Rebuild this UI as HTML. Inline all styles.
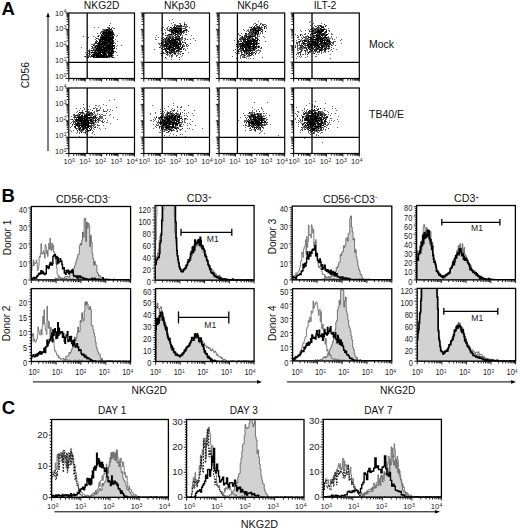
<!DOCTYPE html>
<html><head><meta charset="utf-8"><style>
html,body{margin:0;padding:0;background:#fff;}
svg{display:block;font-family:"Liberation Sans", sans-serif;}
</style></head><body>
<svg width="520" height="530" viewBox="0 0 520 530">
<rect width="520" height="530" fill="#fff"/>
<path d="M109 28h1v1h-1zM106 29h2v1h-2zM110 29h1v1h-1zM106 30h4v1h-4zM102 31h1v1h-1zM106 31h1v1h-1zM108 31h3v1h-3zM112 31h1v1h-1zM103 32h10v1h-10zM102 33h3v1h-3zM106 33h6v1h-6zM103 34h1v1h-1zM105 34h6v1h-6zM112 34h2v1h-2zM101 35h2v1h-2zM104 35h9v1h-9zM98 36h1v1h-1zM102 36h7v1h-7zM110 36h1v1h-1zM113 36h1v1h-1zM100 37h13v1h-13zM101 38h6v1h-6zM108 38h5v1h-5zM100 39h13v1h-13zM99 40h2v1h-2zM102 40h1v1h-1zM104 40h7v1h-7zM112 40h1v1h-1zM99 41h6v1h-6zM107 41h4v1h-4zM112 41h1v1h-1zM96 42h1v1h-1zM99 42h1v1h-1zM102 42h5v1h-5zM108 42h5v1h-5zM98 43h10v1h-10zM110 43h4v1h-4zM98 44h5v1h-5zM104 44h1v1h-1zM106 44h1v1h-1zM108 44h3v1h-3zM112 44h1v1h-1zM96 45h4v1h-4zM101 45h1v1h-1zM103 45h3v1h-3zM107 45h4v1h-4zM112 45h3v1h-3zM95 46h1v1h-1zM97 46h3v1h-3zM101 46h3v1h-3zM106 46h7v1h-7zM95 47h1v1h-1zM97 47h5v1h-5zM103 47h7v1h-7zM111 47h2v1h-2zM114 47h1v1h-1zM96 48h6v1h-6zM103 48h11v1h-11zM96 49h15v1h-15zM112 49h1v1h-1zM91 50h1v1h-1zM95 50h7v1h-7zM103 50h5v1h-5zM109 50h4v1h-4zM89 51h1v1h-1zM95 51h1v1h-1zM98 51h3v1h-3zM102 51h1v1h-1zM104 51h3v1h-3zM108 51h2v1h-2zM111 51h3v1h-3zM91 52h4v1h-4zM96 52h1v1h-1zM98 52h8v1h-8zM108 52h4v1h-4zM113 52h1v1h-1zM95 53h6v1h-6zM103 53h3v1h-3zM108 53h5v1h-5zM86 54h1v1h-1zM89 54h1v1h-1zM93 54h6v1h-6zM100 54h2v1h-2zM103 54h4v1h-4zM109 54h3v1h-3zM91 55h1v1h-1zM93 55h2v1h-2zM96 55h9v1h-9zM106 55h1v1h-1zM108 55h4v1h-4zM85 56h1v1h-1zM91 56h3v1h-3zM96 56h16v1h-16zM88 57h1v1h-1zM93 57h2v1h-2zM96 57h4v1h-4zM102 57h3v1h-3zM106 57h2v1h-2zM112 57h1v1h-1z" fill="#000"/>
<path d="M108 28h1v1h-1zM111 28h1v1h-1zM109 29h1v1h-1zM111 29h1v1h-1zM104 30h2v1h-2zM112 30h1v1h-1zM103 31h3v1h-3zM111 31h1v1h-1zM100 33h1v1h-1zM105 33h1v1h-1zM112 33h2v1h-2zM101 34h1v1h-1zM104 34h1v1h-1zM111 34h1v1h-1zM109 36h1v1h-1zM112 36h1v1h-1zM88 37h1v1h-1zM113 37h1v1h-1zM96 38h1v1h-1zM100 38h1v1h-1zM107 38h1v1h-1zM113 38h1v1h-1zM99 39h1v1h-1zM96 40h1v1h-1zM111 40h1v1h-1zM113 40h1v1h-1zM97 41h1v1h-1zM105 41h2v1h-2zM111 41h1v1h-1zM113 41h1v1h-1zM95 42h1v1h-1zM98 42h1v1h-1zM100 42h1v1h-1zM107 42h1v1h-1zM95 43h1v1h-1zM97 43h1v1h-1zM109 43h1v1h-1zM115 43h1v1h-1zM94 44h1v1h-1zM103 44h1v1h-1zM105 44h1v1h-1zM107 44h1v1h-1zM111 44h1v1h-1zM93 45h1v1h-1zM100 45h1v1h-1zM102 45h1v1h-1zM106 45h1v1h-1zM111 45h1v1h-1zM96 46h1v1h-1zM100 46h1v1h-1zM105 46h1v1h-1zM113 46h1v1h-1zM92 47h1v1h-1zM102 47h1v1h-1zM110 47h1v1h-1zM114 48h1v1h-1zM93 49h1v1h-1zM111 49h1v1h-1zM92 50h3v1h-3zM102 50h1v1h-1zM108 50h1v1h-1zM97 51h1v1h-1zM101 51h1v1h-1zM103 51h1v1h-1zM107 51h1v1h-1zM89 52h1v1h-1zM95 52h1v1h-1zM107 52h1v1h-1zM112 52h1v1h-1zM89 53h1v1h-1zM94 53h1v1h-1zM102 53h1v1h-1zM107 53h1v1h-1zM92 54h1v1h-1zM99 54h1v1h-1zM108 54h1v1h-1zM95 55h1v1h-1zM105 55h1v1h-1zM112 55h1v1h-1zM94 56h1v1h-1zM95 57h1v1h-1zM100 57h2v1h-2zM105 57h1v1h-1zM109 57h1v1h-1z" fill="#2a2a2a"/>
<path d="M110 23h1v1h-1zM109 25h1v1h-1zM94 27h1v1h-1zM98 27h1v1h-1zM107 27h3v1h-3zM112 27h1v1h-1zM113 28h2v1h-2zM102 29h4v1h-4zM108 29h1v1h-1zM103 30h1v1h-1zM110 30h2v1h-2zM101 31h1v1h-1zM107 31h1v1h-1zM100 32h3v1h-3zM113 32h1v1h-1zM97 33h1v1h-1zM102 34h1v1h-1zM114 34h1v1h-1zM98 35h2v1h-2zM103 35h1v1h-1zM114 35h1v1h-1zM117 35h1v1h-1zM83 36h1v1h-1zM93 36h1v1h-1zM97 36h1v1h-1zM100 36h2v1h-2zM111 36h1v1h-1zM116 36h1v1h-1zM95 37h1v1h-1zM97 38h2v1h-2zM95 39h1v1h-1zM98 39h1v1h-1zM115 39h1v1h-1zM101 40h1v1h-1zM103 40h1v1h-1zM95 41h2v1h-2zM117 41h1v1h-1zM101 42h1v1h-1zM113 42h2v1h-2zM94 43h1v1h-1zM96 43h1v1h-1zM108 43h1v1h-1zM91 44h3v1h-3zM97 44h1v1h-1zM94 45h2v1h-2zM117 45h1v1h-1zM121 45h1v1h-1zM91 46h2v1h-2zM94 46h1v1h-1zM104 46h1v1h-1zM114 46h1v1h-1zM116 46h1v1h-1zM81 47h1v1h-1zM93 47h2v1h-2zM96 47h1v1h-1zM91 48h5v1h-5zM102 48h1v1h-1zM116 48h1v1h-1zM89 49h1v1h-1zM94 49h2v1h-2zM113 49h1v1h-1zM88 50h3v1h-3zM113 50h1v1h-1zM88 51h1v1h-1zM92 51h1v1h-1zM94 51h1v1h-1zM96 51h1v1h-1zM110 51h1v1h-1zM114 51h2v1h-2zM85 52h1v1h-1zM90 52h1v1h-1zM97 52h1v1h-1zM106 52h1v1h-1zM116 52h1v1h-1zM88 53h1v1h-1zM91 53h1v1h-1zM93 53h1v1h-1zM106 53h1v1h-1zM113 53h1v1h-1zM90 54h1v1h-1zM102 54h1v1h-1zM112 54h1v1h-1zM87 55h3v1h-3zM92 55h1v1h-1zM107 55h1v1h-1zM113 55h1v1h-1zM117 55h1v1h-1zM84 56h1v1h-1zM87 56h4v1h-4zM95 56h1v1h-1zM112 56h1v1h-1zM86 57h2v1h-2zM90 57h1v1h-1zM108 57h1v1h-1zM111 57h1v1h-1zM113 57h2v1h-2z" fill="#666"/>
<path d="M68.40 78.50h-2.8M68.40 73.57h-1.8M68.40 70.69h-1.8M68.40 68.64h-1.8M68.40 67.05h-1.8M68.40 65.76h-1.8M68.40 64.66h-1.8M68.40 63.71h-1.8M68.40 62.87h-1.8M68.40 62.12h-2.8M68.40 57.20h-1.8M68.40 54.31h-1.8M68.40 52.27h-1.8M68.40 50.68h-1.8M68.40 49.38h-1.8M68.40 48.29h-1.8M68.40 47.34h-1.8M68.40 46.50h-1.8M68.40 45.75h-2.8M68.40 40.82h-1.8M68.40 37.94h-1.8M68.40 35.89h-1.8M68.40 34.30h-1.8M68.40 33.01h-1.8M68.40 31.91h-1.8M68.40 30.96h-1.8M68.40 30.12h-1.8M68.40 29.38h-2.8M68.40 24.45h-1.8M68.40 21.56h-1.8M68.40 19.52h-1.8M68.40 17.93h-1.8M68.40 16.63h-1.8M68.40 15.54h-1.8M68.40 14.59h-1.8M68.40 13.75h-1.8M68.40 13.00h-2.8" stroke="#000" stroke-width="0.9" fill="none"/>
<path d="M68.80 78.90v2.8M73.74 78.90v1.8M76.64 78.90v1.8M78.69 78.90v1.8M80.28 78.90v1.8M81.58 78.90v1.8M82.68 78.90v1.8M83.63 78.90v1.8M84.47 78.90v1.8M85.22 78.90v2.8M90.17 78.90v1.8M93.06 78.90v1.8M95.11 78.90v1.8M96.71 78.90v1.8M98.01 78.90v1.8M99.11 78.90v1.8M100.06 78.90v1.8M100.90 78.90v1.8M101.65 78.90v2.8M106.59 78.90v1.8M109.49 78.90v1.8M111.54 78.90v1.8M113.13 78.90v1.8M114.43 78.90v1.8M115.53 78.90v1.8M116.48 78.90v1.8M117.32 78.90v1.8M118.08 78.90v2.8M123.02 78.90v1.8M125.91 78.90v1.8M127.96 78.90v1.8M129.56 78.90v1.8M130.86 78.90v1.8M131.96 78.90v1.8M132.91 78.90v1.8M133.75 78.90v1.8M134.50 78.90v2.8" stroke="#000" stroke-width="0.9" fill="none"/>
<line x1="87.20" y1="13.00" x2="87.20" y2="78.50" stroke="#000" stroke-width="1.3"/>
<line x1="68.80" y1="62.40" x2="134.50" y2="62.40" stroke="#000" stroke-width="1.3"/>
<rect x="68.80" y="13.00" width="65.70" height="65.50" fill="none" stroke="#000" stroke-width="1.2"/>
<path d="M184 24h1v1h-1zM180 25h1v1h-1zM174 26h1v1h-1zM176 26h1v1h-1zM178 26h2v1h-2zM173 27h1v1h-1zM175 27h1v1h-1zM174 28h7v1h-7zM170 29h1v1h-1zM173 29h1v1h-1zM175 29h1v1h-1zM178 29h1v1h-1zM180 29h2v1h-2zM186 29h1v1h-1zM171 30h7v1h-7zM179 30h3v1h-3zM184 30h1v1h-1zM171 31h2v1h-2zM174 31h7v1h-7zM183 31h1v1h-1zM171 32h3v1h-3zM175 32h4v1h-4zM180 32h1v1h-1zM173 33h2v1h-2zM169 34h3v1h-3zM175 34h2v1h-2zM180 34h1v1h-1zM178 36h2v1h-2zM166 37h1v1h-1zM175 37h1v1h-1zM166 38h1v1h-1zM168 38h1v1h-1zM170 38h1v1h-1zM173 38h1v1h-1zM177 38h2v1h-2zM165 39h1v1h-1zM168 39h2v1h-2zM171 39h8v1h-8zM167 40h1v1h-1zM169 40h7v1h-7zM179 40h1v1h-1zM162 41h1v1h-1zM165 41h1v1h-1zM168 41h3v1h-3zM172 41h4v1h-4zM177 41h1v1h-1zM179 41h1v1h-1zM161 42h1v1h-1zM166 42h1v1h-1zM169 42h9v1h-9zM180 42h1v1h-1zM165 43h1v1h-1zM167 43h1v1h-1zM170 43h7v1h-7zM178 43h1v1h-1zM180 43h1v1h-1zM185 43h1v1h-1zM162 44h1v1h-1zM164 44h5v1h-5zM170 44h2v1h-2zM173 44h8v1h-8zM163 45h2v1h-2zM166 45h1v1h-1zM169 45h2v1h-2zM172 45h3v1h-3zM176 45h3v1h-3zM180 45h1v1h-1zM165 46h2v1h-2zM169 46h3v1h-3zM173 46h6v1h-6zM180 46h1v1h-1zM182 46h1v1h-1zM166 47h1v1h-1zM168 47h6v1h-6zM175 47h1v1h-1zM177 47h3v1h-3zM181 47h2v1h-2zM161 48h1v1h-1zM166 48h4v1h-4zM173 48h2v1h-2zM176 48h3v1h-3zM180 48h1v1h-1zM163 49h1v1h-1zM168 49h2v1h-2zM171 49h4v1h-4zM179 49h1v1h-1zM166 50h1v1h-1zM169 50h1v1h-1zM171 50h3v1h-3zM176 50h3v1h-3zM167 51h1v1h-1zM171 51h1v1h-1zM174 51h1v1h-1zM166 52h2v1h-2zM170 52h1v1h-1zM172 52h1v1h-1zM174 52h1v1h-1zM170 53h1v1h-1zM174 53h2v1h-2z" fill="#000"/>
<path d="M177 25h1v1h-1zM181 25h1v1h-1zM180 26h2v1h-2zM183 26h1v1h-1zM170 27h2v1h-2zM174 27h1v1h-1zM177 27h1v1h-1zM172 28h1v1h-1zM181 28h1v1h-1zM184 28h1v1h-1zM171 29h1v1h-1zM174 29h1v1h-1zM176 29h1v1h-1zM179 29h1v1h-1zM185 29h1v1h-1zM168 30h2v1h-2zM178 30h1v1h-1zM183 30h1v1h-1zM185 30h2v1h-2zM181 31h2v1h-2zM181 32h2v1h-2zM175 33h1v1h-1zM177 33h3v1h-3zM181 33h1v1h-1zM168 34h1v1h-1zM173 34h1v1h-1zM177 34h1v1h-1zM165 35h1v1h-1zM167 35h1v1h-1zM174 35h2v1h-2zM177 35h1v1h-1zM180 35h1v1h-1zM169 36h1v1h-1zM173 36h1v1h-1zM176 36h1v1h-1zM169 37h2v1h-2zM172 37h1v1h-1zM176 37h1v1h-1zM179 37h1v1h-1zM181 37h1v1h-1zM164 38h1v1h-1zM169 38h1v1h-1zM172 38h1v1h-1zM175 38h2v1h-2zM179 38h2v1h-2zM163 39h1v1h-1zM167 39h1v1h-1zM179 39h1v1h-1zM185 39h1v1h-1zM187 39h1v1h-1zM161 40h1v1h-1zM165 40h1v1h-1zM168 40h1v1h-1zM178 40h1v1h-1zM166 41h2v1h-2zM171 41h1v1h-1zM176 41h1v1h-1zM180 41h1v1h-1zM163 42h1v1h-1zM165 42h1v1h-1zM167 42h2v1h-2zM179 42h1v1h-1zM182 42h1v1h-1zM161 43h1v1h-1zM166 43h1v1h-1zM168 43h2v1h-2zM179 43h1v1h-1zM161 44h1v1h-1zM172 44h1v1h-1zM181 44h1v1h-1zM183 44h1v1h-1zM165 45h1v1h-1zM167 45h1v1h-1zM171 45h1v1h-1zM175 45h1v1h-1zM182 45h1v1h-1zM164 46h1v1h-1zM167 46h2v1h-2zM159 47h1v1h-1zM176 47h1v1h-1zM164 48h2v1h-2zM170 48h1v1h-1zM172 48h1v1h-1zM175 48h1v1h-1zM179 48h1v1h-1zM181 48h1v1h-1zM164 49h2v1h-2zM167 49h1v1h-1zM175 49h1v1h-1zM178 49h1v1h-1zM180 49h2v1h-2zM183 49h1v1h-1zM165 50h1v1h-1zM170 50h1v1h-1zM174 50h1v1h-1zM162 51h1v1h-1zM165 51h1v1h-1zM173 51h1v1h-1zM176 51h1v1h-1zM178 51h1v1h-1zM181 51h1v1h-1zM163 52h1v1h-1zM169 52h1v1h-1zM171 52h1v1h-1zM161 53h2v1h-2zM167 53h1v1h-1zM169 53h1v1h-1zM182 53h2v1h-2zM166 54h1v1h-1zM172 54h1v1h-1zM180 54h1v1h-1zM171 55h1v1h-1zM176 55h1v1h-1zM165 57h1v1h-1zM179 57h1v1h-1z" fill="#2a2a2a"/>
<path d="M172 19h1v1h-1zM169 20h1v1h-1zM173 22h1v1h-1zM184 22h1v1h-1zM171 23h1v1h-1zM179 23h2v1h-2zM184 23h1v1h-1zM174 24h2v1h-2zM180 24h1v1h-1zM185 24h2v1h-2zM172 25h1v1h-1zM174 25h3v1h-3zM178 25h2v1h-2zM184 25h1v1h-1zM186 25h1v1h-1zM168 26h1v1h-1zM177 26h1v1h-1zM182 26h1v1h-1zM184 26h4v1h-4zM163 27h1v1h-1zM167 27h1v1h-1zM176 27h1v1h-1zM178 27h4v1h-4zM185 27h2v1h-2zM189 27h1v1h-1zM161 28h1v1h-1zM166 28h2v1h-2zM169 28h1v1h-1zM171 28h1v1h-1zM173 28h1v1h-1zM182 28h2v1h-2zM185 28h1v1h-1zM164 29h1v1h-1zM167 29h1v1h-1zM169 29h1v1h-1zM172 29h1v1h-1zM177 29h1v1h-1zM161 30h1v1h-1zM165 30h1v1h-1zM167 30h1v1h-1zM170 30h1v1h-1zM187 30h1v1h-1zM169 31h2v1h-2zM173 31h1v1h-1zM184 31h1v1h-1zM186 31h1v1h-1zM188 31h1v1h-1zM165 32h1v1h-1zM174 32h1v1h-1zM179 32h1v1h-1zM183 32h2v1h-2zM186 32h1v1h-1zM162 33h2v1h-2zM165 33h1v1h-1zM171 33h2v1h-2zM180 33h1v1h-1zM183 33h1v1h-1zM163 34h1v1h-1zM172 34h1v1h-1zM178 34h2v1h-2zM181 34h1v1h-1zM185 34h2v1h-2zM156 35h1v1h-1zM166 35h1v1h-1zM168 35h5v1h-5zM178 35h1v1h-1zM182 35h1v1h-1zM191 35h1v1h-1zM167 36h2v1h-2zM170 36h3v1h-3zM175 36h1v1h-1zM177 36h1v1h-1zM182 36h1v1h-1zM155 37h1v1h-1zM158 37h1v1h-1zM163 37h1v1h-1zM167 37h2v1h-2zM171 37h1v1h-1zM173 37h2v1h-2zM177 37h2v1h-2zM182 37h1v1h-1zM161 38h2v1h-2zM165 38h1v1h-1zM167 38h1v1h-1zM171 38h1v1h-1zM181 38h2v1h-2zM184 38h2v1h-2zM193 38h1v1h-1zM155 39h2v1h-2zM164 39h1v1h-1zM166 39h1v1h-1zM180 39h3v1h-3zM190 39h1v1h-1zM163 40h2v1h-2zM166 40h1v1h-1zM176 40h2v1h-2zM180 40h2v1h-2zM184 40h1v1h-1zM195 40h1v1h-1zM163 41h2v1h-2zM182 41h1v1h-1zM162 42h1v1h-1zM164 42h1v1h-1zM178 42h1v1h-1zM183 42h3v1h-3zM158 43h3v1h-3zM162 43h2v1h-2zM177 43h1v1h-1zM181 43h1v1h-1zM190 43h1v1h-1zM159 44h1v1h-1zM163 44h1v1h-1zM169 44h1v1h-1zM186 44h2v1h-2zM160 45h2v1h-2zM168 45h1v1h-1zM183 45h2v1h-2zM186 45h1v1h-1zM188 45h1v1h-1zM160 46h1v1h-1zM162 46h2v1h-2zM172 46h1v1h-1zM179 46h1v1h-1zM183 46h2v1h-2zM186 46h2v1h-2zM160 47h1v1h-1zM163 47h2v1h-2zM167 47h1v1h-1zM171 48h1v1h-1zM183 48h2v1h-2zM187 48h1v1h-1zM154 49h1v1h-1zM166 49h1v1h-1zM170 49h1v1h-1zM177 49h1v1h-1zM185 49h1v1h-1zM179 50h1v1h-1zM185 50h1v1h-1zM161 51h1v1h-1zM166 51h1v1h-1zM168 51h3v1h-3zM172 51h1v1h-1zM175 51h1v1h-1zM177 51h1v1h-1zM179 51h2v1h-2zM162 52h1v1h-1zM168 52h1v1h-1zM173 52h1v1h-1zM175 52h2v1h-2zM178 52h1v1h-1zM180 52h1v1h-1zM188 52h1v1h-1zM160 53h1v1h-1zM163 53h3v1h-3zM171 53h1v1h-1zM173 53h1v1h-1zM177 53h3v1h-3zM167 54h2v1h-2zM170 54h1v1h-1zM174 54h2v1h-2zM178 54h1v1h-1zM161 55h2v1h-2zM167 55h1v1h-1zM169 55h1v1h-1zM172 55h1v1h-1zM177 55h1v1h-1zM182 55h1v1h-1zM162 56h1v1h-1zM169 56h1v1h-1zM171 56h2v1h-2zM176 56h1v1h-1zM181 56h1v1h-1zM171 57h1v1h-1zM166 58h1v1h-1zM171 59h1v1h-1zM179 59h1v1h-1z" fill="#666"/>
<path d="M143.40 78.50h-2.8M143.40 73.57h-1.8M143.40 70.69h-1.8M143.40 68.64h-1.8M143.40 67.05h-1.8M143.40 65.76h-1.8M143.40 64.66h-1.8M143.40 63.71h-1.8M143.40 62.87h-1.8M143.40 62.12h-2.8M143.40 57.20h-1.8M143.40 54.31h-1.8M143.40 52.27h-1.8M143.40 50.68h-1.8M143.40 49.38h-1.8M143.40 48.29h-1.8M143.40 47.34h-1.8M143.40 46.50h-1.8M143.40 45.75h-2.8M143.40 40.82h-1.8M143.40 37.94h-1.8M143.40 35.89h-1.8M143.40 34.30h-1.8M143.40 33.01h-1.8M143.40 31.91h-1.8M143.40 30.96h-1.8M143.40 30.12h-1.8M143.40 29.38h-2.8M143.40 24.45h-1.8M143.40 21.56h-1.8M143.40 19.52h-1.8M143.40 17.93h-1.8M143.40 16.63h-1.8M143.40 15.54h-1.8M143.40 14.59h-1.8M143.40 13.75h-1.8M143.40 13.00h-2.8" stroke="#000" stroke-width="0.9" fill="none"/>
<path d="M143.80 78.90v2.8M148.74 78.90v1.8M151.64 78.90v1.8M153.69 78.90v1.8M155.28 78.90v1.8M156.58 78.90v1.8M157.68 78.90v1.8M158.63 78.90v1.8M159.47 78.90v1.8M160.23 78.90v2.8M165.17 78.90v1.8M168.06 78.90v1.8M170.11 78.90v1.8M171.71 78.90v1.8M173.01 78.90v1.8M174.11 78.90v1.8M175.06 78.90v1.8M175.90 78.90v1.8M176.65 78.90v2.8M181.59 78.90v1.8M184.49 78.90v1.8M186.54 78.90v1.8M188.13 78.90v1.8M189.43 78.90v1.8M190.53 78.90v1.8M191.48 78.90v1.8M192.32 78.90v1.8M193.07 78.90v2.8M198.02 78.90v1.8M200.91 78.90v1.8M202.96 78.90v1.8M204.56 78.90v1.8M205.86 78.90v1.8M206.96 78.90v1.8M207.91 78.90v1.8M208.75 78.90v1.8M209.50 78.90v2.8" stroke="#000" stroke-width="0.9" fill="none"/>
<line x1="162.20" y1="13.00" x2="162.20" y2="78.50" stroke="#000" stroke-width="1.3"/>
<line x1="143.80" y1="62.40" x2="209.50" y2="62.40" stroke="#000" stroke-width="1.3"/>
<rect x="143.80" y="13.00" width="65.70" height="65.50" fill="none" stroke="#000" stroke-width="1.2"/>
<path d="M257 26h1v1h-1zM265 26h1v1h-1zM251 27h1v1h-1zM254 27h1v1h-1zM258 27h2v1h-2zM255 28h2v1h-2zM259 28h1v1h-1zM264 28h1v1h-1zM250 29h1v1h-1zM253 29h3v1h-3zM258 29h1v1h-1zM261 29h1v1h-1zM250 30h1v1h-1zM253 30h1v1h-1zM255 30h6v1h-6zM253 31h1v1h-1zM256 31h3v1h-3zM261 31h1v1h-1zM249 32h1v1h-1zM251 32h1v1h-1zM253 32h1v1h-1zM255 32h2v1h-2zM258 32h1v1h-1zM245 33h1v1h-1zM252 33h1v1h-1zM255 33h1v1h-1zM255 34h1v1h-1zM257 34h1v1h-1zM246 35h1v1h-1zM246 36h1v1h-1zM248 36h3v1h-3zM252 36h3v1h-3zM242 37h1v1h-1zM246 37h1v1h-1zM249 37h2v1h-2zM255 37h1v1h-1zM245 38h1v1h-1zM247 38h1v1h-1zM249 38h1v1h-1zM252 38h1v1h-1zM255 38h1v1h-1zM257 38h1v1h-1zM244 39h2v1h-2zM247 39h1v1h-1zM252 39h3v1h-3zM243 40h1v1h-1zM247 40h4v1h-4zM253 40h5v1h-5zM238 41h1v1h-1zM241 41h1v1h-1zM244 41h10v1h-10zM255 41h1v1h-1zM245 42h1v1h-1zM247 42h3v1h-3zM251 42h1v1h-1zM253 42h2v1h-2zM256 42h1v1h-1zM240 43h4v1h-4zM245 43h9v1h-9zM256 43h1v1h-1zM236 44h1v1h-1zM239 44h2v1h-2zM242 44h2v1h-2zM245 44h4v1h-4zM250 44h2v1h-2zM253 44h2v1h-2zM256 44h1v1h-1zM241 45h8v1h-8zM250 45h1v1h-1zM253 45h2v1h-2zM240 46h1v1h-1zM242 46h4v1h-4zM247 46h7v1h-7zM255 46h1v1h-1zM240 47h1v1h-1zM242 47h1v1h-1zM244 47h3v1h-3zM248 47h3v1h-3zM253 47h3v1h-3zM258 47h1v1h-1zM241 48h3v1h-3zM245 48h2v1h-2zM248 48h3v1h-3zM252 48h2v1h-2zM256 48h1v1h-1zM243 49h1v1h-1zM247 49h1v1h-1zM249 49h1v1h-1zM253 49h2v1h-2zM241 50h1v1h-1zM243 50h1v1h-1zM245 50h5v1h-5zM251 50h2v1h-2zM244 51h1v1h-1zM246 51h1v1h-1zM250 51h1v1h-1zM241 52h1v1h-1zM244 52h1v1h-1zM249 52h1v1h-1zM251 52h1v1h-1zM246 53h2v1h-2zM249 53h2v1h-2zM255 53h1v1h-1zM242 54h1v1h-1zM246 54h1v1h-1zM244 57h1v1h-1z" fill="#000"/>
<path d="M256 24h1v1h-1zM260 24h1v1h-1zM262 24h1v1h-1zM255 25h1v1h-1zM263 25h1v1h-1zM254 26h1v1h-1zM264 26h1v1h-1zM253 27h1v1h-1zM257 27h1v1h-1zM261 27h1v1h-1zM264 27h1v1h-1zM252 28h3v1h-3zM258 28h1v1h-1zM260 28h1v1h-1zM251 29h2v1h-2zM262 29h1v1h-1zM247 30h1v1h-1zM251 30h1v1h-1zM254 30h1v1h-1zM252 31h1v1h-1zM255 31h1v1h-1zM265 31h1v1h-1zM254 32h1v1h-1zM246 33h1v1h-1zM248 33h1v1h-1zM254 33h1v1h-1zM256 33h3v1h-3zM245 34h1v1h-1zM249 34h1v1h-1zM251 34h3v1h-3zM245 35h1v1h-1zM250 35h2v1h-2zM254 35h2v1h-2zM257 35h1v1h-1zM242 36h1v1h-1zM244 36h1v1h-1zM247 36h1v1h-1zM251 36h1v1h-1zM244 37h1v1h-1zM248 37h1v1h-1zM241 38h4v1h-4zM248 38h1v1h-1zM256 38h1v1h-1zM239 39h2v1h-2zM242 39h2v1h-2zM246 39h1v1h-1zM248 39h1v1h-1zM250 39h1v1h-1zM257 39h2v1h-2zM244 40h2v1h-2zM251 40h2v1h-2zM259 40h1v1h-1zM243 41h1v1h-1zM254 41h1v1h-1zM256 41h1v1h-1zM237 42h1v1h-1zM242 42h1v1h-1zM244 42h1v1h-1zM246 42h1v1h-1zM250 42h1v1h-1zM239 43h1v1h-1zM254 43h2v1h-2zM257 43h2v1h-2zM237 44h1v1h-1zM244 44h1v1h-1zM249 44h1v1h-1zM252 44h1v1h-1zM255 44h1v1h-1zM240 45h1v1h-1zM249 45h1v1h-1zM256 45h1v1h-1zM241 46h1v1h-1zM246 46h1v1h-1zM254 46h1v1h-1zM256 46h1v1h-1zM258 46h2v1h-2zM238 47h1v1h-1zM247 47h1v1h-1zM261 47h1v1h-1zM240 48h1v1h-1zM251 48h1v1h-1zM254 48h1v1h-1zM239 49h1v1h-1zM242 49h1v1h-1zM245 49h2v1h-2zM250 49h1v1h-1zM238 50h1v1h-1zM244 50h1v1h-1zM250 50h1v1h-1zM254 50h1v1h-1zM238 51h1v1h-1zM243 51h1v1h-1zM245 51h1v1h-1zM248 51h1v1h-1zM246 52h1v1h-1zM252 52h1v1h-1zM254 52h1v1h-1zM251 53h1v1h-1zM241 54h1v1h-1zM243 54h1v1h-1zM248 54h2v1h-2zM251 54h2v1h-2zM244 55h1v1h-1zM249 55h2v1h-2z" fill="#2a2a2a"/>
<path d="M258 21h1v1h-1zM254 23h2v1h-2zM260 23h2v1h-2zM253 24h1v1h-1zM257 24h1v1h-1zM263 24h3v1h-3zM256 25h1v1h-1zM259 25h1v1h-1zM262 25h1v1h-1zM266 25h1v1h-1zM252 26h1v1h-1zM256 26h1v1h-1zM258 26h2v1h-2zM261 26h1v1h-1zM249 27h2v1h-2zM255 27h2v1h-2zM260 27h1v1h-1zM262 27h1v1h-1zM266 27h1v1h-1zM251 28h1v1h-1zM257 28h1v1h-1zM261 28h1v1h-1zM266 28h1v1h-1zM243 29h1v1h-1zM248 29h1v1h-1zM256 29h2v1h-2zM259 29h2v1h-2zM244 30h1v1h-1zM248 30h1v1h-1zM252 30h1v1h-1zM262 30h1v1h-1zM246 31h1v1h-1zM248 31h4v1h-4zM254 31h1v1h-1zM262 31h1v1h-1zM250 32h1v1h-1zM252 32h1v1h-1zM257 32h1v1h-1zM260 32h1v1h-1zM262 32h1v1h-1zM238 33h1v1h-1zM241 33h1v1h-1zM249 33h3v1h-3zM253 33h1v1h-1zM260 33h1v1h-1zM262 33h1v1h-1zM238 34h1v1h-1zM246 34h3v1h-3zM250 34h1v1h-1zM254 34h1v1h-1zM256 34h1v1h-1zM258 34h2v1h-2zM237 35h1v1h-1zM239 35h2v1h-2zM244 35h1v1h-1zM248 35h2v1h-2zM252 35h2v1h-2zM241 36h1v1h-1zM245 36h1v1h-1zM255 36h1v1h-1zM257 36h3v1h-3zM263 36h1v1h-1zM240 37h2v1h-2zM243 37h1v1h-1zM245 37h1v1h-1zM247 37h1v1h-1zM251 37h2v1h-2zM256 37h2v1h-2zM264 37h1v1h-1zM239 38h2v1h-2zM250 38h2v1h-2zM253 38h1v1h-1zM241 39h1v1h-1zM249 39h1v1h-1zM251 39h1v1h-1zM255 39h1v1h-1zM234 40h1v1h-1zM237 40h2v1h-2zM240 40h2v1h-2zM239 41h2v1h-2zM257 41h1v1h-1zM265 41h1v1h-1zM238 42h1v1h-1zM243 42h1v1h-1zM255 42h1v1h-1zM257 42h1v1h-1zM237 43h2v1h-2zM244 43h1v1h-1zM259 43h1v1h-1zM238 44h1v1h-1zM241 44h1v1h-1zM257 44h1v1h-1zM238 45h2v1h-2zM252 45h1v1h-1zM258 45h1v1h-1zM236 46h4v1h-4zM257 46h1v1h-1zM241 47h1v1h-1zM243 47h1v1h-1zM251 47h2v1h-2zM256 47h2v1h-2zM259 47h1v1h-1zM239 48h1v1h-1zM247 48h1v1h-1zM255 48h1v1h-1zM260 48h2v1h-2zM235 49h1v1h-1zM238 49h1v1h-1zM240 49h2v1h-2zM248 49h1v1h-1zM251 49h2v1h-2zM255 49h1v1h-1zM258 49h1v1h-1zM233 50h1v1h-1zM240 50h1v1h-1zM242 50h1v1h-1zM253 50h1v1h-1zM256 50h5v1h-5zM239 51h3v1h-3zM247 51h1v1h-1zM249 51h1v1h-1zM252 51h1v1h-1zM255 51h2v1h-2zM260 51h1v1h-1zM235 52h1v1h-1zM238 52h1v1h-1zM242 52h1v1h-1zM245 52h1v1h-1zM247 52h2v1h-2zM253 52h1v1h-1zM256 52h1v1h-1zM259 52h1v1h-1zM236 53h1v1h-1zM238 53h2v1h-2zM241 53h1v1h-1zM244 53h2v1h-2zM248 53h1v1h-1zM252 53h2v1h-2zM258 53h1v1h-1zM237 54h1v1h-1zM244 54h1v1h-1zM255 54h1v1h-1zM240 55h2v1h-2zM243 55h1v1h-1zM245 55h1v1h-1zM247 55h2v1h-2zM251 55h1v1h-1zM253 55h1v1h-1zM232 56h1v1h-1zM240 56h1v1h-1zM242 56h3v1h-3zM246 56h4v1h-4zM240 57h1v1h-1zM242 57h2v1h-2zM245 57h1v1h-1zM262 57h1v1h-1zM236 58h1v1h-1zM240 58h1v1h-1zM246 58h1v1h-1zM248 58h1v1h-1zM250 58h1v1h-1zM253 58h1v1h-1zM241 61h1v1h-1zM244 61h1v1h-1z" fill="#666"/>
<path d="M218.60 78.50h-2.8M218.60 73.57h-1.8M218.60 70.69h-1.8M218.60 68.64h-1.8M218.60 67.05h-1.8M218.60 65.76h-1.8M218.60 64.66h-1.8M218.60 63.71h-1.8M218.60 62.87h-1.8M218.60 62.12h-2.8M218.60 57.20h-1.8M218.60 54.31h-1.8M218.60 52.27h-1.8M218.60 50.68h-1.8M218.60 49.38h-1.8M218.60 48.29h-1.8M218.60 47.34h-1.8M218.60 46.50h-1.8M218.60 45.75h-2.8M218.60 40.82h-1.8M218.60 37.94h-1.8M218.60 35.89h-1.8M218.60 34.30h-1.8M218.60 33.01h-1.8M218.60 31.91h-1.8M218.60 30.96h-1.8M218.60 30.12h-1.8M218.60 29.38h-2.8M218.60 24.45h-1.8M218.60 21.56h-1.8M218.60 19.52h-1.8M218.60 17.93h-1.8M218.60 16.63h-1.8M218.60 15.54h-1.8M218.60 14.59h-1.8M218.60 13.75h-1.8M218.60 13.00h-2.8" stroke="#000" stroke-width="0.9" fill="none"/>
<path d="M219.00 78.90v2.8M223.94 78.90v1.8M226.84 78.90v1.8M228.89 78.90v1.8M230.48 78.90v1.8M231.78 78.90v1.8M232.88 78.90v1.8M233.83 78.90v1.8M234.67 78.90v1.8M235.43 78.90v2.8M240.37 78.90v1.8M243.26 78.90v1.8M245.31 78.90v1.8M246.91 78.90v1.8M248.21 78.90v1.8M249.31 78.90v1.8M250.26 78.90v1.8M251.10 78.90v1.8M251.85 78.90v2.8M256.79 78.90v1.8M259.69 78.90v1.8M261.74 78.90v1.8M263.33 78.90v1.8M264.63 78.90v1.8M265.73 78.90v1.8M266.68 78.90v1.8M267.52 78.90v1.8M268.27 78.90v2.8M273.22 78.90v1.8M276.11 78.90v1.8M278.16 78.90v1.8M279.76 78.90v1.8M281.06 78.90v1.8M282.16 78.90v1.8M283.11 78.90v1.8M283.95 78.90v1.8M284.70 78.90v2.8" stroke="#000" stroke-width="0.9" fill="none"/>
<line x1="237.40" y1="13.00" x2="237.40" y2="78.50" stroke="#000" stroke-width="1.3"/>
<line x1="219.00" y1="62.40" x2="284.70" y2="62.40" stroke="#000" stroke-width="1.3"/>
<rect x="219.00" y="13.00" width="65.70" height="65.50" fill="none" stroke="#000" stroke-width="1.2"/>
<path d="M321 26h1v1h-1zM317 27h1v1h-1zM321 27h3v1h-3zM316 28h1v1h-1zM320 28h1v1h-1zM315 29h1v1h-1zM317 29h1v1h-1zM320 29h5v1h-5zM313 30h1v1h-1zM318 30h2v1h-2zM321 30h3v1h-3zM317 31h6v1h-6zM325 31h1v1h-1zM315 32h7v1h-7zM312 33h1v1h-1zM314 33h2v1h-2zM317 33h1v1h-1zM319 33h2v1h-2zM322 33h2v1h-2zM310 34h1v1h-1zM316 34h1v1h-1zM322 34h2v1h-2zM326 34h2v1h-2zM300 35h1v1h-1zM313 35h1v1h-1zM315 35h5v1h-5zM321 35h2v1h-2zM325 35h2v1h-2zM308 36h1v1h-1zM316 36h2v1h-2zM319 36h1v1h-1zM308 37h1v1h-1zM310 37h1v1h-1zM313 37h1v1h-1zM317 37h5v1h-5zM324 37h2v1h-2zM310 38h2v1h-2zM316 38h3v1h-3zM320 38h2v1h-2zM323 38h1v1h-1zM326 38h1v1h-1zM313 39h5v1h-5zM319 39h4v1h-4zM327 39h1v1h-1zM304 40h2v1h-2zM308 40h1v1h-1zM312 40h1v1h-1zM317 40h2v1h-2zM320 40h1v1h-1zM322 40h3v1h-3zM327 40h1v1h-1zM329 40h1v1h-1zM299 41h1v1h-1zM302 41h1v1h-1zM304 41h1v1h-1zM308 41h8v1h-8zM317 41h1v1h-1zM319 41h4v1h-4zM324 41h1v1h-1zM326 41h4v1h-4zM303 42h1v1h-1zM307 42h1v1h-1zM312 42h7v1h-7zM321 42h2v1h-2zM324 42h2v1h-2zM329 42h1v1h-1zM303 43h3v1h-3zM309 43h1v1h-1zM311 43h3v1h-3zM315 43h3v1h-3zM320 43h1v1h-1zM322 43h1v1h-1zM324 43h2v1h-2zM327 43h1v1h-1zM330 43h1v1h-1zM307 44h5v1h-5zM314 44h4v1h-4zM324 44h4v1h-4zM329 44h1v1h-1zM302 45h1v1h-1zM307 45h2v1h-2zM310 45h3v1h-3zM314 45h5v1h-5zM321 45h3v1h-3zM328 45h1v1h-1zM309 46h2v1h-2zM312 46h1v1h-1zM314 46h2v1h-2zM317 46h3v1h-3zM321 46h2v1h-2zM324 46h1v1h-1zM328 46h1v1h-1zM304 47h1v1h-1zM309 47h1v1h-1zM311 47h1v1h-1zM316 47h1v1h-1zM318 47h3v1h-3zM322 47h1v1h-1zM326 47h1v1h-1zM306 48h1v1h-1zM308 48h1v1h-1zM311 48h1v1h-1zM313 48h1v1h-1zM316 48h2v1h-2zM321 48h1v1h-1zM324 48h2v1h-2zM309 49h2v1h-2zM317 49h1v1h-1zM319 49h2v1h-2zM325 49h1v1h-1zM314 50h1v1h-1zM316 50h1v1h-1zM319 50h3v1h-3zM309 51h1v1h-1zM300 52h1v1h-1zM307 54h1v1h-1z" fill="#000"/>
<path d="M324 24h1v1h-1zM319 25h2v1h-2zM315 26h1v1h-1zM318 26h1v1h-1zM320 26h1v1h-1zM323 26h1v1h-1zM325 26h1v1h-1zM318 27h1v1h-1zM311 28h1v1h-1zM314 29h1v1h-1zM318 29h1v1h-1zM312 30h1v1h-1zM315 30h1v1h-1zM317 30h1v1h-1zM326 30h1v1h-1zM309 31h1v1h-1zM311 31h3v1h-3zM315 31h2v1h-2zM326 31h1v1h-1zM314 32h1v1h-1zM324 32h3v1h-3zM311 33h1v1h-1zM313 33h1v1h-1zM318 33h1v1h-1zM324 33h1v1h-1zM300 34h1v1h-1zM312 34h1v1h-1zM317 34h5v1h-5zM324 34h1v1h-1zM297 35h1v1h-1zM323 35h1v1h-1zM312 36h3v1h-3zM318 36h1v1h-1zM320 36h1v1h-1zM322 36h1v1h-1zM324 36h2v1h-2zM297 37h1v1h-1zM304 37h1v1h-1zM309 37h1v1h-1zM311 37h1v1h-1zM314 37h2v1h-2zM323 37h1v1h-1zM326 37h3v1h-3zM302 38h1v1h-1zM307 38h1v1h-1zM312 38h1v1h-1zM319 38h1v1h-1zM322 38h1v1h-1zM324 38h1v1h-1zM309 39h4v1h-4zM318 39h1v1h-1zM324 39h2v1h-2zM328 39h1v1h-1zM303 40h1v1h-1zM306 40h1v1h-1zM310 40h1v1h-1zM315 40h2v1h-2zM321 40h1v1h-1zM325 40h2v1h-2zM328 40h1v1h-1zM300 41h1v1h-1zM305 41h2v1h-2zM318 41h1v1h-1zM330 41h1v1h-1zM296 42h1v1h-1zM308 42h2v1h-2zM320 42h1v1h-1zM323 42h1v1h-1zM326 42h1v1h-1zM328 42h1v1h-1zM333 42h1v1h-1zM297 43h1v1h-1zM308 43h1v1h-1zM310 43h1v1h-1zM314 43h1v1h-1zM319 43h1v1h-1zM321 43h1v1h-1zM323 43h1v1h-1zM326 43h1v1h-1zM328 43h2v1h-2zM303 44h1v1h-1zM313 44h1v1h-1zM318 44h4v1h-4zM323 44h1v1h-1zM300 45h2v1h-2zM305 45h2v1h-2zM313 45h1v1h-1zM325 45h2v1h-2zM297 46h1v1h-1zM301 46h1v1h-1zM303 46h1v1h-1zM308 46h1v1h-1zM323 46h1v1h-1zM326 46h2v1h-2zM329 46h1v1h-1zM295 47h1v1h-1zM300 47h2v1h-2zM305 47h1v1h-1zM308 47h1v1h-1zM310 47h1v1h-1zM312 47h1v1h-1zM314 47h1v1h-1zM321 47h1v1h-1zM318 48h1v1h-1zM322 48h1v1h-1zM327 48h3v1h-3zM300 49h1v1h-1zM307 49h1v1h-1zM314 49h3v1h-3zM321 49h1v1h-1zM323 49h2v1h-2zM301 50h1v1h-1zM304 50h2v1h-2zM310 50h3v1h-3zM315 50h1v1h-1zM322 50h1v1h-1zM324 50h2v1h-2zM301 51h1v1h-1zM305 51h1v1h-1zM319 51h1v1h-1zM324 51h1v1h-1zM328 51h1v1h-1zM299 52h1v1h-1zM308 52h1v1h-1zM317 52h1v1h-1zM308 53h1v1h-1zM314 53h1v1h-1zM296 54h1v1h-1zM300 54h1v1h-1z" fill="#2a2a2a"/>
<path d="M310 21h1v1h-1zM309 22h1v1h-1zM313 23h1v1h-1zM321 23h1v1h-1zM312 24h1v1h-1zM310 25h1v1h-1zM314 25h1v1h-1zM317 25h2v1h-2zM321 25h1v1h-1zM325 25h2v1h-2zM311 26h1v1h-1zM316 26h1v1h-1zM322 26h1v1h-1zM312 27h2v1h-2zM319 27h1v1h-1zM312 28h4v1h-4zM317 28h3v1h-3zM321 28h1v1h-1zM323 28h2v1h-2zM328 28h1v1h-1zM308 29h1v1h-1zM310 29h4v1h-4zM316 29h1v1h-1zM319 29h1v1h-1zM325 29h2v1h-2zM300 30h1v1h-1zM305 30h1v1h-1zM309 30h1v1h-1zM314 30h1v1h-1zM316 30h1v1h-1zM320 30h1v1h-1zM328 30h2v1h-2zM301 31h1v1h-1zM310 31h1v1h-1zM314 31h1v1h-1zM323 31h1v1h-1zM329 31h1v1h-1zM312 32h2v1h-2zM305 33h1v1h-1zM308 33h1v1h-1zM321 33h1v1h-1zM325 33h1v1h-1zM328 33h1v1h-1zM331 33h1v1h-1zM295 34h1v1h-1zM301 34h1v1h-1zM304 34h2v1h-2zM313 34h1v1h-1zM325 34h1v1h-1zM331 34h2v1h-2zM302 35h1v1h-1zM307 35h1v1h-1zM310 35h1v1h-1zM314 35h1v1h-1zM320 35h1v1h-1zM324 35h1v1h-1zM298 36h1v1h-1zM303 36h1v1h-1zM305 36h3v1h-3zM310 36h1v1h-1zM328 36h1v1h-1zM331 36h1v1h-1zM298 37h1v1h-1zM301 37h1v1h-1zM303 37h1v1h-1zM305 37h2v1h-2zM316 37h1v1h-1zM322 37h1v1h-1zM331 37h1v1h-1zM336 37h1v1h-1zM305 38h2v1h-2zM308 38h1v1h-1zM313 38h1v1h-1zM315 38h1v1h-1zM325 38h1v1h-1zM327 38h4v1h-4zM332 38h1v1h-1zM298 39h2v1h-2zM301 39h1v1h-1zM304 39h5v1h-5zM323 39h1v1h-1zM326 39h1v1h-1zM329 39h1v1h-1zM332 39h1v1h-1zM334 39h1v1h-1zM341 39h1v1h-1zM296 40h1v1h-1zM300 40h3v1h-3zM307 40h1v1h-1zM311 40h1v1h-1zM313 40h2v1h-2zM319 40h1v1h-1zM340 40h1v1h-1zM298 41h1v1h-1zM307 41h1v1h-1zM316 41h1v1h-1zM333 41h3v1h-3zM297 42h3v1h-3zM302 42h1v1h-1zM304 42h1v1h-1zM310 42h2v1h-2zM327 42h1v1h-1zM330 42h3v1h-3zM296 43h1v1h-1zM299 43h1v1h-1zM301 43h2v1h-2zM306 43h2v1h-2zM318 43h1v1h-1zM332 43h2v1h-2zM341 43h1v1h-1zM297 44h1v1h-1zM299 44h1v1h-1zM301 44h1v1h-1zM304 44h2v1h-2zM312 44h1v1h-1zM322 44h1v1h-1zM328 44h1v1h-1zM330 44h2v1h-2zM333 44h1v1h-1zM295 45h1v1h-1zM297 45h3v1h-3zM304 45h1v1h-1zM309 45h1v1h-1zM319 45h2v1h-2zM324 45h1v1h-1zM327 45h1v1h-1zM329 45h1v1h-1zM331 45h2v1h-2zM335 45h1v1h-1zM295 46h1v1h-1zM300 46h1v1h-1zM302 46h1v1h-1zM305 46h1v1h-1zM307 46h1v1h-1zM311 46h1v1h-1zM316 46h1v1h-1zM325 46h1v1h-1zM297 47h1v1h-1zM299 47h1v1h-1zM302 47h2v1h-2zM306 47h2v1h-2zM313 47h1v1h-1zM315 47h1v1h-1zM317 47h1v1h-1zM323 47h3v1h-3zM328 47h2v1h-2zM331 47h1v1h-1zM297 48h9v1h-9zM309 48h2v1h-2zM312 48h1v1h-1zM315 48h1v1h-1zM319 48h2v1h-2zM326 48h1v1h-1zM333 48h1v1h-1zM297 49h1v1h-1zM299 49h1v1h-1zM301 49h2v1h-2zM306 49h1v1h-1zM312 49h2v1h-2zM318 49h1v1h-1zM322 49h1v1h-1zM326 49h1v1h-1zM328 49h1v1h-1zM331 49h1v1h-1zM336 49h1v1h-1zM297 50h2v1h-2zM302 50h1v1h-1zM306 50h2v1h-2zM330 50h1v1h-1zM300 51h1v1h-1zM307 51h1v1h-1zM310 51h2v1h-2zM313 51h6v1h-6zM321 51h1v1h-1zM325 51h1v1h-1zM332 51h1v1h-1zM297 52h2v1h-2zM305 52h1v1h-1zM307 52h1v1h-1zM309 52h2v1h-2zM313 52h1v1h-1zM315 52h1v1h-1zM318 52h2v1h-2zM321 52h1v1h-1zM323 52h1v1h-1zM325 52h1v1h-1zM297 53h2v1h-2zM300 53h1v1h-1zM305 53h1v1h-1zM313 53h1v1h-1zM321 53h1v1h-1zM298 54h1v1h-1zM302 54h2v1h-2zM305 54h1v1h-1zM316 54h1v1h-1zM318 54h1v1h-1zM330 54h1v1h-1zM300 55h1v1h-1zM297 56h1v1h-1zM299 56h1v1h-1zM301 56h1v1h-1zM307 56h1v1h-1zM315 56h2v1h-2zM300 57h1v1h-1zM305 57h1v1h-1zM296 58h1v1h-1zM330 58h1v1h-1z" fill="#666"/>
<path d="M293.20 78.50h-2.8M293.20 73.57h-1.8M293.20 70.69h-1.8M293.20 68.64h-1.8M293.20 67.05h-1.8M293.20 65.76h-1.8M293.20 64.66h-1.8M293.20 63.71h-1.8M293.20 62.87h-1.8M293.20 62.12h-2.8M293.20 57.20h-1.8M293.20 54.31h-1.8M293.20 52.27h-1.8M293.20 50.68h-1.8M293.20 49.38h-1.8M293.20 48.29h-1.8M293.20 47.34h-1.8M293.20 46.50h-1.8M293.20 45.75h-2.8M293.20 40.82h-1.8M293.20 37.94h-1.8M293.20 35.89h-1.8M293.20 34.30h-1.8M293.20 33.01h-1.8M293.20 31.91h-1.8M293.20 30.96h-1.8M293.20 30.12h-1.8M293.20 29.38h-2.8M293.20 24.45h-1.8M293.20 21.56h-1.8M293.20 19.52h-1.8M293.20 17.93h-1.8M293.20 16.63h-1.8M293.20 15.54h-1.8M293.20 14.59h-1.8M293.20 13.75h-1.8M293.20 13.00h-2.8" stroke="#000" stroke-width="0.9" fill="none"/>
<path d="M293.60 78.90v2.8M298.54 78.90v1.8M301.44 78.90v1.8M303.49 78.90v1.8M305.08 78.90v1.8M306.38 78.90v1.8M307.48 78.90v1.8M308.43 78.90v1.8M309.27 78.90v1.8M310.03 78.90v2.8M314.97 78.90v1.8M317.86 78.90v1.8M319.91 78.90v1.8M321.51 78.90v1.8M322.81 78.90v1.8M323.91 78.90v1.8M324.86 78.90v1.8M325.70 78.90v1.8M326.45 78.90v2.8M331.39 78.90v1.8M334.29 78.90v1.8M336.34 78.90v1.8M337.93 78.90v1.8M339.23 78.90v1.8M340.33 78.90v1.8M341.28 78.90v1.8M342.12 78.90v1.8M342.88 78.90v2.8M347.82 78.90v1.8M350.71 78.90v1.8M352.76 78.90v1.8M354.36 78.90v1.8M355.66 78.90v1.8M356.76 78.90v1.8M357.71 78.90v1.8M358.55 78.90v1.8M359.30 78.90v2.8" stroke="#000" stroke-width="0.9" fill="none"/>
<line x1="312.00" y1="13.00" x2="312.00" y2="78.50" stroke="#000" stroke-width="1.3"/>
<line x1="293.60" y1="62.40" x2="359.30" y2="62.40" stroke="#000" stroke-width="1.3"/>
<rect x="293.60" y="13.00" width="65.70" height="65.50" fill="none" stroke="#000" stroke-width="1.2"/>
<path d="M79 112h1v1h-1zM82 112h1v1h-1zM90 113h1v1h-1zM92 113h1v1h-1zM79 114h1v1h-1zM86 114h4v1h-4zM81 115h2v1h-2zM84 115h3v1h-3zM88 115h2v1h-2zM78 116h1v1h-1zM80 116h2v1h-2zM84 116h4v1h-4zM93 116h1v1h-1zM95 116h1v1h-1zM78 117h3v1h-3zM82 117h1v1h-1zM85 117h8v1h-8zM95 117h1v1h-1zM78 118h7v1h-7zM86 118h2v1h-2zM89 118h1v1h-1zM93 118h1v1h-1zM72 119h1v1h-1zM76 119h3v1h-3zM80 119h1v1h-1zM82 119h1v1h-1zM84 119h4v1h-4zM90 119h2v1h-2zM97 119h1v1h-1zM76 120h1v1h-1zM78 120h11v1h-11zM90 120h2v1h-2zM95 120h1v1h-1zM76 121h1v1h-1zM80 121h2v1h-2zM83 121h3v1h-3zM88 121h1v1h-1zM90 121h3v1h-3zM95 121h1v1h-1zM77 122h2v1h-2zM81 122h1v1h-1zM83 122h7v1h-7zM78 123h2v1h-2zM81 123h8v1h-8zM91 123h1v1h-1zM93 123h1v1h-1zM72 124h1v1h-1zM76 124h2v1h-2zM81 124h1v1h-1zM83 124h6v1h-6zM76 125h13v1h-13zM75 126h1v1h-1zM79 126h1v1h-1zM81 126h2v1h-2zM84 126h2v1h-2zM87 126h4v1h-4zM75 127h1v1h-1zM80 127h1v1h-1zM83 127h1v1h-1zM85 127h4v1h-4zM79 128h2v1h-2zM83 128h1v1h-1zM85 128h1v1h-1zM89 128h1v1h-1zM91 128h1v1h-1zM79 129h1v1h-1zM82 129h2v1h-2zM86 129h2v1h-2zM79 130h1v1h-1zM88 130h1v1h-1zM90 130h1v1h-1zM81 132h1v1h-1z" fill="#000"/>
<path d="M93 108h1v1h-1zM82 110h1v1h-1zM92 110h1v1h-1zM97 110h2v1h-2zM85 111h1v1h-1zM104 111h1v1h-1zM80 112h2v1h-2zM88 112h1v1h-1zM91 112h1v1h-1zM83 113h1v1h-1zM89 113h1v1h-1zM91 113h1v1h-1zM74 114h1v1h-1zM80 114h1v1h-1zM92 114h1v1h-1zM99 114h1v1h-1zM75 115h3v1h-3zM79 115h1v1h-1zM91 115h1v1h-1zM74 116h1v1h-1zM79 116h1v1h-1zM82 116h2v1h-2zM94 116h1v1h-1zM99 116h1v1h-1zM74 117h4v1h-4zM81 117h1v1h-1zM84 117h1v1h-1zM93 117h2v1h-2zM76 118h1v1h-1zM85 118h1v1h-1zM88 118h1v1h-1zM92 118h1v1h-1zM96 118h1v1h-1zM98 118h1v1h-1zM75 119h1v1h-1zM79 119h1v1h-1zM81 119h1v1h-1zM95 119h1v1h-1zM73 120h1v1h-1zM75 120h1v1h-1zM77 120h1v1h-1zM89 120h1v1h-1zM93 120h1v1h-1zM96 120h1v1h-1zM98 120h1v1h-1zM74 121h1v1h-1zM77 121h1v1h-1zM79 121h1v1h-1zM82 121h1v1h-1zM86 121h1v1h-1zM102 121h1v1h-1zM75 122h1v1h-1zM82 122h1v1h-1zM92 122h2v1h-2zM73 123h1v1h-1zM75 123h3v1h-3zM80 123h1v1h-1zM89 123h2v1h-2zM92 123h1v1h-1zM74 124h2v1h-2zM78 124h2v1h-2zM82 124h1v1h-1zM91 124h1v1h-1zM89 125h1v1h-1zM92 125h1v1h-1zM74 126h1v1h-1zM78 126h1v1h-1zM83 126h1v1h-1zM91 126h1v1h-1zM78 127h1v1h-1zM82 127h1v1h-1zM84 127h1v1h-1zM94 127h2v1h-2zM76 128h1v1h-1zM82 128h1v1h-1zM84 128h1v1h-1zM81 129h1v1h-1zM90 129h1v1h-1zM77 130h1v1h-1zM81 130h1v1h-1zM85 130h1v1h-1zM87 130h1v1h-1zM89 130h1v1h-1zM85 132h1v1h-1z" fill="#2a2a2a"/>
<path d="M114 99h1v1h-1zM109 100h1v1h-1zM83 104h1v1h-1zM103 104h1v1h-1zM87 105h1v1h-1zM95 105h2v1h-2zM99 105h1v1h-1zM106 105h1v1h-1zM89 106h1v1h-1zM98 106h1v1h-1zM83 107h1v1h-1zM95 107h1v1h-1zM100 107h1v1h-1zM116 107h1v1h-1zM76 108h1v1h-1zM80 108h1v1h-1zM84 108h1v1h-1zM94 108h1v1h-1zM96 108h2v1h-2zM100 108h1v1h-1zM84 109h1v1h-1zM88 109h1v1h-1zM90 109h1v1h-1zM96 109h1v1h-1zM99 109h1v1h-1zM103 109h1v1h-1zM107 109h1v1h-1zM110 109h1v1h-1zM79 110h1v1h-1zM87 110h1v1h-1zM96 110h1v1h-1zM99 110h1v1h-1zM103 110h1v1h-1zM107 110h1v1h-1zM112 110h1v1h-1zM77 111h1v1h-1zM82 111h1v1h-1zM86 111h1v1h-1zM88 111h2v1h-2zM94 111h1v1h-1zM96 111h2v1h-2zM103 111h1v1h-1zM105 111h2v1h-2zM109 111h1v1h-1zM76 112h1v1h-1zM83 112h1v1h-1zM89 112h2v1h-2zM93 112h2v1h-2zM78 113h1v1h-1zM80 113h3v1h-3zM84 113h1v1h-1zM86 113h1v1h-1zM88 113h1v1h-1zM94 113h1v1h-1zM97 113h1v1h-1zM106 113h1v1h-1zM73 114h1v1h-1zM77 114h2v1h-2zM82 114h1v1h-1zM84 114h2v1h-2zM90 114h2v1h-2zM93 114h1v1h-1zM95 114h1v1h-1zM97 114h1v1h-1zM101 114h2v1h-2zM110 114h1v1h-1zM73 115h2v1h-2zM78 115h1v1h-1zM87 115h1v1h-1zM90 115h1v1h-1zM92 115h1v1h-1zM94 115h3v1h-3zM100 115h1v1h-1zM103 115h3v1h-3zM109 115h1v1h-1zM71 116h1v1h-1zM75 116h1v1h-1zM77 116h1v1h-1zM90 116h2v1h-2zM100 116h3v1h-3zM73 117h1v1h-1zM83 117h1v1h-1zM96 117h2v1h-2zM99 117h4v1h-4zM113 117h1v1h-1zM74 118h1v1h-1zM90 118h2v1h-2zM94 118h2v1h-2zM99 118h4v1h-4zM105 118h1v1h-1zM70 119h2v1h-2zM74 119h1v1h-1zM83 119h1v1h-1zM88 119h2v1h-2zM92 119h2v1h-2zM98 119h2v1h-2zM103 119h1v1h-1zM117 119h1v1h-1zM92 120h1v1h-1zM94 120h1v1h-1zM99 120h2v1h-2zM102 120h1v1h-1zM107 120h1v1h-1zM72 121h2v1h-2zM75 121h1v1h-1zM78 121h1v1h-1zM87 121h1v1h-1zM93 121h1v1h-1zM97 121h2v1h-2zM101 121h1v1h-1zM104 121h1v1h-1zM71 122h1v1h-1zM73 122h2v1h-2zM79 122h2v1h-2zM90 122h2v1h-2zM94 122h3v1h-3zM98 122h1v1h-1zM102 122h2v1h-2zM106 122h2v1h-2zM70 123h1v1h-1zM94 123h1v1h-1zM110 123h1v1h-1zM80 124h1v1h-1zM93 124h3v1h-3zM97 124h1v1h-1zM72 125h1v1h-1zM75 125h1v1h-1zM90 125h2v1h-2zM93 125h2v1h-2zM97 125h3v1h-3zM103 125h1v1h-1zM71 126h1v1h-1zM77 126h1v1h-1zM93 126h1v1h-1zM95 126h1v1h-1zM70 127h1v1h-1zM74 127h1v1h-1zM79 127h1v1h-1zM81 127h1v1h-1zM90 127h3v1h-3zM97 127h1v1h-1zM75 128h1v1h-1zM77 128h2v1h-2zM86 128h1v1h-1zM93 128h1v1h-1zM99 128h1v1h-1zM105 128h1v1h-1zM76 129h1v1h-1zM78 129h1v1h-1zM80 129h1v1h-1zM84 129h1v1h-1zM91 129h1v1h-1zM94 129h1v1h-1zM100 129h1v1h-1zM70 130h1v1h-1zM73 130h1v1h-1zM80 130h1v1h-1zM82 130h2v1h-2zM92 130h1v1h-1zM71 131h1v1h-1zM77 131h1v1h-1zM80 131h3v1h-3zM85 131h4v1h-4zM93 131h1v1h-1zM77 132h1v1h-1zM79 132h1v1h-1zM83 132h2v1h-2zM92 132h1v1h-1zM76 133h1v1h-1zM79 133h1v1h-1zM85 133h1v1h-1zM92 133h1v1h-1zM86 134h1v1h-1zM94 134h1v1h-1zM79 136h1v1h-1zM91 136h1v1h-1z" fill="#666"/>
<path d="M68.40 153.50h-2.8M68.40 148.57h-1.8M68.40 145.69h-1.8M68.40 143.64h-1.8M68.40 142.05h-1.8M68.40 140.76h-1.8M68.40 139.66h-1.8M68.40 138.71h-1.8M68.40 137.87h-1.8M68.40 137.12h-2.8M68.40 132.20h-1.8M68.40 129.31h-1.8M68.40 127.27h-1.8M68.40 125.68h-1.8M68.40 124.38h-1.8M68.40 123.29h-1.8M68.40 122.34h-1.8M68.40 121.50h-1.8M68.40 120.75h-2.8M68.40 115.82h-1.8M68.40 112.94h-1.8M68.40 110.89h-1.8M68.40 109.30h-1.8M68.40 108.01h-1.8M68.40 106.91h-1.8M68.40 105.96h-1.8M68.40 105.12h-1.8M68.40 104.38h-2.8M68.40 99.45h-1.8M68.40 96.56h-1.8M68.40 94.52h-1.8M68.40 92.93h-1.8M68.40 91.63h-1.8M68.40 90.54h-1.8M68.40 89.59h-1.8M68.40 88.75h-1.8M68.40 88.00h-2.8" stroke="#000" stroke-width="0.9" fill="none"/>
<path d="M68.80 153.90v2.8M73.74 153.90v1.8M76.64 153.90v1.8M78.69 153.90v1.8M80.28 153.90v1.8M81.58 153.90v1.8M82.68 153.90v1.8M83.63 153.90v1.8M84.47 153.90v1.8M85.22 153.90v2.8M90.17 153.90v1.8M93.06 153.90v1.8M95.11 153.90v1.8M96.71 153.90v1.8M98.01 153.90v1.8M99.11 153.90v1.8M100.06 153.90v1.8M100.90 153.90v1.8M101.65 153.90v2.8M106.59 153.90v1.8M109.49 153.90v1.8M111.54 153.90v1.8M113.13 153.90v1.8M114.43 153.90v1.8M115.53 153.90v1.8M116.48 153.90v1.8M117.32 153.90v1.8M118.08 153.90v2.8M123.02 153.90v1.8M125.91 153.90v1.8M127.96 153.90v1.8M129.56 153.90v1.8M130.86 153.90v1.8M131.96 153.90v1.8M132.91 153.90v1.8M133.75 153.90v1.8M134.50 153.90v2.8" stroke="#000" stroke-width="0.9" fill="none"/>
<line x1="87.20" y1="88.00" x2="87.20" y2="153.50" stroke="#000" stroke-width="1.3"/>
<line x1="68.80" y1="137.40" x2="134.50" y2="137.40" stroke="#000" stroke-width="1.3"/>
<rect x="68.80" y="88.00" width="65.70" height="65.50" fill="none" stroke="#000" stroke-width="1.2"/>
<path d="M168 113h1v1h-1zM170 113h2v1h-2zM167 114h1v1h-1zM172 115h2v1h-2zM175 115h2v1h-2zM179 115h1v1h-1zM168 116h2v1h-2zM171 116h2v1h-2zM174 116h2v1h-2zM177 116h3v1h-3zM160 117h2v1h-2zM164 117h4v1h-4zM169 117h4v1h-4zM174 117h2v1h-2zM178 117h2v1h-2zM159 118h1v1h-1zM166 118h4v1h-4zM171 118h1v1h-1zM173 118h3v1h-3zM177 118h1v1h-1zM180 118h2v1h-2zM162 119h1v1h-1zM166 119h4v1h-4zM172 119h4v1h-4zM177 119h1v1h-1zM179 119h1v1h-1zM163 120h3v1h-3zM167 120h3v1h-3zM172 120h1v1h-1zM175 120h2v1h-2zM178 120h1v1h-1zM163 121h2v1h-2zM166 121h6v1h-6zM174 121h1v1h-1zM176 121h2v1h-2zM182 121h1v1h-1zM160 122h2v1h-2zM163 122h5v1h-5zM169 122h6v1h-6zM176 122h1v1h-1zM178 122h2v1h-2zM160 123h2v1h-2zM163 123h8v1h-8zM172 123h7v1h-7zM160 124h1v1h-1zM163 124h4v1h-4zM169 124h2v1h-2zM172 124h2v1h-2zM175 124h3v1h-3zM163 125h1v1h-1zM165 125h3v1h-3zM172 125h2v1h-2zM177 125h1v1h-1zM166 126h5v1h-5zM172 126h2v1h-2zM161 127h1v1h-1zM165 127h5v1h-5zM171 127h4v1h-4zM166 128h1v1h-1zM175 128h1v1h-1zM168 129h1v1h-1zM170 129h1v1h-1zM171 130h1v1h-1zM168 131h1v1h-1z" fill="#000"/>
<path d="M173 110h2v1h-2zM184 110h1v1h-1zM170 111h1v1h-1zM167 112h2v1h-2zM167 113h1v1h-1zM175 113h2v1h-2zM180 113h1v1h-1zM171 114h2v1h-2zM174 114h1v1h-1zM177 114h1v1h-1zM180 114h1v1h-1zM161 115h1v1h-1zM167 115h3v1h-3zM171 115h1v1h-1zM161 116h1v1h-1zM166 116h2v1h-2zM170 116h1v1h-1zM156 117h1v1h-1zM162 117h1v1h-1zM173 117h1v1h-1zM177 117h1v1h-1zM161 118h1v1h-1zM164 118h2v1h-2zM170 118h1v1h-1zM172 118h1v1h-1zM185 118h1v1h-1zM163 119h1v1h-1zM165 119h1v1h-1zM171 119h1v1h-1zM178 119h1v1h-1zM182 119h1v1h-1zM160 120h1v1h-1zM162 120h1v1h-1zM170 120h1v1h-1zM173 120h2v1h-2zM179 120h1v1h-1zM160 121h3v1h-3zM165 121h1v1h-1zM172 121h1v1h-1zM178 121h1v1h-1zM158 122h2v1h-2zM168 122h1v1h-1zM175 122h1v1h-1zM180 122h1v1h-1zM168 124h1v1h-1zM171 124h1v1h-1zM180 124h1v1h-1zM164 125h1v1h-1zM168 125h2v1h-2zM175 125h1v1h-1zM179 125h2v1h-2zM159 126h2v1h-2zM165 126h1v1h-1zM171 126h1v1h-1zM175 126h1v1h-1zM180 126h1v1h-1zM159 127h1v1h-1zM163 127h1v1h-1zM170 127h1v1h-1zM175 127h1v1h-1zM177 127h1v1h-1zM161 128h1v1h-1zM163 128h1v1h-1zM167 128h3v1h-3zM172 128h1v1h-1zM176 128h1v1h-1zM178 128h1v1h-1zM182 128h1v1h-1zM164 129h2v1h-2zM169 129h1v1h-1zM171 129h1v1h-1zM173 129h1v1h-1zM176 129h1v1h-1zM172 130h1v1h-1zM177 131h1v1h-1z" fill="#2a2a2a"/>
<path d="M173 103h1v1h-1zM152 105h1v1h-1zM173 105h1v1h-1zM188 105h1v1h-1zM168 106h1v1h-1zM177 106h1v1h-1zM181 106h1v1h-1zM177 107h1v1h-1zM180 107h2v1h-2zM164 108h1v1h-1zM172 108h1v1h-1zM160 109h1v1h-1zM171 109h1v1h-1zM174 109h1v1h-1zM180 109h1v1h-1zM165 110h1v1h-1zM172 110h1v1h-1zM177 110h1v1h-1zM194 110h1v1h-1zM160 111h1v1h-1zM163 111h1v1h-1zM167 111h1v1h-1zM171 111h1v1h-1zM173 111h1v1h-1zM177 111h1v1h-1zM155 112h1v1h-1zM164 112h1v1h-1zM169 112h2v1h-2zM172 112h1v1h-1zM176 112h1v1h-1zM180 112h1v1h-1zM182 112h1v1h-1zM188 112h1v1h-1zM150 113h1v1h-1zM155 113h1v1h-1zM160 113h2v1h-2zM163 113h1v1h-1zM166 113h1v1h-1zM169 113h1v1h-1zM172 113h2v1h-2zM177 113h2v1h-2zM184 113h1v1h-1zM186 113h1v1h-1zM192 113h1v1h-1zM150 114h1v1h-1zM162 114h2v1h-2zM165 114h2v1h-2zM169 114h2v1h-2zM173 114h1v1h-1zM176 114h1v1h-1zM178 114h2v1h-2zM163 115h1v1h-1zM165 115h2v1h-2zM170 115h1v1h-1zM174 115h1v1h-1zM177 115h2v1h-2zM184 115h1v1h-1zM186 115h1v1h-1zM193 115h1v1h-1zM156 116h1v1h-1zM160 116h1v1h-1zM162 116h4v1h-4zM173 116h1v1h-1zM176 116h1v1h-1zM180 116h2v1h-2zM187 116h1v1h-1zM154 117h1v1h-1zM158 117h2v1h-2zM163 117h1v1h-1zM168 117h1v1h-1zM176 117h1v1h-1zM181 117h1v1h-1zM155 118h1v1h-1zM158 118h1v1h-1zM160 118h1v1h-1zM176 118h1v1h-1zM179 118h1v1h-1zM184 118h1v1h-1zM186 118h1v1h-1zM153 119h1v1h-1zM155 119h1v1h-1zM159 119h3v1h-3zM164 119h1v1h-1zM170 119h1v1h-1zM176 119h1v1h-1zM184 119h2v1h-2zM187 119h1v1h-1zM190 119h1v1h-1zM150 120h2v1h-2zM154 120h1v1h-1zM158 120h1v1h-1zM166 120h1v1h-1zM171 120h1v1h-1zM177 120h1v1h-1zM181 120h1v1h-1zM184 120h1v1h-1zM153 121h1v1h-1zM156 121h1v1h-1zM158 121h1v1h-1zM173 121h1v1h-1zM179 121h1v1h-1zM184 121h1v1h-1zM192 121h1v1h-1zM157 122h1v1h-1zM181 122h2v1h-2zM184 122h2v1h-2zM157 123h1v1h-1zM159 123h1v1h-1zM162 123h1v1h-1zM171 123h1v1h-1zM179 123h1v1h-1zM181 123h1v1h-1zM187 123h1v1h-1zM189 123h1v1h-1zM153 124h1v1h-1zM156 124h1v1h-1zM158 124h1v1h-1zM167 124h1v1h-1zM174 124h1v1h-1zM179 124h1v1h-1zM181 124h1v1h-1zM183 124h1v1h-1zM190 124h1v1h-1zM156 125h3v1h-3zM161 125h2v1h-2zM176 125h1v1h-1zM187 125h1v1h-1zM195 125h1v1h-1zM155 126h1v1h-1zM161 126h4v1h-4zM174 126h1v1h-1zM176 126h1v1h-1zM179 126h1v1h-1zM181 126h2v1h-2zM156 127h1v1h-1zM162 127h1v1h-1zM164 127h1v1h-1zM176 127h1v1h-1zM178 127h1v1h-1zM153 128h1v1h-1zM159 128h1v1h-1zM162 128h1v1h-1zM165 128h1v1h-1zM170 128h2v1h-2zM174 128h1v1h-1zM177 128h1v1h-1zM187 128h1v1h-1zM189 128h1v1h-1zM202 128h1v1h-1zM161 129h3v1h-3zM166 129h2v1h-2zM179 129h3v1h-3zM192 129h1v1h-1zM160 130h1v1h-1zM162 130h1v1h-1zM164 130h4v1h-4zM169 130h2v1h-2zM173 130h2v1h-2zM177 130h1v1h-1zM180 130h1v1h-1zM163 131h2v1h-2zM169 131h1v1h-1zM171 131h1v1h-1zM176 131h1v1h-1zM185 131h1v1h-1zM159 132h2v1h-2zM166 132h3v1h-3zM170 133h1v1h-1zM173 134h1v1h-1zM180 134h1v1h-1zM182 134h1v1h-1zM164 135h1v1h-1zM169 135h1v1h-1zM176 135h1v1h-1zM185 136h1v1h-1zM170 137h1v1h-1zM174 137h1v1h-1zM187 137h1v1h-1z" fill="#666"/>
<path d="M143.40 153.50h-2.8M143.40 148.57h-1.8M143.40 145.69h-1.8M143.40 143.64h-1.8M143.40 142.05h-1.8M143.40 140.76h-1.8M143.40 139.66h-1.8M143.40 138.71h-1.8M143.40 137.87h-1.8M143.40 137.12h-2.8M143.40 132.20h-1.8M143.40 129.31h-1.8M143.40 127.27h-1.8M143.40 125.68h-1.8M143.40 124.38h-1.8M143.40 123.29h-1.8M143.40 122.34h-1.8M143.40 121.50h-1.8M143.40 120.75h-2.8M143.40 115.82h-1.8M143.40 112.94h-1.8M143.40 110.89h-1.8M143.40 109.30h-1.8M143.40 108.01h-1.8M143.40 106.91h-1.8M143.40 105.96h-1.8M143.40 105.12h-1.8M143.40 104.38h-2.8M143.40 99.45h-1.8M143.40 96.56h-1.8M143.40 94.52h-1.8M143.40 92.93h-1.8M143.40 91.63h-1.8M143.40 90.54h-1.8M143.40 89.59h-1.8M143.40 88.75h-1.8M143.40 88.00h-2.8" stroke="#000" stroke-width="0.9" fill="none"/>
<path d="M143.80 153.90v2.8M148.74 153.90v1.8M151.64 153.90v1.8M153.69 153.90v1.8M155.28 153.90v1.8M156.58 153.90v1.8M157.68 153.90v1.8M158.63 153.90v1.8M159.47 153.90v1.8M160.23 153.90v2.8M165.17 153.90v1.8M168.06 153.90v1.8M170.11 153.90v1.8M171.71 153.90v1.8M173.01 153.90v1.8M174.11 153.90v1.8M175.06 153.90v1.8M175.90 153.90v1.8M176.65 153.90v2.8M181.59 153.90v1.8M184.49 153.90v1.8M186.54 153.90v1.8M188.13 153.90v1.8M189.43 153.90v1.8M190.53 153.90v1.8M191.48 153.90v1.8M192.32 153.90v1.8M193.07 153.90v2.8M198.02 153.90v1.8M200.91 153.90v1.8M202.96 153.90v1.8M204.56 153.90v1.8M205.86 153.90v1.8M206.96 153.90v1.8M207.91 153.90v1.8M208.75 153.90v1.8M209.50 153.90v2.8" stroke="#000" stroke-width="0.9" fill="none"/>
<line x1="162.20" y1="88.00" x2="162.20" y2="153.50" stroke="#000" stroke-width="1.3"/>
<line x1="143.80" y1="137.40" x2="209.50" y2="137.40" stroke="#000" stroke-width="1.3"/>
<rect x="143.80" y="88.00" width="65.70" height="65.50" fill="none" stroke="#000" stroke-width="1.2"/>
<path d="M249 112h1v1h-1zM252 114h1v1h-1zM254 114h2v1h-2zM257 114h1v1h-1zM260 114h1v1h-1zM251 115h1v1h-1zM253 115h2v1h-2zM258 115h1v1h-1zM249 116h1v1h-1zM251 116h3v1h-3zM255 116h1v1h-1zM257 116h2v1h-2zM260 116h1v1h-1zM249 117h2v1h-2zM253 117h5v1h-5zM261 117h1v1h-1zM253 118h3v1h-3zM257 118h5v1h-5zM263 118h2v1h-2zM248 119h1v1h-1zM250 119h1v1h-1zM252 119h5v1h-5zM258 119h2v1h-2zM261 119h1v1h-1zM251 120h1v1h-1zM254 120h4v1h-4zM260 120h2v1h-2zM247 121h3v1h-3zM251 121h9v1h-9zM261 121h1v1h-1zM264 121h2v1h-2zM248 122h6v1h-6zM255 122h4v1h-4zM260 122h4v1h-4zM249 123h1v1h-1zM251 123h11v1h-11zM249 124h1v1h-1zM253 124h2v1h-2zM256 124h4v1h-4zM249 125h2v1h-2zM253 125h1v1h-1zM255 125h1v1h-1zM257 125h2v1h-2zM260 125h1v1h-1zM261 126h1v1h-1zM252 127h1v1h-1zM254 127h2v1h-2zM257 127h1v1h-1zM259 127h1v1h-1zM262 127h1v1h-1zM256 128h1v1h-1z" fill="#000"/>
<path d="M259 111h1v1h-1zM254 113h1v1h-1zM257 113h1v1h-1zM251 114h1v1h-1zM258 114h1v1h-1zM252 115h1v1h-1zM259 115h1v1h-1zM261 115h1v1h-1zM250 116h1v1h-1zM254 116h1v1h-1zM259 116h1v1h-1zM261 116h1v1h-1zM258 117h1v1h-1zM260 117h1v1h-1zM262 117h1v1h-1zM250 118h1v1h-1zM262 118h1v1h-1zM265 118h1v1h-1zM251 119h1v1h-1zM260 119h1v1h-1zM262 119h2v1h-2zM249 120h1v1h-1zM258 120h2v1h-2zM262 120h2v1h-2zM262 121h1v1h-1zM246 122h1v1h-1zM259 122h1v1h-1zM264 122h2v1h-2zM267 122h1v1h-1zM248 123h1v1h-1zM266 123h1v1h-1zM251 124h2v1h-2zM261 124h2v1h-2zM264 124h1v1h-1zM245 125h1v1h-1zM259 125h1v1h-1zM261 125h1v1h-1zM248 126h1v1h-1zM251 126h3v1h-3zM256 126h1v1h-1zM258 126h1v1h-1zM256 127h1v1h-1zM260 127h1v1h-1zM250 128h1v1h-1zM254 128h1v1h-1zM258 128h1v1h-1zM260 128h1v1h-1zM255 129h1v1h-1zM260 129h1v1h-1zM255 130h1v1h-1z" fill="#2a2a2a"/>
<path d="M254 102h1v1h-1zM267 102h1v1h-1zM252 107h1v1h-1zM261 107h1v1h-1zM261 108h1v1h-1zM254 109h1v1h-1zM258 109h1v1h-1zM262 109h1v1h-1zM252 110h1v1h-1zM256 110h1v1h-1zM252 111h1v1h-1zM256 111h1v1h-1zM263 111h1v1h-1zM250 112h5v1h-5zM243 113h1v1h-1zM248 113h5v1h-5zM256 113h1v1h-1zM258 113h4v1h-4zM263 113h2v1h-2zM266 113h1v1h-1zM250 114h1v1h-1zM253 114h1v1h-1zM256 114h1v1h-1zM259 114h1v1h-1zM261 114h1v1h-1zM244 115h2v1h-2zM247 115h4v1h-4zM255 115h1v1h-1zM257 115h1v1h-1zM260 115h1v1h-1zM263 115h1v1h-1zM265 115h1v1h-1zM269 115h1v1h-1zM248 116h1v1h-1zM256 116h1v1h-1zM262 116h3v1h-3zM240 117h1v1h-1zM245 117h1v1h-1zM247 117h1v1h-1zM251 117h2v1h-2zM259 117h1v1h-1zM266 117h1v1h-1zM246 118h1v1h-1zM249 118h1v1h-1zM251 118h1v1h-1zM256 118h1v1h-1zM246 119h1v1h-1zM257 119h1v1h-1zM264 119h1v1h-1zM266 119h2v1h-2zM238 120h1v1h-1zM244 120h5v1h-5zM250 120h1v1h-1zM252 120h2v1h-2zM264 120h1v1h-1zM266 120h1v1h-1zM244 121h3v1h-3zM250 121h1v1h-1zM244 122h1v1h-1zM254 122h1v1h-1zM266 122h1v1h-1zM246 123h1v1h-1zM250 123h1v1h-1zM264 123h1v1h-1zM245 124h1v1h-1zM248 124h1v1h-1zM255 124h1v1h-1zM260 124h1v1h-1zM263 124h1v1h-1zM265 124h3v1h-3zM270 124h1v1h-1zM243 125h1v1h-1zM246 125h1v1h-1zM248 125h1v1h-1zM251 125h2v1h-2zM254 125h1v1h-1zM256 125h1v1h-1zM262 125h4v1h-4zM247 126h1v1h-1zM249 126h1v1h-1zM254 126h1v1h-1zM257 126h1v1h-1zM259 126h1v1h-1zM262 126h1v1h-1zM245 127h1v1h-1zM250 127h1v1h-1zM253 127h1v1h-1zM258 127h1v1h-1zM263 127h1v1h-1zM249 128h1v1h-1zM259 128h1v1h-1zM263 128h1v1h-1zM251 129h1v1h-1zM253 129h2v1h-2zM257 129h3v1h-3zM245 130h1v1h-1zM249 130h3v1h-3zM254 130h1v1h-1zM260 130h1v1h-1zM262 130h1v1h-1zM255 131h1v1h-1zM261 131h1v1h-1zM260 132h1v1h-1zM259 133h1v1h-1zM264 133h1v1h-1zM278 135h1v1h-1z" fill="#666"/>
<path d="M218.60 153.50h-2.8M218.60 148.57h-1.8M218.60 145.69h-1.8M218.60 143.64h-1.8M218.60 142.05h-1.8M218.60 140.76h-1.8M218.60 139.66h-1.8M218.60 138.71h-1.8M218.60 137.87h-1.8M218.60 137.12h-2.8M218.60 132.20h-1.8M218.60 129.31h-1.8M218.60 127.27h-1.8M218.60 125.68h-1.8M218.60 124.38h-1.8M218.60 123.29h-1.8M218.60 122.34h-1.8M218.60 121.50h-1.8M218.60 120.75h-2.8M218.60 115.82h-1.8M218.60 112.94h-1.8M218.60 110.89h-1.8M218.60 109.30h-1.8M218.60 108.01h-1.8M218.60 106.91h-1.8M218.60 105.96h-1.8M218.60 105.12h-1.8M218.60 104.38h-2.8M218.60 99.45h-1.8M218.60 96.56h-1.8M218.60 94.52h-1.8M218.60 92.93h-1.8M218.60 91.63h-1.8M218.60 90.54h-1.8M218.60 89.59h-1.8M218.60 88.75h-1.8M218.60 88.00h-2.8" stroke="#000" stroke-width="0.9" fill="none"/>
<path d="M219.00 153.90v2.8M223.94 153.90v1.8M226.84 153.90v1.8M228.89 153.90v1.8M230.48 153.90v1.8M231.78 153.90v1.8M232.88 153.90v1.8M233.83 153.90v1.8M234.67 153.90v1.8M235.43 153.90v2.8M240.37 153.90v1.8M243.26 153.90v1.8M245.31 153.90v1.8M246.91 153.90v1.8M248.21 153.90v1.8M249.31 153.90v1.8M250.26 153.90v1.8M251.10 153.90v1.8M251.85 153.90v2.8M256.79 153.90v1.8M259.69 153.90v1.8M261.74 153.90v1.8M263.33 153.90v1.8M264.63 153.90v1.8M265.73 153.90v1.8M266.68 153.90v1.8M267.52 153.90v1.8M268.27 153.90v2.8M273.22 153.90v1.8M276.11 153.90v1.8M278.16 153.90v1.8M279.76 153.90v1.8M281.06 153.90v1.8M282.16 153.90v1.8M283.11 153.90v1.8M283.95 153.90v1.8M284.70 153.90v2.8" stroke="#000" stroke-width="0.9" fill="none"/>
<line x1="237.40" y1="88.00" x2="237.40" y2="153.50" stroke="#000" stroke-width="1.3"/>
<line x1="219.00" y1="137.40" x2="284.70" y2="137.40" stroke="#000" stroke-width="1.3"/>
<rect x="219.00" y="88.00" width="65.70" height="65.50" fill="none" stroke="#000" stroke-width="1.2"/>
<path d="M320 108h1v1h-1zM314 109h1v1h-1zM309 110h1v1h-1zM313 110h1v1h-1zM311 111h1v1h-1zM318 111h1v1h-1zM314 112h2v1h-2zM318 112h1v1h-1zM304 113h1v1h-1zM309 113h1v1h-1zM312 113h5v1h-5zM318 113h1v1h-1zM307 114h1v1h-1zM312 114h1v1h-1zM315 114h1v1h-1zM317 114h2v1h-2zM320 114h2v1h-2zM308 115h4v1h-4zM313 115h3v1h-3zM317 115h1v1h-1zM320 115h1v1h-1zM302 116h1v1h-1zM308 116h1v1h-1zM311 116h7v1h-7zM322 116h1v1h-1zM306 117h1v1h-1zM308 117h1v1h-1zM310 117h1v1h-1zM312 117h1v1h-1zM314 117h4v1h-4zM319 117h1v1h-1zM326 117h2v1h-2zM305 118h4v1h-4zM310 118h1v1h-1zM312 118h9v1h-9zM323 118h2v1h-2zM305 119h4v1h-4zM310 119h7v1h-7zM320 119h2v1h-2zM325 119h1v1h-1zM306 120h4v1h-4zM312 120h2v1h-2zM315 120h5v1h-5zM321 120h1v1h-1zM324 120h1v1h-1zM308 121h1v1h-1zM310 121h2v1h-2zM314 121h4v1h-4zM321 121h1v1h-1zM324 121h2v1h-2zM305 122h1v1h-1zM307 122h8v1h-8zM317 122h1v1h-1zM321 122h2v1h-2zM324 122h1v1h-1zM306 123h2v1h-2zM309 123h3v1h-3zM313 123h3v1h-3zM318 123h5v1h-5zM302 124h1v1h-1zM305 124h1v1h-1zM307 124h2v1h-2zM310 124h6v1h-6zM318 124h3v1h-3zM305 125h1v1h-1zM307 125h2v1h-2zM310 125h4v1h-4zM315 125h1v1h-1zM318 125h1v1h-1zM320 125h1v1h-1zM322 125h2v1h-2zM308 126h1v1h-1zM310 126h1v1h-1zM312 126h1v1h-1zM314 126h7v1h-7zM324 126h1v1h-1zM307 127h2v1h-2zM310 127h1v1h-1zM316 127h2v1h-2zM320 127h1v1h-1zM309 128h1v1h-1zM311 128h5v1h-5zM318 128h1v1h-1zM308 129h1v1h-1zM313 129h2v1h-2zM313 130h1v1h-1zM316 130h1v1h-1zM318 130h1v1h-1z" fill="#000"/>
<path d="M314 106h1v1h-1zM317 109h2v1h-2zM314 110h2v1h-2zM308 111h3v1h-3zM319 111h1v1h-1zM305 112h1v1h-1zM308 112h2v1h-2zM311 112h2v1h-2zM320 112h1v1h-1zM305 113h2v1h-2zM308 113h1v1h-1zM310 113h2v1h-2zM319 113h3v1h-3zM324 113h1v1h-1zM303 114h2v1h-2zM313 114h1v1h-1zM322 114h1v1h-1zM325 114h1v1h-1zM306 115h2v1h-2zM312 115h1v1h-1zM318 115h1v1h-1zM321 115h1v1h-1zM324 115h1v1h-1zM297 116h1v1h-1zM303 116h1v1h-1zM306 116h2v1h-2zM309 116h2v1h-2zM318 116h1v1h-1zM321 116h1v1h-1zM324 116h1v1h-1zM327 116h1v1h-1zM302 117h2v1h-2zM307 117h1v1h-1zM311 117h1v1h-1zM320 117h2v1h-2zM325 117h1v1h-1zM304 118h1v1h-1zM311 118h1v1h-1zM321 118h1v1h-1zM304 119h1v1h-1zM309 119h1v1h-1zM318 119h1v1h-1zM322 119h2v1h-2zM300 120h1v1h-1zM302 120h1v1h-1zM304 120h2v1h-2zM310 120h2v1h-2zM314 120h1v1h-1zM320 120h1v1h-1zM325 120h1v1h-1zM309 121h1v1h-1zM312 121h2v1h-2zM319 121h1v1h-1zM322 121h1v1h-1zM304 122h1v1h-1zM318 122h1v1h-1zM329 122h1v1h-1zM303 123h2v1h-2zM312 123h1v1h-1zM316 123h2v1h-2zM325 123h1v1h-1zM303 124h1v1h-1zM309 124h1v1h-1zM317 124h1v1h-1zM321 124h1v1h-1zM323 124h1v1h-1zM325 124h1v1h-1zM302 125h1v1h-1zM306 125h1v1h-1zM321 125h1v1h-1zM304 126h1v1h-1zM306 126h1v1h-1zM309 126h1v1h-1zM313 126h1v1h-1zM301 127h1v1h-1zM305 127h1v1h-1zM311 127h1v1h-1zM315 127h1v1h-1zM318 127h1v1h-1zM321 127h2v1h-2zM307 128h1v1h-1zM316 128h1v1h-1zM321 128h1v1h-1zM328 128h1v1h-1zM305 129h1v1h-1zM310 129h1v1h-1zM312 129h1v1h-1zM316 129h1v1h-1zM320 129h2v1h-2zM302 130h1v1h-1zM309 130h2v1h-2zM312 130h1v1h-1zM314 130h1v1h-1zM320 130h1v1h-1zM311 131h1v1h-1zM313 133h1v1h-1z" fill="#2a2a2a"/>
<path d="M315 101h1v1h-1zM309 103h1v1h-1zM325 103h1v1h-1zM312 104h1v1h-1zM306 105h1v1h-1zM312 105h1v1h-1zM314 105h1v1h-1zM312 106h1v1h-1zM315 106h1v1h-1zM317 106h1v1h-1zM332 106h1v1h-1zM296 107h1v1h-1zM314 107h1v1h-1zM304 108h1v1h-1zM316 108h1v1h-1zM318 108h1v1h-1zM324 108h1v1h-1zM332 108h1v1h-1zM335 108h1v1h-1zM304 109h1v1h-1zM307 109h1v1h-1zM311 109h2v1h-2zM302 110h1v1h-1zM306 110h1v1h-1zM310 110h3v1h-3zM316 110h2v1h-2zM324 110h2v1h-2zM336 110h1v1h-1zM297 111h2v1h-2zM304 111h1v1h-1zM306 111h1v1h-1zM312 111h4v1h-4zM320 111h3v1h-3zM327 111h1v1h-1zM298 112h1v1h-1zM303 112h1v1h-1zM306 112h2v1h-2zM310 112h1v1h-1zM316 112h2v1h-2zM319 112h1v1h-1zM321 112h3v1h-3zM328 112h1v1h-1zM295 113h1v1h-1zM303 113h1v1h-1zM307 113h1v1h-1zM317 113h1v1h-1zM322 113h2v1h-2zM331 113h1v1h-1zM335 113h1v1h-1zM296 114h1v1h-1zM306 114h1v1h-1zM308 114h1v1h-1zM311 114h1v1h-1zM314 114h1v1h-1zM316 114h1v1h-1zM319 114h1v1h-1zM323 114h2v1h-2zM326 114h1v1h-1zM328 114h1v1h-1zM297 115h1v1h-1zM301 115h1v1h-1zM305 115h1v1h-1zM316 115h1v1h-1zM319 115h1v1h-1zM322 115h2v1h-2zM325 115h1v1h-1zM330 115h1v1h-1zM304 116h2v1h-2zM319 116h1v1h-1zM326 116h1v1h-1zM338 116h1v1h-1zM305 117h1v1h-1zM309 117h1v1h-1zM313 117h1v1h-1zM318 117h1v1h-1zM322 117h3v1h-3zM295 118h1v1h-1zM299 118h1v1h-1zM302 118h1v1h-1zM309 118h1v1h-1zM325 118h2v1h-2zM330 118h2v1h-2zM295 119h1v1h-1zM300 119h1v1h-1zM302 119h1v1h-1zM317 119h1v1h-1zM319 119h1v1h-1zM326 119h1v1h-1zM337 119h1v1h-1zM298 120h1v1h-1zM322 120h1v1h-1zM329 120h1v1h-1zM331 120h1v1h-1zM334 120h1v1h-1zM299 121h1v1h-1zM301 121h2v1h-2zM307 121h1v1h-1zM318 121h1v1h-1zM320 121h1v1h-1zM326 121h1v1h-1zM333 121h1v1h-1zM338 121h1v1h-1zM296 122h1v1h-1zM298 122h1v1h-1zM300 122h1v1h-1zM306 122h1v1h-1zM315 122h2v1h-2zM320 122h1v1h-1zM323 122h1v1h-1zM325 122h1v1h-1zM327 122h1v1h-1zM301 123h2v1h-2zM308 123h1v1h-1zM323 123h2v1h-2zM328 123h1v1h-1zM298 124h1v1h-1zM324 124h1v1h-1zM327 124h2v1h-2zM330 124h1v1h-1zM304 125h1v1h-1zM309 125h1v1h-1zM314 125h1v1h-1zM316 125h2v1h-2zM319 125h1v1h-1zM326 125h2v1h-2zM298 126h1v1h-1zM303 126h1v1h-1zM305 126h1v1h-1zM311 126h1v1h-1zM321 126h1v1h-1zM325 126h1v1h-1zM302 127h3v1h-3zM306 127h1v1h-1zM309 127h1v1h-1zM312 127h3v1h-3zM319 127h1v1h-1zM323 127h1v1h-1zM326 127h1v1h-1zM337 127h1v1h-1zM302 128h1v1h-1zM304 128h1v1h-1zM306 128h1v1h-1zM308 128h1v1h-1zM310 128h1v1h-1zM317 128h1v1h-1zM319 128h2v1h-2zM323 128h1v1h-1zM301 129h2v1h-2zM304 129h1v1h-1zM307 129h1v1h-1zM311 129h1v1h-1zM315 129h1v1h-1zM317 129h2v1h-2zM323 129h1v1h-1zM325 129h1v1h-1zM300 130h1v1h-1zM308 130h1v1h-1zM311 130h1v1h-1zM315 130h1v1h-1zM317 130h1v1h-1zM319 130h1v1h-1zM321 130h2v1h-2zM325 130h1v1h-1zM308 131h1v1h-1zM310 131h1v1h-1zM312 131h1v1h-1zM314 131h4v1h-4zM319 131h1v1h-1zM300 132h1v1h-1zM308 132h1v1h-1zM310 132h1v1h-1zM313 132h2v1h-2zM317 132h2v1h-2zM321 132h2v1h-2zM309 133h1v1h-1zM311 133h1v1h-1zM314 133h1v1h-1zM320 133h1v1h-1zM310 134h1v1h-1zM316 134h1v1h-1zM316 135h1v1h-1zM318 135h1v1h-1zM304 138h1v1h-1zM322 142h1v1h-1z" fill="#666"/>
<path d="M293.20 153.50h-2.8M293.20 148.57h-1.8M293.20 145.69h-1.8M293.20 143.64h-1.8M293.20 142.05h-1.8M293.20 140.76h-1.8M293.20 139.66h-1.8M293.20 138.71h-1.8M293.20 137.87h-1.8M293.20 137.12h-2.8M293.20 132.20h-1.8M293.20 129.31h-1.8M293.20 127.27h-1.8M293.20 125.68h-1.8M293.20 124.38h-1.8M293.20 123.29h-1.8M293.20 122.34h-1.8M293.20 121.50h-1.8M293.20 120.75h-2.8M293.20 115.82h-1.8M293.20 112.94h-1.8M293.20 110.89h-1.8M293.20 109.30h-1.8M293.20 108.01h-1.8M293.20 106.91h-1.8M293.20 105.96h-1.8M293.20 105.12h-1.8M293.20 104.38h-2.8M293.20 99.45h-1.8M293.20 96.56h-1.8M293.20 94.52h-1.8M293.20 92.93h-1.8M293.20 91.63h-1.8M293.20 90.54h-1.8M293.20 89.59h-1.8M293.20 88.75h-1.8M293.20 88.00h-2.8" stroke="#000" stroke-width="0.9" fill="none"/>
<path d="M293.60 153.90v2.8M298.54 153.90v1.8M301.44 153.90v1.8M303.49 153.90v1.8M305.08 153.90v1.8M306.38 153.90v1.8M307.48 153.90v1.8M308.43 153.90v1.8M309.27 153.90v1.8M310.03 153.90v2.8M314.97 153.90v1.8M317.86 153.90v1.8M319.91 153.90v1.8M321.51 153.90v1.8M322.81 153.90v1.8M323.91 153.90v1.8M324.86 153.90v1.8M325.70 153.90v1.8M326.45 153.90v2.8M331.39 153.90v1.8M334.29 153.90v1.8M336.34 153.90v1.8M337.93 153.90v1.8M339.23 153.90v1.8M340.33 153.90v1.8M341.28 153.90v1.8M342.12 153.90v1.8M342.88 153.90v2.8M347.82 153.90v1.8M350.71 153.90v1.8M352.76 153.90v1.8M354.36 153.90v1.8M355.66 153.90v1.8M356.76 153.90v1.8M357.71 153.90v1.8M358.55 153.90v1.8M359.30 153.90v2.8" stroke="#000" stroke-width="0.9" fill="none"/>
<line x1="312.00" y1="88.00" x2="312.00" y2="153.50" stroke="#000" stroke-width="1.3"/>
<line x1="293.60" y1="137.40" x2="359.30" y2="137.40" stroke="#000" stroke-width="1.3"/>
<rect x="293.60" y="88.00" width="65.70" height="65.50" fill="none" stroke="#000" stroke-width="1.2"/>
<text x="101.6" y="9.3" font-size="10.3" text-anchor="middle" font-weight="normal" fill="#111">NKG2D</text>
<text x="179.8" y="9.3" font-size="10.3" text-anchor="middle" font-weight="normal" fill="#111">NKp30</text>
<text x="252.9" y="9.3" font-size="10.3" text-anchor="middle" font-weight="normal" fill="#111">NKp46</text>
<text x="325.0" y="9.3" font-size="10.3" text-anchor="middle" font-weight="normal" fill="#111">ILT-2</text>
<text x="66.4" y="79.1" font-size="7.6" text-anchor="end" font-weight="normal" fill="#222">10<tspan font-size="4.90" dx="0.3" dy="-2.03">0</tspan></text>
<text x="66.4" y="63.2" font-size="7.6" text-anchor="end" font-weight="normal" fill="#222">10<tspan font-size="4.90" dx="0.3" dy="-2.03">1</tspan></text>
<text x="66.4" y="47.3" font-size="7.6" text-anchor="end" font-weight="normal" fill="#222">10<tspan font-size="4.90" dx="0.3" dy="-2.03">2</tspan></text>
<text x="66.4" y="31.4" font-size="7.6" text-anchor="end" font-weight="normal" fill="#222">10<tspan font-size="4.90" dx="0.3" dy="-2.03">3</tspan></text>
<text x="66.4" y="15.5" font-size="7.6" text-anchor="end" font-weight="normal" fill="#222">10<tspan font-size="4.90" dx="0.3" dy="-2.03">4</tspan></text>
<text x="66.4" y="154.1" font-size="7.6" text-anchor="end" font-weight="normal" fill="#222">10<tspan font-size="4.90" dx="0.3" dy="-2.03">0</tspan></text>
<text x="66.4" y="138.2" font-size="7.6" text-anchor="end" font-weight="normal" fill="#222">10<tspan font-size="4.90" dx="0.3" dy="-2.03">1</tspan></text>
<text x="66.4" y="122.3" font-size="7.6" text-anchor="end" font-weight="normal" fill="#222">10<tspan font-size="4.90" dx="0.3" dy="-2.03">2</tspan></text>
<text x="66.4" y="106.4" font-size="7.6" text-anchor="end" font-weight="normal" fill="#222">10<tspan font-size="4.90" dx="0.3" dy="-2.03">3</tspan></text>
<text x="66.4" y="90.5" font-size="7.6" text-anchor="end" font-weight="normal" fill="#222">10<tspan font-size="4.90" dx="0.3" dy="-2.03">4</tspan></text>
<text x="69.2" y="164.2" font-size="7.6" text-anchor="middle" font-weight="normal" fill="#222">10<tspan font-size="4.90" dx="0.3" dy="-2.03">0</tspan></text>
<text x="84.9" y="164.2" font-size="7.6" text-anchor="middle" font-weight="normal" fill="#222">10<tspan font-size="4.90" dx="0.3" dy="-2.03">1</tspan></text>
<text x="100.6" y="164.2" font-size="7.6" text-anchor="middle" font-weight="normal" fill="#222">10<tspan font-size="4.90" dx="0.3" dy="-2.03">2</tspan></text>
<text x="116.2" y="164.2" font-size="7.6" text-anchor="middle" font-weight="normal" fill="#222">10<tspan font-size="4.90" dx="0.3" dy="-2.03">3</tspan></text>
<text x="131.9" y="164.2" font-size="7.6" text-anchor="middle" font-weight="normal" fill="#222">10<tspan font-size="4.90" dx="0.3" dy="-2.03">4</tspan></text>
<text x="144.2" y="164.2" font-size="7.6" text-anchor="middle" font-weight="normal" fill="#222">10<tspan font-size="4.90" dx="0.3" dy="-2.03">0</tspan></text>
<text x="159.9" y="164.2" font-size="7.6" text-anchor="middle" font-weight="normal" fill="#222">10<tspan font-size="4.90" dx="0.3" dy="-2.03">1</tspan></text>
<text x="175.6" y="164.2" font-size="7.6" text-anchor="middle" font-weight="normal" fill="#222">10<tspan font-size="4.90" dx="0.3" dy="-2.03">2</tspan></text>
<text x="191.2" y="164.2" font-size="7.6" text-anchor="middle" font-weight="normal" fill="#222">10<tspan font-size="4.90" dx="0.3" dy="-2.03">3</tspan></text>
<text x="206.9" y="164.2" font-size="7.6" text-anchor="middle" font-weight="normal" fill="#222">10<tspan font-size="4.90" dx="0.3" dy="-2.03">4</tspan></text>
<text x="219.4" y="164.2" font-size="7.6" text-anchor="middle" font-weight="normal" fill="#222">10<tspan font-size="4.90" dx="0.3" dy="-2.03">0</tspan></text>
<text x="235.1" y="164.2" font-size="7.6" text-anchor="middle" font-weight="normal" fill="#222">10<tspan font-size="4.90" dx="0.3" dy="-2.03">1</tspan></text>
<text x="250.8" y="164.2" font-size="7.6" text-anchor="middle" font-weight="normal" fill="#222">10<tspan font-size="4.90" dx="0.3" dy="-2.03">2</tspan></text>
<text x="266.4" y="164.2" font-size="7.6" text-anchor="middle" font-weight="normal" fill="#222">10<tspan font-size="4.90" dx="0.3" dy="-2.03">3</tspan></text>
<text x="282.1" y="164.2" font-size="7.6" text-anchor="middle" font-weight="normal" fill="#222">10<tspan font-size="4.90" dx="0.3" dy="-2.03">4</tspan></text>
<text x="294.0" y="164.2" font-size="7.6" text-anchor="middle" font-weight="normal" fill="#222">10<tspan font-size="4.90" dx="0.3" dy="-2.03">0</tspan></text>
<text x="309.7" y="164.2" font-size="7.6" text-anchor="middle" font-weight="normal" fill="#222">10<tspan font-size="4.90" dx="0.3" dy="-2.03">1</tspan></text>
<text x="325.4" y="164.2" font-size="7.6" text-anchor="middle" font-weight="normal" fill="#222">10<tspan font-size="4.90" dx="0.3" dy="-2.03">2</tspan></text>
<text x="341.0" y="164.2" font-size="7.6" text-anchor="middle" font-weight="normal" fill="#222">10<tspan font-size="4.90" dx="0.3" dy="-2.03">3</tspan></text>
<text x="356.7" y="164.2" font-size="7.6" text-anchor="middle" font-weight="normal" fill="#222">10<tspan font-size="4.90" dx="0.3" dy="-2.03">4</tspan></text>
<text x="369.0" y="47.8" font-size="10.5" text-anchor="start" font-weight="normal" fill="#111">Mock</text>
<text x="369.0" y="118.2" font-size="10.5" text-anchor="start" font-weight="normal" fill="#111">TB40/E</text>
<text x="28.9" y="75.2" font-size="10.3" text-anchor="middle" font-weight="normal" fill="#111" transform="rotate(-90 28.9 75.2)">CD56</text>
<line x1="48.00" y1="151.00" x2="48.00" y2="16.00" stroke="#000" stroke-width="1"/>
<path d="M48 12.5 L46.2 17 L49.8 17 Z" fill="#000"/>
<text x="1.5" y="14.8" font-size="18.5" text-anchor="start" font-weight="bold" fill="#000">A</text>
<text x="1.5" y="201.5" font-size="18.5" text-anchor="start" font-weight="bold" fill="#000">B</text>
<clipPath id="c31_206"><rect x="31.3" y="206.5" width="99.3" height="73.5"/></clipPath>
<g clip-path="url(#c31_206)">
<path d="M31.30 280.00V279.61H32.10V279.99H32.90V280.00H33.70V280.00H34.50V279.99H35.30V279.98H36.10V280.00H36.90V279.98H37.70V279.78H38.50V279.80H39.30V280.00H40.10V280.00H40.90V279.91H41.70V280.00H42.50V280.00H43.30V280.00H44.10V280.00H44.90V280.00H45.70V280.00H46.50V279.92H47.30V280.00H48.10V279.75H48.90V280.00H49.70V279.87H50.50V279.86H51.30V280.00H52.10V280.00H52.90V279.84H53.70V279.94H54.50V279.83H55.30V277.91H56.10V278.72H56.90V278.25H57.70V278.57H58.50V277.65H59.30V277.77H60.10V277.59H60.90V278.85H61.70V278.48H62.50V278.56H63.30V278.62H64.10V277.05H64.90V276.78H65.70V276.66H66.50V276.69H67.30V276.21H68.10V277.08H68.90V276.97H69.70V271.20H70.50V271.22H71.30V273.21H72.10V270.29H72.90V268.37H73.70V268.06H74.50V265.92H75.30V263.19H76.10V260.25H76.90V257.86H77.70V254.62H78.50V254.36H79.30V245.89H80.10V243.43H80.90V244.94H81.70V240.48H82.50V232.08H83.30V237.11H84.10V218.78H84.90V218.29H85.70V241.52H86.50V221.94H87.30V228.25H88.10V223.35H88.90V225.16H89.70V246.76H90.50V235.30H91.30V242.02H92.10V253.85H92.90V258.57H93.70V265.17H94.50V261.33H95.30V264.61H96.10V265.51H96.90V272.53H97.70V273.49H98.50V276.18H99.30V275.23H100.10V276.30H100.90V277.68H101.70V278.36H102.50V277.34H103.30V278.33H104.10V279.20H104.90V278.98H105.70V279.02H106.50V278.83H107.30V279.73H108.10V279.50H108.90V279.65H109.70V280.00H110.50V279.83H111.30V280.00H112.10V280.00H112.90V279.85H113.70V280.00H114.50V279.90H115.30V280.00H116.10V280.00H116.90V279.58H117.70V280.00H118.50V280.00H119.30V279.85H120.10V280.00H120.90V280.00H121.70V280.00H122.50V279.90H123.30V279.75H124.10V280.00H124.90V279.94H125.70V279.78H126.50V279.77H127.30V279.57H128.10V280.00H128.90V280.00H129.70V280.00H130.50V279.99H131.30V280.00Z" fill="#d2d2d2" stroke="#555" stroke-width="0.8" stroke-linejoin="miter"/>
<path d="M31.30 280.00V270.96H31.90V265.98H32.50V265.60H33.10V259.92H33.70V265.66H34.30V262.50H34.90V263.34H35.50V263.59H36.10V260.06H36.70V262.76H37.30V270.66H37.90V268.74H38.50V266.45H39.10V256.56H39.70V257.45H40.30V253.44H40.90V243.71H41.50V253.92H42.10V252.91H42.70V254.20H43.30V250.60H43.90V252.71H44.50V258.16H45.10V244.66H45.70V246.38H46.30V253.83H46.90V250.66H47.50V256.55H48.10V249.13H48.70V243.19H49.30V249.29H49.90V238.08H50.50V249.03H51.10V251.03H51.70V243.22H52.30V249.28H52.90V244.90H53.50V252.25H54.10V251.81H54.70V253.51H55.30V259.81H55.90V263.74H56.50V267.76H57.10V273.86H57.70V275.57H58.30V276.64H58.90V275.91H59.50V277.15H60.10V277.80H60.70V280.00H61.30V280.00H61.90V277.79H62.50V278.51H63.10V278.66H63.70V278.78H64.30V278.60H64.90V278.66H65.50V278.51H66.10V277.99H66.70V279.06H67.30V279.48H67.90V279.55H68.50V279.48H69.10V278.91H69.70V278.87H70.30V278.59H70.90V280.00H71.50V280.00H72.10V279.39H72.70V278.63H73.30V278.82H73.90V279.95H74.50V279.60H75.10V279.49H75.70V280.00H76.30V278.73H76.90V279.15H77.50V279.01H78.10V279.38H78.70V279.43H79.30V279.88H79.90V279.17H80.50V279.13H81.10V279.13H81.70V280.00H82.30V278.89H82.90V279.49H83.50V279.66H84.10V278.91H84.70V279.58H85.30V279.66H85.90V279.20H86.50V278.99H87.10V279.18H87.70V279.93H88.30V279.13H88.90V279.14H89.50V279.05H90.10V278.80H90.70V279.34H91.30V279.43H91.90V277.77H92.50V279.14H93.10V279.83H93.70V278.69H94.30V279.79H94.90V279.59H95.50V280.00H96.10V279.56H96.70V279.00H97.30V278.34H97.90V279.97H98.50V278.74H99.10V280.00H99.70V279.40H100.30V280.00H100.90V279.39H101.50V279.80H102.10V278.66H102.70V279.74H103.30V277.99H103.90V279.28H104.50V279.59H105.10V279.73H105.70V279.79H106.30V279.41H106.90V279.66H107.50V279.72H108.10V279.89H108.70V280.00H109.30V279.47H109.90V279.65H110.50V279.46H111.10V279.86H111.70V279.64H112.30V279.76H112.90V279.96H113.50V279.93H114.10V279.98H114.70V279.87H115.30V279.71H115.90V280.00H116.50V279.79H117.10V279.91H117.70V279.76H118.30V279.92H118.90V279.93H119.50V279.81H120.10V279.68H120.70V279.91H121.30V279.93H121.90V279.75H122.50V279.89H123.10V279.70H123.70V279.84H124.30V280.00H124.90V279.70H125.50V280.00H126.10V279.62H126.70V280.00H127.30V280.00H127.90V280.00H128.50V280.00H129.10V279.74H129.70V279.84H130.30V279.81H130.90V280.00" fill="none" stroke="#707070" stroke-width="0.9"/>
<path d="M31.30 280.00V278.81H31.90V278.45H32.50V278.09H33.10V278.10H33.70V277.55H34.30V278.19H34.90V277.57H35.50V278.08H36.10V277.98H36.70V276.51H37.30V275.53H37.90V275.65H38.50V273.34H39.10V273.62H39.70V273.97H40.30V272.74H40.90V270.71H41.50V273.47H42.10V271.25H42.70V272.12H43.30V273.20H43.90V273.98H44.50V274.65H45.10V273.14H45.70V273.52H46.30V265.82H46.90V267.24H47.50V266.82H48.10V268.55H48.70V267.61H49.30V264.94H49.90V263.10H50.50V262.44H51.10V265.03H51.70V264.95H52.30V263.71H52.90V256.66H53.50V255.47H54.10V255.19H54.70V254.74H55.30V256.55H55.90V258.55H56.50V256.54H57.10V263.90H57.70V257.76H58.30V262.71H58.90V261.60H59.50V261.62H60.10V258.59H60.70V260.85H61.30V261.57H61.90V264.53H62.50V268.87H63.10V267.68H63.70V267.58H64.30V273.13H64.90V272.61H65.50V274.19H66.10V270.44H66.70V270.86H67.30V271.93H67.90V270.10H68.50V273.84H69.10V273.32H69.70V271.29H70.30V271.72H70.90V271.23H71.50V272.39H72.10V269.73H72.70V270.69H73.30V275.15H73.90V276.29H74.50V276.01H75.10V275.94H75.70V275.98H76.30V277.42H76.90V276.51H77.50V275.96H78.10V278.53H78.70V276.25H79.30V276.24H79.90V276.01H80.50V277.35H81.10V277.89H81.70V277.31H82.30V277.33H82.90V278.01H83.50V278.52H84.10V278.78H84.70V280.00H85.30V278.43H85.90V279.48H86.50V279.42H87.10V278.92H87.70V279.77H88.30V279.49H88.90V279.39H89.50V279.88H90.10V279.18H90.70V279.81H91.30V279.50H91.90V278.34H92.50V279.45H93.10V279.59H93.70V279.70H94.30V278.19H94.90V279.15H95.50V279.13H96.10V279.83H96.70V279.44H97.30V279.97H97.90V279.60H98.50V279.50H99.10V279.73H99.70V279.29H100.30V279.81H100.90V280.00H101.50V280.00H102.10V279.59H102.70V277.99H103.30V280.00H103.90V279.94H104.50V279.87H105.10V279.75H105.70V279.92H106.30V279.78H106.90V279.53H107.50V279.66H108.10V279.72H108.70V279.48H109.30V280.00H109.90V279.91H110.50V279.89H111.10V279.58H111.70V279.75H112.30V280.00H112.90V279.78H113.50V279.50H114.10V279.60H114.70V279.96H115.30V279.86H115.90V279.73H116.50V279.92H117.10V279.79H117.70V279.73H118.30V279.69H118.90V279.62H119.50V279.92H120.10V279.80H120.70V279.85H121.30V280.00H121.90V279.76H122.50V279.79H123.10V280.00H123.70V280.00H124.30V279.76H124.90V280.00H125.50V279.73H126.10V280.00H126.70V280.00H127.30V280.00H127.90V279.95H128.50V279.86H129.10V280.00H129.70V279.89H130.30V280.00H130.90V280.00" fill="none" stroke="#000" stroke-width="1.4"/>
</g>
<path d="M30.90 280.00h-2.4M30.90 278.20h-1.4M30.90 276.40h-1.4M30.90 274.60h-1.4M30.90 272.79h-1.4M30.90 270.99h-1.4M30.90 269.19h-1.4M30.90 267.39h-1.4M30.90 265.59h-1.4M30.90 263.79h-1.4M30.90 261.99h-2.4M30.90 260.18h-1.4M30.90 258.38h-1.4M30.90 256.58h-1.4M30.90 254.78h-1.4M30.90 252.98h-1.4M30.90 251.18h-1.4M30.90 249.38h-1.4M30.90 247.57h-1.4M30.90 245.77h-1.4M30.90 243.97h-2.4M30.90 242.17h-1.4M30.90 240.37h-1.4M30.90 238.57h-1.4M30.90 236.76h-1.4M30.90 234.96h-1.4M30.90 233.16h-1.4M30.90 231.36h-1.4M30.90 229.56h-1.4M30.90 227.76h-1.4M30.90 225.96h-2.4M30.90 224.15h-1.4M30.90 222.35h-1.4M30.90 220.55h-1.4M30.90 218.75h-1.4M30.90 216.95h-1.4M30.90 215.15h-1.4M30.90 213.35h-1.4M30.90 211.54h-1.4M30.90 209.74h-1.4M30.90 207.94h-2.4" stroke="#000" stroke-width="0.9" fill="none"/>
<path d="M31.30 280.40v2.8M38.77 280.40v1.8M43.14 280.40v1.8M46.25 280.40v1.8M48.65 280.40v1.8M50.62 280.40v1.8M52.28 280.40v1.8M53.72 280.40v1.8M54.99 280.40v1.8M56.12 280.40v2.8M63.60 280.40v1.8M67.97 280.40v1.8M71.07 280.40v1.8M73.48 280.40v1.8M75.44 280.40v1.8M77.10 280.40v1.8M78.54 280.40v1.8M79.81 280.40v1.8M80.95 280.40v2.8M88.42 280.40v1.8M92.79 280.40v1.8M95.90 280.40v1.8M98.30 280.40v1.8M100.27 280.40v1.8M101.93 280.40v1.8M103.37 280.40v1.8M104.64 280.40v1.8M105.77 280.40v2.8M113.25 280.40v1.8M117.62 280.40v1.8M120.72 280.40v1.8M123.13 280.40v1.8M125.09 280.40v1.8M126.75 280.40v1.8M128.19 280.40v1.8M129.46 280.40v1.8M130.60 280.40v2.8" stroke="#000" stroke-width="0.9" fill="none"/>
<rect x="31.30" y="206.50" width="99.30" height="73.50" fill="none" stroke="#000" stroke-width="1.3"/>
<text transform="translate(27.10 284.70) scale(0.88 1)" font-size="8.5" text-anchor="end" font-weight="normal" fill="#222">0</text>
<text transform="translate(27.10 266.69) scale(0.88 1)" font-size="8.5" text-anchor="end" font-weight="normal" fill="#222">10</text>
<text transform="translate(27.10 248.67) scale(0.88 1)" font-size="8.5" text-anchor="end" font-weight="normal" fill="#222">20</text>
<text transform="translate(27.10 230.66) scale(0.88 1)" font-size="8.5" text-anchor="end" font-weight="normal" fill="#222">30</text>
<text transform="translate(27.10 212.64) scale(0.88 1)" font-size="8.5" text-anchor="end" font-weight="normal" fill="#222">40</text>
<text x="83.0" y="202.5" font-size="10.6" text-anchor="middle" font-weight="normal" fill="#111">CD56<tspan font-size="6.2" dy="-2.9">+</tspan><tspan dy="2.9">CD3</tspan><tspan font-size="6.5" dy="-3.2">-</tspan></text>
<text x="10.8" y="237.5" font-size="10" text-anchor="middle" font-weight="normal" fill="#111" transform="rotate(-90 10.8 237.5)">Donor 1</text>
<clipPath id="c155_205"><rect x="155.1" y="205.5" width="99.0" height="74.69999999999999"/></clipPath>
<g clip-path="url(#c155_205)">
<path d="M155.10 280.20V260.86H155.90V257.37H156.70V256.40H157.50V253.36H158.30V249.38H159.10V240.50H159.90V235.76H160.70V232.78H161.50V227.05H162.30V222.08H163.10V209.56H163.90V203.50H164.70V203.50H165.50V203.50H166.30V203.50H167.10V203.50H167.90V203.50H168.70V203.50H169.50V203.50H170.30V203.50H171.10V203.50H171.90V203.50H172.70V203.50H173.50V203.50H174.30V216.76H175.10V233.30H175.90V242.32H176.70V254.52H177.50V257.37H178.30V263.04H179.10V267.97H179.90V268.77H180.70V270.59H181.50V270.33H182.30V269.81H183.10V268.77H183.90V268.81H184.70V268.06H185.50V265.14H186.30V266.70H187.10V263.37H187.90V261.32H188.70V261.02H189.50V260.14H190.30V260.17H191.10V253.57H191.90V250.81H192.70V252.07H193.50V250.66H194.30V245.01H195.10V245.99H195.90V243.85H196.70V245.22H197.50V240.45H198.30V242.15H199.10V239.88H199.90V247.25H200.70V244.65H201.50V244.92H202.30V248.63H203.10V252.68H203.90V251.70H204.70V255.96H205.50V256.26H206.30V260.37H207.10V261.54H207.90V265.33H208.70V268.25H209.50V269.95H210.30V270.95H211.10V272.36H211.90V272.68H212.70V273.45H213.50V274.27H214.30V274.36H215.10V275.80H215.90V277.20H216.70V276.90H217.50V277.55H218.30V278.17H219.10V277.17H219.90V278.80H220.70V278.16H221.50V279.05H222.30V279.37H223.10V278.63H223.90V278.85H224.70V280.20H225.50V279.33H226.30V279.97H227.10V279.37H227.90V279.41H228.70V279.57H229.50V280.20H230.30V279.65H231.10V279.84H231.90V280.20H232.70V279.18H233.50V280.20H234.30V280.15H235.10V280.20H235.90V280.02H236.70V280.10H237.50V280.04H238.30V280.20H239.10V280.19H239.90V280.20H240.70V280.20H241.50V280.12H242.30V280.13H243.10V279.88H243.90V280.15H244.70V280.20H245.50V280.20H246.30V279.92H247.10V280.20H247.90V280.11H248.70V280.20H249.50V280.20H250.30V279.80H251.10V280.20H251.90V280.20H252.70V280.03H253.50V280.18H254.30V280.20Z" fill="#d2d2d2" stroke="#555" stroke-width="0.8" stroke-linejoin="miter"/>
<path d="M155.10 280.20V249.54H155.70V239.77H156.30V216.45H156.90V203.50H157.50V203.50H158.10V203.50H158.70V203.50H159.30V203.50H159.90V203.50H160.50V203.50H161.10V203.50H161.70V203.50H162.30V203.50H162.90V203.50H163.50V203.50H164.10V203.50H164.70V203.50H165.30V203.50H165.90V203.50H166.50V203.50H167.10V203.50H167.70V203.50H168.30V203.50H168.90V203.50H169.50V203.50H170.10V203.50H170.70V203.50H171.30V203.50H171.90V203.50H172.50V203.50H173.10V203.50H173.70V203.50H174.30V203.50H174.90V231.95H175.50V238.76H176.10V245.59H176.70V253.98H177.30V255.10H177.90V259.23H178.50V264.12H179.10V267.26H179.70V267.70H180.30V269.11H180.90V271.08H181.50V271.62H182.10V271.02H182.70V271.08H183.30V270.59H183.90V268.27H184.50V269.18H185.10V266.39H185.70V266.06H186.30V266.61H186.90V263.78H187.50V262.16H188.10V261.95H188.70V261.61H189.30V259.62H189.90V259.68H190.50V257.39H191.10V254.52H191.70V255.84H192.30V246.73H192.90V248.18H193.50V249.04H194.10V243.98H194.70V249.21H195.30V243.93H195.90V246.78H196.50V245.41H197.10V241.87H197.70V241.03H198.30V244.99H198.90V244.95H199.50V241.22H200.10V245.99H200.70V243.87H201.30V246.20H201.90V245.41H202.50V248.79H203.10V246.51H203.70V250.64H204.30V249.71H204.90V257.11H205.50V253.33H206.10V256.41H206.70V258.87H207.30V259.71H207.90V262.03H208.50V263.93H209.10V266.90H209.70V266.18H210.30V269.18H210.90V268.64H211.50V269.19H212.10V269.96H212.70V270.57H213.30V270.79H213.90V272.41H214.50V273.91H215.10V272.97H215.70V273.74H216.30V275.63H216.90V275.34H217.50V277.68H218.10V275.90H218.70V276.09H219.30V275.02H219.90V276.77H220.50V277.03H221.10V278.06H221.70V278.20H222.30V278.17H222.90V278.97H223.50V279.13H224.10V278.87H224.70V279.79H225.30V279.71H225.90V279.35H226.50V279.07H227.10V279.78H227.70V279.16H228.30V279.71H228.90V279.54H229.50V279.26H230.10V280.20H230.70V280.20H231.30V279.85H231.90V280.20H232.50V279.67H233.10V280.20H233.70V279.97H234.30V280.20H234.90V279.99H235.50V280.20H236.10V280.20H236.70V280.20H237.30V280.14H237.90V280.10H238.50V280.20H239.10V279.86H239.70V280.20H240.30V280.20H240.90V280.20H241.50V280.05H242.10V280.20H242.70V279.92H243.30V280.20H243.90V280.08H244.50V280.07H245.10V279.78H245.70V279.94H246.30V280.00H246.90V280.20H247.50V280.20H248.10V280.17H248.70V280.13H249.30V280.20H249.90V280.14H250.50V280.16H251.10V280.03H251.70V279.91H252.30V280.20H252.90V280.20H253.50V280.20H254.10V280.20" fill="none" stroke="#666" stroke-width="0.9"/>
<path d="M155.10 280.20V264.40H155.70V264.10H156.30V259.83H156.90V259.86H157.50V257.69H158.10V257.95H158.70V257.12H159.30V253.60H159.90V243.45H160.50V241.23H161.10V234.73H161.70V220.14H162.30V203.50H162.90V203.50H163.50V203.50H164.10V203.50H164.70V203.50H165.30V203.50H165.90V203.50H166.50V203.50H167.10V203.50H167.70V203.50H168.30V203.50H168.90V203.50H169.50V203.50H170.10V203.50H170.70V203.50H171.30V203.50H171.90V203.50H172.50V203.50H173.10V203.50H173.70V203.50H174.30V203.50H174.90V204.08H175.50V221.96H176.10V237.96H176.70V250.53H177.30V256.01H177.90V260.06H178.50V262.65H179.10V266.19H179.70V268.82H180.30V269.13H180.90V271.11H181.50V271.81H182.10V271.22H182.70V271.82H183.30V270.04H183.90V269.54H184.50V269.27H185.10V267.96H185.70V268.12H186.30V265.21H186.90V265.06H187.50V262.44H188.10V259.80H188.70V261.49H189.30V260.42H189.90V257.44H190.50V253.98H191.10V251.51H191.70V251.72H192.30V247.24H192.90V252.82H193.50V246.42H194.10V250.57H194.70V239.90H195.30V244.09H195.90V242.77H196.50V243.07H197.10V241.58H197.70V240.28H198.30V242.90H198.90V239.57H199.50V245.32H200.10V237.29H200.70V240.47H201.30V245.85H201.90V248.46H202.50V245.89H203.10V248.91H203.70V249.33H204.30V250.77H204.90V255.19H205.50V256.29H206.10V257.33H206.70V260.55H207.30V260.73H207.90V264.37H208.50V265.42H209.10V266.04H209.70V269.44H210.30V269.02H210.90V272.10H211.50V273.23H212.10V272.45H212.70V272.92H213.30V274.34H213.90V275.66H214.50V275.55H215.10V276.79H215.70V276.39H216.30V276.78H216.90V277.59H217.50V277.50H218.10V277.25H218.70V278.68H219.30V277.73H219.90V277.46H220.50V279.41H221.10V278.56H221.70V279.28H222.30V279.32H222.90V279.74H223.50V279.13H224.10V279.07H224.70V278.93H225.30V279.89H225.90V279.23H226.50V279.71H227.10V279.47H227.70V280.15H228.30V280.20H228.90V279.91H229.50V279.63H230.10V280.04H230.70V280.20H231.30V279.83H231.90V280.20H232.50V279.10H233.10V280.04H233.70V279.99H234.30V280.18H234.90V280.20H235.50V280.12H236.10V280.20H236.70V280.11H237.30V280.20H237.90V280.20H238.50V279.89H239.10V280.20H239.70V280.19H240.30V280.05H240.90V279.95H241.50V280.00H242.10V280.20H242.70V280.04H243.30V280.20H243.90V280.05H244.50V279.96H245.10V280.12H245.70V280.20H246.30V279.89H246.90V279.80H247.50V279.85H248.10V280.20H248.70V280.12H249.30V279.98H249.90V280.20H250.50V280.11H251.10V280.20H251.70V280.20H252.30V280.20H252.90V280.20H253.50V280.20H254.10V280.20" fill="none" stroke="#000" stroke-width="1.5"/>
</g>
<path d="M154.70 280.20h-2.4M154.70 277.19h-1.4M154.70 274.18h-1.4M154.70 271.16h-1.4M154.70 268.15h-2.4M154.70 265.14h-1.4M154.70 262.13h-1.4M154.70 259.12h-1.4M154.70 256.10h-2.4M154.70 253.09h-1.4M154.70 250.08h-1.4M154.70 247.07h-1.4M154.70 244.05h-2.4M154.70 241.04h-1.4M154.70 238.03h-1.4M154.70 235.02h-1.4M154.70 232.01h-2.4M154.70 228.99h-1.4M154.70 225.98h-1.4M154.70 222.97h-1.4M154.70 219.96h-2.4M154.70 216.95h-1.4M154.70 213.93h-1.4M154.70 210.92h-1.4M154.70 207.91h-2.4" stroke="#000" stroke-width="0.9" fill="none"/>
<path d="M155.10 280.60v2.8M162.55 280.60v1.8M166.91 280.60v1.8M170.00 280.60v1.8M172.40 280.60v1.8M174.36 280.60v1.8M176.02 280.60v1.8M177.45 280.60v1.8M178.72 280.60v1.8M179.85 280.60v2.8M187.30 280.60v1.8M191.66 280.60v1.8M194.75 280.60v1.8M197.15 280.60v1.8M199.11 280.60v1.8M200.77 280.60v1.8M202.20 280.60v1.8M203.47 280.60v1.8M204.60 280.60v2.8M212.05 280.60v1.8M216.41 280.60v1.8M219.50 280.60v1.8M221.90 280.60v1.8M223.86 280.60v1.8M225.52 280.60v1.8M226.95 280.60v1.8M228.22 280.60v1.8M229.35 280.60v2.8M236.80 280.60v1.8M241.16 280.60v1.8M244.25 280.60v1.8M246.65 280.60v1.8M248.61 280.60v1.8M250.27 280.60v1.8M251.70 280.60v1.8M252.97 280.60v1.8M254.10 280.60v2.8" stroke="#000" stroke-width="0.9" fill="none"/>
<rect x="155.10" y="205.50" width="99.00" height="74.70" fill="none" stroke="#000" stroke-width="1.3"/>
<text transform="translate(150.90 284.90) scale(0.88 1)" font-size="8.5" text-anchor="end" font-weight="normal" fill="#222">0</text>
<text transform="translate(150.90 272.85) scale(0.88 1)" font-size="8.5" text-anchor="end" font-weight="normal" fill="#222">20</text>
<text transform="translate(150.90 260.80) scale(0.88 1)" font-size="8.5" text-anchor="end" font-weight="normal" fill="#222">40</text>
<text transform="translate(150.90 248.75) scale(0.88 1)" font-size="8.5" text-anchor="end" font-weight="normal" fill="#222">60</text>
<text transform="translate(150.90 236.71) scale(0.88 1)" font-size="8.5" text-anchor="end" font-weight="normal" fill="#222">80</text>
<text transform="translate(150.90 224.66) scale(0.88 1)" font-size="8.5" text-anchor="end" font-weight="normal" fill="#222">100</text>
<text transform="translate(150.90 212.61) scale(0.88 1)" font-size="8.5" text-anchor="end" font-weight="normal" fill="#222">120</text>
<text x="199.2" y="202.4" font-size="10.6" text-anchor="middle" font-weight="normal" fill="#111">CD3<tspan font-size="6.2" dy="-3.4">+</tspan></text>
<line x1="181.00" y1="232.30" x2="231.80" y2="232.30" stroke="#000" stroke-width="1.3"/>
<line x1="181.00" y1="228.80" x2="181.00" y2="235.80" stroke="#000" stroke-width="1.3"/>
<line x1="231.80" y1="228.80" x2="231.80" y2="235.80" stroke="#000" stroke-width="1.3"/>
<text x="206.8" y="242.2" font-size="8.6" text-anchor="start" font-weight="normal" fill="#222">M1</text>
<clipPath id="c31_288"><rect x="31.3" y="288.6" width="99.3" height="72.89999999999998"/></clipPath>
<g clip-path="url(#c31_288)">
<path d="M31.30 361.50V361.42H32.10V361.47H32.90V361.42H33.70V361.19H34.50V361.33H35.30V361.50H36.10V361.45H36.90V361.20H37.70V361.48H38.50V361.21H39.30V361.27H40.10V361.50H40.90V361.38H41.70V361.20H42.50V361.25H43.30V361.50H44.10V361.12H44.90V361.14H45.70V361.45H46.50V361.37H47.30V361.39H48.10V361.33H48.90V360.92H49.70V360.78H50.50V361.05H51.30V361.24H52.10V361.24H52.90V360.73H53.70V361.27H54.50V361.11H55.30V361.19H56.10V361.20H56.90V361.04H57.70V361.17H58.50V360.90H59.30V361.14H60.10V361.15H60.90V361.32H61.70V360.90H62.50V360.47H63.30V359.94H64.10V360.27H64.90V359.42H65.70V356.70H66.50V356.14H67.30V356.07H68.10V355.71H68.90V352.64H69.70V353.52H70.50V352.06H71.30V349.69H72.10V347.81H72.90V340.57H73.70V343.24H74.50V337.08H75.30V340.97H76.10V337.47H76.90V333.44H77.70V327.17H78.50V331.89H79.30V331.30H80.10V320.61H80.90V322.15H81.70V312.86H82.50V318.45H83.30V320.76H84.10V311.42H84.90V301.82H85.70V305.33H86.50V301.80H87.30V303.86H88.10V308.63H88.90V309.40H89.70V306.36H90.50V309.29H91.30V325.43H92.10V325.45H92.90V329.54H93.70V333.03H94.50V336.64H95.30V342.02H96.10V347.02H96.90V349.43H97.70V351.93H98.50V353.87H99.30V353.94H100.10V357.33H100.90V360.19H101.70V358.61H102.50V361.23H103.30V361.28H104.10V361.46H104.90V361.47H105.70V361.34H106.50V361.50H107.30V361.43H108.10V361.43H108.90V361.43H109.70V361.29H110.50V361.36H111.30V361.13H112.10V361.50H112.90V361.50H113.70V361.50H114.50V361.39H115.30V361.29H116.10V361.35H116.90V361.44H117.70V361.47H118.50V361.50H119.30V361.38H120.10V361.50H120.90V361.50H121.70V361.46H122.50V361.50H123.30V361.47H124.10V361.33H124.90V361.45H125.70V361.48H126.50V361.50H127.30V361.27H128.10V361.50H128.90V361.48H129.70V361.48H130.50V361.16H131.30V361.50Z" fill="#d2d2d2" stroke="#555" stroke-width="0.8" stroke-linejoin="miter"/>
<path d="M31.30 361.50V342.24H31.90V333.65H32.50V336.35H33.10V333.81H33.70V341.10H34.30V339.00H34.90V341.89H35.50V342.29H36.10V340.46H36.70V338.88H37.30V334.60H37.90V326.91H38.50V330.45H39.10V332.72H39.70V334.93H40.30V334.68H40.90V329.62H41.50V334.80H42.10V326.61H42.70V316.24H43.30V324.11H43.90V309.75H44.50V323.81H45.10V328.76H45.70V330.54H46.30V334.41H46.90V306.20H47.50V320.55H48.10V328.18H48.70V321.42H49.30V328.38H49.90V336.90H50.50V327.18H51.10V328.04H51.70V340.27H52.30V338.90H52.90V340.93H53.50V339.51H54.10V347.27H54.70V351.15H55.30V350.66H55.90V352.86H56.50V354.67H57.10V355.89H57.70V355.05H58.30V358.09H58.90V356.74H59.50V357.56H60.10V359.34H60.70V358.80H61.30V358.74H61.90V359.13H62.50V359.14H63.10V358.21H63.70V359.03H64.30V359.77H64.90V359.30H65.50V360.94H66.10V360.48H66.70V359.46H67.30V360.24H67.90V360.49H68.50V360.97H69.10V359.92H69.70V361.50H70.30V360.64H70.90V360.53H71.50V360.78H72.10V361.10H72.70V361.25H73.30V360.76H73.90V360.16H74.50V360.86H75.10V359.88H75.70V361.50H76.30V360.66H76.90V360.44H77.50V360.38H78.10V360.55H78.70V361.01H79.30V359.69H79.90V360.50H80.50V360.58H81.10V360.58H81.70V359.98H82.30V361.21H82.90V360.83H83.50V360.41H84.10V361.49H84.70V361.50H85.30V361.16H85.90V360.43H86.50V359.76H87.10V361.50H87.70V361.29H88.30V360.95H88.90V360.83H89.50V361.29H90.10V360.26H90.70V361.01H91.30V360.96H91.90V361.14H92.50V360.89H93.10V361.21H93.70V360.96H94.30V361.19H94.90V361.13H95.50V361.25H96.10V361.13H96.70V361.17H97.30V361.12H97.90V361.18H98.50V360.73H99.10V361.15H99.70V360.98H100.30V361.06H100.90V361.33H101.50V360.95H102.10V361.47H102.70V361.35H103.30V360.83H103.90V360.79H104.50V361.15H105.10V361.11H105.70V361.14H106.30V360.99H106.90V361.18H107.50V360.87H108.10V360.78H108.70V361.19H109.30V361.07H109.90V361.34H110.50V361.50H111.10V360.93H111.70V361.28H112.30V361.19H112.90V360.85H113.50V361.28H114.10V361.27H114.70V361.43H115.30V361.22H115.90V361.43H116.50V361.35H117.10V361.18H117.70V361.42H118.30V361.29H118.90V361.43H119.50V361.26H120.10V361.40H120.70V361.28H121.30V361.50H121.90V361.50H122.50V361.45H123.10V361.26H123.70V361.50H124.30V361.40H124.90V361.30H125.50V361.39H126.10V361.44H126.70V361.47H127.30V361.50H127.90V361.42H128.50V361.50H129.10V361.50H129.70V361.50H130.30V361.50H130.90V361.50" fill="none" stroke="#707070" stroke-width="0.9"/>
<path d="M31.30 361.50V357.73H31.90V356.34H32.50V356.12H33.10V354.72H33.70V356.29H34.30V356.79H34.90V356.43H35.50V354.48H36.10V355.62H36.70V356.17H37.30V353.64H37.90V355.08H38.50V352.65H39.10V353.92H39.70V351.71H40.30V354.09H40.90V352.03H41.50V354.13H42.10V352.04H42.70V352.40H43.30V351.99H43.90V348.34H44.50V348.05H45.10V352.62H45.70V346.67H46.30V346.83H46.90V340.28H47.50V345.84H48.10V343.22H48.70V342.05H49.30V339.37H49.90V340.54H50.50V337.60H51.10V336.28H51.70V333.44H52.30V341.92H52.90V329.96H53.50V335.31H54.10V330.99H54.70V328.65H55.30V331.69H55.90V338.64H56.50V332.36H57.10V337.86H57.70V322.63H58.30V335.40H58.90V328.30H59.50V332.02H60.10V333.48H60.70V332.33H61.30V331.92H61.90V331.71H62.50V337.26H63.10V333.44H63.70V337.01H64.30V341.39H64.90V343.33H65.50V337.55H66.10V335.10H66.70V334.89H67.30V331.74H67.90V341.45H68.50V339.99H69.10V340.25H69.70V336.58H70.30V341.23H70.90V336.39H71.50V343.51H72.10V340.91H72.70V345.74H73.30V344.61H73.90V339.87H74.50V343.95H75.10V347.08H75.70V345.98H76.30V346.19H76.90V343.59H77.50V347.62H78.10V346.96H78.70V350.43H79.30V349.79H79.90V349.67H80.50V350.19H81.10V353.48H81.70V354.55H82.30V354.98H82.90V355.04H83.50V354.20H84.10V356.47H84.70V357.14H85.30V355.41H85.90V357.62H86.50V357.27H87.10V358.49H87.70V358.09H88.30V358.02H88.90V358.91H89.50V358.88H90.10V360.17H90.70V359.75H91.30V360.32H91.90V361.13H92.50V360.83H93.10V360.93H93.70V361.05H94.30V361.24H94.90V361.02H95.50V361.50H96.10V361.50H96.70V361.47H97.30V361.44H97.90V361.50H98.50V361.33H99.10V361.44H99.70V361.50H100.30V361.36H100.90V361.30H101.50V361.50H102.10V361.50H102.70V361.50H103.30V361.50H103.90V361.43H104.50V361.45H105.10V361.49H105.70V361.41H106.30V361.28H106.90V361.45H107.50V361.50H108.10V361.17H108.70V361.47H109.30V361.28H109.90V361.32H110.50V361.50H111.10V361.50H111.70V361.24H112.30V361.50H112.90V361.41H113.50V361.50H114.10V361.50H114.70V361.50H115.30V361.25H115.90V361.50H116.50V361.50H117.10V361.50H117.70V361.50H118.30V361.50H118.90V361.16H119.50V361.50H120.10V361.32H120.70V361.50H121.30V361.50H121.90V361.50H122.50V361.43H123.10V361.12H123.70V361.39H124.30V361.50H124.90V361.39H125.50V361.20H126.10V361.50H126.70V361.50H127.30V361.50H127.90V361.50H128.50V361.50H129.10V361.32H129.70V361.50H130.30V361.50H130.90V361.50" fill="none" stroke="#000" stroke-width="1.4"/>
</g>
<path d="M30.90 361.50h-2.4M30.90 358.51h-1.4M30.90 355.52h-1.4M30.90 352.54h-1.4M30.90 349.55h-1.4M30.90 346.56h-2.4M30.90 343.57h-1.4M30.90 340.59h-1.4M30.90 337.60h-1.4M30.90 334.61h-1.4M30.90 331.62h-2.4M30.90 328.64h-1.4M30.90 325.65h-1.4M30.90 322.66h-1.4M30.90 319.67h-1.4M30.90 316.68h-2.4M30.90 313.70h-1.4M30.90 310.71h-1.4M30.90 307.72h-1.4M30.90 304.73h-1.4M30.90 301.75h-2.4M30.90 298.76h-1.4M30.90 295.77h-1.4M30.90 292.78h-1.4M30.90 289.80h-1.4" stroke="#000" stroke-width="0.9" fill="none"/>
<path d="M31.30 361.90v2.8M38.77 361.90v1.8M43.14 361.90v1.8M46.25 361.90v1.8M48.65 361.90v1.8M50.62 361.90v1.8M52.28 361.90v1.8M53.72 361.90v1.8M54.99 361.90v1.8M56.12 361.90v2.8M63.60 361.90v1.8M67.97 361.90v1.8M71.07 361.90v1.8M73.48 361.90v1.8M75.44 361.90v1.8M77.10 361.90v1.8M78.54 361.90v1.8M79.81 361.90v1.8M80.95 361.90v2.8M88.42 361.90v1.8M92.79 361.90v1.8M95.90 361.90v1.8M98.30 361.90v1.8M100.27 361.90v1.8M101.93 361.90v1.8M103.37 361.90v1.8M104.64 361.90v1.8M105.77 361.90v2.8M113.25 361.90v1.8M117.62 361.90v1.8M120.72 361.90v1.8M123.13 361.90v1.8M125.09 361.90v1.8M126.75 361.90v1.8M128.19 361.90v1.8M129.46 361.90v1.8M130.60 361.90v2.8" stroke="#000" stroke-width="0.9" fill="none"/>
<rect x="31.30" y="288.60" width="99.30" height="72.90" fill="none" stroke="#000" stroke-width="1.3"/>
<text transform="translate(27.10 366.20) scale(0.88 1)" font-size="8.5" text-anchor="end" font-weight="normal" fill="#222">0</text>
<text transform="translate(27.10 351.26) scale(0.88 1)" font-size="8.5" text-anchor="end" font-weight="normal" fill="#222">5</text>
<text transform="translate(27.10 336.32) scale(0.88 1)" font-size="8.5" text-anchor="end" font-weight="normal" fill="#222">10</text>
<text transform="translate(27.10 321.38) scale(0.88 1)" font-size="8.5" text-anchor="end" font-weight="normal" fill="#222">15</text>
<text transform="translate(27.10 306.45) scale(0.88 1)" font-size="8.5" text-anchor="end" font-weight="normal" fill="#222">20</text>
<text x="10.3" y="323.4" font-size="10" text-anchor="middle" font-weight="normal" fill="#111" transform="rotate(-90 10.3 323.4)">Donor 2</text>
<clipPath id="c155_288"><rect x="155.6" y="288.6" width="98.5" height="72.89999999999998"/></clipPath>
<g clip-path="url(#c155_288)">
<path d="M155.60 361.50V322.20H156.40V322.19H157.20V320.27H158.00V320.21H158.80V323.18H159.60V320.62H160.40V316.39H161.20V314.97H162.00V313.39H162.80V316.67H163.60V321.38H164.40V322.02H165.20V323.48H166.00V328.11H166.80V335.75H167.60V334.70H168.40V337.64H169.20V340.99H170.00V344.12H170.80V345.47H171.60V346.51H172.40V348.96H173.20V349.72H174.00V351.51H174.80V352.48H175.60V354.12H176.40V353.12H177.20V355.12H178.00V355.49H178.80V355.83H179.60V355.91H180.40V355.88H181.20V354.82H182.00V353.39H182.80V353.98H183.60V351.21H184.40V350.21H185.20V350.86H186.00V350.73H186.80V346.91H187.60V346.36H188.40V345.24H189.20V342.97H190.00V341.84H190.80V341.92H191.60V337.57H192.40V338.85H193.20V339.36H194.00V336.47H194.80V337.83H195.60V336.36H196.40V336.10H197.20V335.44H198.00V335.44H198.80V337.34H199.60V343.27H200.40V342.92H201.20V340.20H202.00V344.91H202.80V346.08H203.60V346.65H204.40V350.30H205.20V352.22H206.00V353.35H206.80V354.03H207.60V354.97H208.40V357.14H209.20V356.75H210.00V357.59H210.80V358.42H211.60V359.02H212.40V360.58H213.20V360.60H214.00V359.61H214.80V360.02H215.60V361.50H216.40V360.54H217.20V361.48H218.00V360.89H218.80V361.42H219.60V361.23H220.40V361.12H221.20V361.01H222.00V361.30H222.80V361.24H223.60V361.33H224.40V361.11H225.20V361.50H226.00V361.39H226.80V361.50H227.60V361.44H228.40V361.43H229.20V361.26H230.00V361.46H230.80V361.50H231.60V361.26H232.40V361.50H233.20V361.45H234.00V361.50H234.80V361.21H235.60V361.43H236.40V361.50H237.20V361.32H238.00V361.50H238.80V361.09H239.60V361.49H240.40V361.50H241.20V361.48H242.00V361.22H242.80V361.38H243.60V361.30H244.40V361.43H245.20V361.44H246.00V361.50H246.80V361.50H247.60V361.50H248.40V361.31H249.20V361.35H250.00V361.50H250.80V361.46H251.60V361.46H252.40V361.41H253.20V361.50H254.00V361.44H254.80V361.50Z" fill="#d2d2d2" stroke="#555" stroke-width="0.8" stroke-linejoin="miter"/>
<path d="M155.60 361.50V306.53H156.20V306.10H156.80V308.22H157.40V303.00H158.00V308.22H158.60V308.59H159.20V313.81H159.80V308.16H160.40V306.81H161.00V307.01H161.60V312.78H162.20V311.95H162.80V313.85H163.40V325.24H164.00V318.01H164.60V329.00H165.20V326.72H165.80V326.22H166.40V328.72H167.00V330.24H167.60V338.56H168.20V338.56H168.80V340.60H169.40V338.32H170.00V343.81H170.60V345.35H171.20V350.02H171.80V348.82H172.40V349.87H173.00V347.77H173.60V351.23H174.20V351.24H174.80V352.33H175.40V351.61H176.00V354.03H176.60V354.78H177.20V354.46H177.80V355.76H178.40V356.30H179.00V355.37H179.60V356.38H180.20V356.07H180.80V354.50H181.40V354.33H182.00V352.87H182.60V354.67H183.20V353.99H183.80V351.08H184.40V350.16H185.00V350.48H185.60V349.06H186.20V347.06H186.80V348.27H187.40V347.67H188.00V345.17H188.60V343.75H189.20V342.95H189.80V344.85H190.40V341.59H191.00V341.37H191.60V339.79H192.20V340.57H192.80V340.11H193.40V337.91H194.00V338.17H194.60V336.06H195.20V333.63H195.80V338.46H196.40V334.73H197.00V335.86H197.60V334.82H198.20V338.48H198.80V337.75H199.40V338.85H200.00V340.46H200.60V342.36H201.20V343.36H201.80V342.63H202.40V341.27H203.00V344.89H203.60V345.26H204.20V343.09H204.80V345.50H205.40V345.47H206.00V346.68H206.60V347.88H207.20V346.62H207.80V346.98H208.40V348.64H209.00V348.69H209.60V347.55H210.20V350.04H210.80V351.05H211.40V349.99H212.00V348.83H212.60V350.50H213.20V350.44H213.80V352.52H214.40V351.39H215.00V351.08H215.60V352.39H216.20V354.52H216.80V355.41H217.40V354.31H218.00V356.16H218.60V356.64H219.20V356.85H219.80V356.57H220.40V357.11H221.00V358.58H221.60V357.27H222.20V358.07H222.80V359.68H223.40V359.56H224.00V359.00H224.60V359.52H225.20V360.05H225.80V360.48H226.40V360.86H227.00V361.50H227.60V361.50H228.20V361.34H228.80V361.50H229.40V361.50H230.00V361.30H230.60V361.37H231.20V361.36H231.80V361.50H232.40V361.50H233.00V361.50H233.60V361.44H234.20V361.50H234.80V361.50H235.40V361.50H236.00V361.50H236.60V361.43H237.20V361.50H237.80V361.50H238.40V361.50H239.00V361.46H239.60V361.40H240.20V361.39H240.80V361.37H241.40V361.50H242.00V361.50H242.60V361.28H243.20V361.35H243.80V361.39H244.40V361.39H245.00V360.94H245.60V361.50H246.20V361.50H246.80V361.33H247.40V361.40H248.00V361.50H248.60V361.44H249.20V361.50H249.80V361.50H250.40V361.34H251.00V361.32H251.60V361.42H252.20V361.40H252.80V361.36H253.40V361.44H254.00V361.17H254.60V361.50" fill="none" stroke="#666" stroke-width="0.9"/>
<path d="M155.60 361.50V329.72H156.20V324.26H156.80V318.39H157.40V324.59H158.00V318.36H158.60V322.86H159.20V315.60H159.80V316.47H160.40V313.09H161.00V312.17H161.60V312.15H162.20V320.05H162.80V317.07H163.40V320.54H164.00V322.52H164.60V325.22H165.20V326.28H165.80V330.12H166.40V327.47H167.00V333.82H167.60V336.83H168.20V338.85H168.80V339.98H169.40V338.48H170.00V342.61H170.60V344.77H171.20V347.57H171.80V346.22H172.40V350.04H173.00V348.65H173.60V351.97H174.20V352.73H174.80V352.18H175.40V354.91H176.00V354.33H176.60V354.22H177.20V355.48H177.80V355.04H178.40V355.37H179.00V355.63H179.60V356.73H180.20V356.35H180.80V355.24H181.40V354.55H182.00V354.90H182.60V353.19H183.20V353.02H183.80V352.52H184.40V350.10H185.00V351.11H185.60V349.27H186.20V347.39H186.80V347.35H187.40V346.68H188.00V346.20H188.60V345.99H189.20V345.60H189.80V343.37H190.40V342.39H191.00V340.60H191.60V337.47H192.20V337.82H192.80V337.67H193.40V340.17H194.00V337.91H194.60V333.90H195.20V336.61H195.80V335.60H196.40V337.04H197.00V333.72H197.60V335.87H198.20V338.02H198.80V341.62H199.40V339.14H200.00V340.88H200.60V338.12H201.20V341.14H201.80V344.32H202.40V346.20H203.00V344.75H203.60V348.94H204.20V352.05H204.80V350.98H205.40V353.46H206.00V354.26H206.60V353.72H207.20V356.56H207.80V357.67H208.40V356.74H209.00V358.16H209.60V358.32H210.20V359.03H210.80V360.38H211.40V359.55H212.00V360.96H212.60V360.75H213.20V361.23H213.80V360.80H214.40V361.50H215.00V360.88H215.60V361.26H216.20V361.49H216.80V361.50H217.40V361.48H218.00V361.50H218.60V361.50H219.20V361.50H219.80V361.38H220.40V361.50H221.00V361.50H221.60V361.50H222.20V361.28H222.80V361.44H223.40V361.50H224.00V361.50H224.60V361.38H225.20V361.50H225.80V361.45H226.40V361.50H227.00V361.50H227.60V361.50H228.20V361.50H228.80V361.41H229.40V361.50H230.00V361.50H230.60V361.50H231.20V361.36H231.80V361.50H232.40V361.21H233.00V361.42H233.60V361.33H234.20V361.50H234.80V361.50H235.40V361.50H236.00V361.41H236.60V361.50H237.20V361.50H237.80V361.33H238.40V361.50H239.00V361.32H239.60V361.50H240.20V361.50H240.80V361.43H241.40V361.50H242.00V361.33H242.60V361.45H243.20V361.32H243.80V361.46H244.40V361.32H245.00V361.32H245.60V361.24H246.20V361.50H246.80V361.37H247.40V361.50H248.00V361.14H248.60V361.50H249.20V361.41H249.80V361.50H250.40V361.50H251.00V361.50H251.60V361.50H252.20V361.50H252.80V361.33H253.40V361.50H254.00V361.50H254.60V361.50" fill="none" stroke="#000" stroke-width="1.5"/>
</g>
<path d="M155.20 361.50h-2.4M155.20 359.11h-1.4M155.20 356.72h-1.4M155.20 354.33h-1.4M155.20 351.94h-1.4M155.20 349.55h-2.4M155.20 347.16h-1.4M155.20 344.77h-1.4M155.20 342.38h-1.4M155.20 339.99h-1.4M155.20 337.60h-2.4M155.20 335.21h-1.4M155.20 332.82h-1.4M155.20 330.43h-1.4M155.20 328.04h-1.4M155.20 325.65h-2.4M155.20 323.26h-1.4M155.20 320.87h-1.4M155.20 318.48h-1.4M155.20 316.09h-1.4M155.20 313.70h-2.4M155.20 311.31h-1.4M155.20 308.92h-1.4M155.20 306.53h-1.4M155.20 304.14h-1.4M155.20 301.75h-2.4M155.20 299.36h-1.4M155.20 296.97h-1.4M155.20 294.58h-1.4M155.20 292.19h-1.4M155.20 289.80h-2.4" stroke="#000" stroke-width="0.9" fill="none"/>
<path d="M155.60 361.90v2.8M163.01 361.90v1.8M167.35 361.90v1.8M170.43 361.90v1.8M172.81 361.90v1.8M174.76 361.90v1.8M176.41 361.90v1.8M177.84 361.90v1.8M179.10 361.90v1.8M180.22 361.90v2.8M187.64 361.90v1.8M191.97 361.90v1.8M195.05 361.90v1.8M197.44 361.90v1.8M199.39 361.90v1.8M201.04 361.90v1.8M202.46 361.90v1.8M203.72 361.90v1.8M204.85 361.90v2.8M212.26 361.90v1.8M216.60 361.90v1.8M219.68 361.90v1.8M222.06 361.90v1.8M224.01 361.90v1.8M225.66 361.90v1.8M227.09 361.90v1.8M228.35 361.90v1.8M229.47 361.90v2.8M236.89 361.90v1.8M241.22 361.90v1.8M244.30 361.90v1.8M246.69 361.90v1.8M248.64 361.90v1.8M250.29 361.90v1.8M251.71 361.90v1.8M252.97 361.90v1.8M254.10 361.90v2.8" stroke="#000" stroke-width="0.9" fill="none"/>
<rect x="155.60" y="288.60" width="98.50" height="72.90" fill="none" stroke="#000" stroke-width="1.3"/>
<text transform="translate(151.40 366.20) scale(0.88 1)" font-size="8.5" text-anchor="end" font-weight="normal" fill="#222">0</text>
<text transform="translate(151.40 354.25) scale(0.88 1)" font-size="8.5" text-anchor="end" font-weight="normal" fill="#222">10</text>
<text transform="translate(151.40 342.30) scale(0.88 1)" font-size="8.5" text-anchor="end" font-weight="normal" fill="#222">20</text>
<text transform="translate(151.40 330.35) scale(0.88 1)" font-size="8.5" text-anchor="end" font-weight="normal" fill="#222">30</text>
<text transform="translate(151.40 318.40) scale(0.88 1)" font-size="8.5" text-anchor="end" font-weight="normal" fill="#222">40</text>
<text transform="translate(151.40 306.45) scale(0.88 1)" font-size="8.5" text-anchor="end" font-weight="normal" fill="#222">50</text>
<text transform="translate(151.40 294.50) scale(0.88 1)" font-size="8.5" text-anchor="end" font-weight="normal" fill="#222">60</text>
<line x1="178.50" y1="317.40" x2="228.80" y2="317.40" stroke="#000" stroke-width="1.3"/>
<line x1="178.50" y1="311.40" x2="178.50" y2="323.40" stroke="#000" stroke-width="1.3"/>
<line x1="228.80" y1="311.40" x2="228.80" y2="323.40" stroke="#000" stroke-width="1.3"/>
<text x="204.3" y="327.6" font-size="8.6" text-anchor="start" font-weight="normal" fill="#222">M1</text>
<text transform="translate(33.90 375.10) scale(0.9 1)" font-size="8.2" text-anchor="middle" font-weight="normal" fill="#222">10<tspan font-size="5.00" dx="0.3" dy="-2.39">0</tspan></text>
<text transform="translate(57.35 375.10) scale(0.9 1)" font-size="8.2" text-anchor="middle" font-weight="normal" fill="#222">10<tspan font-size="5.00" dx="0.3" dy="-2.39">1</tspan></text>
<text transform="translate(80.80 375.10) scale(0.9 1)" font-size="8.2" text-anchor="middle" font-weight="normal" fill="#222">10<tspan font-size="5.00" dx="0.3" dy="-2.39">2</tspan></text>
<text transform="translate(104.25 375.10) scale(0.9 1)" font-size="8.2" text-anchor="middle" font-weight="normal" fill="#222">10<tspan font-size="5.00" dx="0.3" dy="-2.39">3</tspan></text>
<text transform="translate(127.70 375.10) scale(0.9 1)" font-size="8.2" text-anchor="middle" font-weight="normal" fill="#222">10<tspan font-size="5.00" dx="0.3" dy="-2.39">4</tspan></text>
<text transform="translate(155.60 375.10) scale(0.9 1)" font-size="8.2" text-anchor="middle" font-weight="normal" fill="#222">10<tspan font-size="5.00" dx="0.3" dy="-2.39">0</tspan></text>
<text transform="translate(179.20 375.10) scale(0.9 1)" font-size="8.2" text-anchor="middle" font-weight="normal" fill="#222">10<tspan font-size="5.00" dx="0.3" dy="-2.39">1</tspan></text>
<text transform="translate(202.80 375.10) scale(0.9 1)" font-size="8.2" text-anchor="middle" font-weight="normal" fill="#222">10<tspan font-size="5.00" dx="0.3" dy="-2.39">2</tspan></text>
<text transform="translate(226.40 375.10) scale(0.9 1)" font-size="8.2" text-anchor="middle" font-weight="normal" fill="#222">10<tspan font-size="5.00" dx="0.3" dy="-2.39">3</tspan></text>
<text transform="translate(250.00 375.10) scale(0.9 1)" font-size="8.2" text-anchor="middle" font-weight="normal" fill="#222">10<tspan font-size="5.00" dx="0.3" dy="-2.39">4</tspan></text>
<line x1="33.00" y1="381.90" x2="258.00" y2="381.90" stroke="#000" stroke-width="1"/>
<path d="M262 381.9 L257 380.1 L257 383.7 Z" fill="#000"/>
<text x="149.3" y="394.4" font-size="10.3" text-anchor="middle" font-weight="normal" fill="#111">NKG2D</text>
<clipPath id="c292_206"><rect x="292.2" y="206.1" width="99.60000000000002" height="73.79999999999998"/></clipPath>
<g clip-path="url(#c292_206)">
<path d="M292.20 279.90V279.90H293.00V279.77H293.80V279.39H294.60V279.90H295.40V279.70H296.20V279.76H297.00V279.90H297.80V279.88H298.60V279.90H299.40V279.70H300.20V279.59H301.00V279.90H301.80V279.62H302.60V279.79H303.40V279.67H304.20V279.90H305.00V279.64H305.80V279.56H306.60V279.85H307.40V279.72H308.20V279.65H309.00V279.81H309.80V279.57H310.60V279.84H311.40V279.42H312.20V279.90H313.00V279.57H313.80V279.74H314.60V279.45H315.40V279.64H316.20V279.51H317.00V279.37H317.80V279.90H318.60V279.42H319.40V279.38H320.20V279.36H321.00V279.87H321.80V278.96H322.60V279.32H323.40V279.07H324.20V278.55H325.00V278.92H325.80V277.44H326.60V278.02H327.40V277.88H328.20V276.60H329.00V277.45H329.80V276.46H330.60V276.93H331.40V276.39H332.20V273.86H333.00V274.33H333.80V272.70H334.60V272.30H335.40V271.51H336.20V267.48H337.00V268.00H337.80V265.90H338.60V262.58H339.40V262.37H340.20V254.51H341.00V255.50H341.80V251.98H342.60V251.68H343.40V245.86H344.20V247.34H345.00V244.75H345.80V238.70H346.60V237.72H347.40V241.05H348.20V233.36H349.00V233.15H349.80V218.53H350.60V215.88H351.40V227.02H352.20V231.69H353.00V240.01H353.80V238.39H354.60V252.60H355.40V249.71H356.20V257.00H357.00V260.96H357.80V265.94H358.60V269.05H359.40V271.31H360.20V274.78H361.00V274.57H361.80V277.61H362.60V278.63H363.40V278.85H364.20V279.19H365.00V279.90H365.80V279.56H366.60V279.59H367.40V279.90H368.20V279.71H369.00V279.90H369.80V279.90H370.60V279.88H371.40V279.90H372.20V279.61H373.00V279.90H373.80V279.90H374.60V279.90H375.40V279.56H376.20V279.83H377.00V279.90H377.80V279.76H378.60V279.90H379.40V279.90H380.20V279.77H381.00V279.90H381.80V279.54H382.60V279.64H383.40V279.90H384.20V279.82H385.00V279.88H385.80V279.87H386.60V279.90H387.40V279.90H388.20V279.82H389.00V279.73H389.80V279.90H390.60V279.75H391.40V279.90H392.20V279.90Z" fill="#d2d2d2" stroke="#555" stroke-width="0.8" stroke-linejoin="miter"/>
<path d="M292.20 279.90V278.49H292.80V277.92H293.40V276.05H294.00V275.51H294.60V274.99H295.20V275.36H295.80V272.77H296.40V273.53H297.00V273.14H297.60V272.72H298.20V271.20H298.80V270.62H299.40V268.25H300.00V266.09H300.60V261.26H301.20V261.08H301.80V252.00H302.40V254.10H303.00V257.35H303.60V248.89H304.20V246.47H304.80V246.18H305.40V239.86H306.00V254.32H306.60V236.58H307.20V247.19H307.80V241.46H308.40V225.07H309.00V234.46H309.60V235.42H310.20V234.51H310.80V237.82H311.40V224.77H312.00V227.39H312.60V233.26H313.20V229.31H313.80V246.21H314.40V242.09H315.00V244.39H315.60V239.62H316.20V251.31H316.80V257.64H317.40V258.55H318.00V264.91H318.60V267.37H319.20V266.21H319.80V268.04H320.40V269.35H321.00V267.75H321.60V271.23H322.20V274.03H322.80V274.76H323.40V274.39H324.00V274.21H324.60V277.51H325.20V275.88H325.80V276.77H326.40V277.58H327.00V277.25H327.60V277.67H328.20V277.93H328.80V277.89H329.40V278.86H330.00V279.36H330.60V278.49H331.20V278.63H331.80V279.19H332.40V279.38H333.00V279.90H333.60V278.30H334.20V279.90H334.80V279.90H335.40V279.23H336.00V279.03H336.60V278.93H337.20V279.90H337.80V279.75H338.40V279.22H339.00V279.04H339.60V279.66H340.20V278.39H340.80V279.42H341.40V279.05H342.00V278.31H342.60V278.44H343.20V279.45H343.80V279.38H344.40V279.25H345.00V279.16H345.60V279.29H346.20V279.50H346.80V279.90H347.40V279.43H348.00V279.59H348.60V279.14H349.20V279.72H349.80V279.90H350.40V279.00H351.00V278.67H351.60V278.89H352.20V278.97H352.80V279.17H353.40V279.42H354.00V279.38H354.60V278.82H355.20V278.97H355.80V279.13H356.40V279.24H357.00V279.79H357.60V279.90H358.20V278.36H358.80V278.82H359.40V279.79H360.00V279.90H360.60V279.54H361.20V279.61H361.80V279.90H362.40V279.08H363.00V279.08H363.60V279.31H364.20V279.88H364.80V279.18H365.40V279.83H366.00V279.03H366.60V279.87H367.20V279.86H367.80V279.47H368.40V279.36H369.00V279.57H369.60V279.27H370.20V279.86H370.80V279.83H371.40V279.71H372.00V279.55H372.60V279.58H373.20V279.57H373.80V279.67H374.40V279.73H375.00V279.64H375.60V279.76H376.20V279.62H376.80V279.67H377.40V279.69H378.00V279.90H378.60V279.74H379.20V279.62H379.80V279.83H380.40V279.50H381.00V279.60H381.60V279.90H382.20V279.69H382.80V279.90H383.40V279.90H384.00V279.47H384.60V279.82H385.20V279.69H385.80V279.84H386.40V279.88H387.00V279.90H387.60V279.90H388.20V279.90H388.80V279.90H389.40V279.74H390.00V279.90H390.60V279.90H391.20V279.90H391.80V279.69H392.40V279.90" fill="none" stroke="#707070" stroke-width="0.9"/>
<path d="M292.20 279.90V276.73H292.80V277.76H293.40V276.89H294.00V277.84H294.60V277.40H295.20V277.13H295.80V278.52H296.40V276.47H297.00V275.13H297.60V275.38H298.20V275.16H298.80V274.91H299.40V274.46H300.00V273.80H300.60V274.44H301.20V271.51H301.80V270.93H302.40V270.82H303.00V264.22H303.60V267.44H304.20V266.49H304.80V263.43H305.40V266.09H306.00V262.72H306.60V258.26H307.20V251.93H307.80V254.64H308.40V259.13H309.00V254.92H309.60V251.96H310.20V256.10H310.80V252.01H311.40V253.41H312.00V249.88H312.60V249.26H313.20V250.29H313.80V249.31H314.40V247.97H315.00V245.36H315.60V255.78H316.20V253.53H316.80V253.74H317.40V260.15H318.00V260.49H318.60V262.44H319.20V262.19H319.80V258.98H320.40V261.65H321.00V266.17H321.60V264.75H322.20V269.42H322.80V268.65H323.40V268.06H324.00V265.32H324.60V265.13H325.20V270.28H325.80V269.49H326.40V271.24H327.00V269.61H327.60V269.83H328.20V272.63H328.80V270.94H329.40V272.02H330.00V273.85H330.60V270.14H331.20V274.51H331.80V272.82H332.40V272.30H333.00V271.57H333.60V274.45H334.20V275.71H334.80V272.70H335.40V274.35H336.00V275.84H336.60V273.77H337.20V276.47H337.80V276.39H338.40V276.80H339.00V277.33H339.60V277.74H340.20V277.99H340.80V276.85H341.40V278.14H342.00V276.94H342.60V277.32H343.20V279.08H343.80V278.33H344.40V278.66H345.00V277.77H345.60V278.18H346.20V278.66H346.80V279.23H347.40V278.09H348.00V279.90H348.60V279.66H349.20V278.50H349.80V279.90H350.40V279.66H351.00V279.64H351.60V279.90H352.20V279.90H352.80V279.83H353.40V279.90H354.00V279.63H354.60V279.90H355.20V279.90H355.80V279.90H356.40V279.82H357.00V279.71H357.60V279.90H358.20V279.82H358.80V279.90H359.40V279.90H360.00V279.90H360.60V279.54H361.20V279.80H361.80V279.90H362.40V279.89H363.00V279.61H363.60V279.90H364.20V279.90H364.80V279.90H365.40V279.90H366.00V279.90H366.60V279.90H367.20V279.78H367.80V279.90H368.40V279.54H369.00V279.82H369.60V279.90H370.20V279.90H370.80V279.64H371.40V279.83H372.00V279.83H372.60V279.67H373.20V279.90H373.80V279.74H374.40V279.72H375.00V279.76H375.60V279.90H376.20V279.90H376.80V279.90H377.40V279.90H378.00V279.63H378.60V279.68H379.20V279.71H379.80V279.90H380.40V279.90H381.00V279.90H381.60V279.82H382.20V279.90H382.80V279.70H383.40V279.90H384.00V279.89H384.60V279.90H385.20V279.90H385.80V279.90H386.40V279.88H387.00V279.77H387.60V279.59H388.20V279.85H388.80V279.90H389.40V279.90H390.00V279.90H390.60V279.86H391.20V279.79H391.80V279.90H392.40V279.90" fill="none" stroke="#000" stroke-width="1.4"/>
</g>
<path d="M291.80 279.90h-2.4M291.80 278.10h-1.4M291.80 276.29h-1.4M291.80 274.49h-1.4M291.80 272.68h-1.4M291.80 270.88h-1.4M291.80 269.07h-1.4M291.80 267.27h-1.4M291.80 265.46h-1.4M291.80 263.66h-1.4M291.80 261.86h-2.4M291.80 260.05h-1.4M291.80 258.25h-1.4M291.80 256.44h-1.4M291.80 254.64h-1.4M291.80 252.83h-1.4M291.80 251.03h-1.4M291.80 249.23h-1.4M291.80 247.42h-1.4M291.80 245.62h-1.4M291.80 243.81h-2.4M291.80 242.01h-1.4M291.80 240.20h-1.4M291.80 238.40h-1.4M291.80 236.59h-1.4M291.80 234.79h-1.4M291.80 232.99h-1.4M291.80 231.18h-1.4M291.80 229.38h-1.4M291.80 227.57h-1.4M291.80 225.77h-2.4M291.80 223.96h-1.4M291.80 222.16h-1.4M291.80 220.35h-1.4M291.80 218.55h-1.4M291.80 216.75h-1.4M291.80 214.94h-1.4M291.80 213.14h-1.4M291.80 211.33h-1.4M291.80 209.53h-1.4M291.80 207.72h-2.4" stroke="#000" stroke-width="0.9" fill="none"/>
<path d="M292.20 280.30v2.8M299.70 280.30v1.8M304.08 280.30v1.8M307.19 280.30v1.8M309.60 280.30v1.8M311.58 280.30v1.8M313.24 280.30v1.8M314.69 280.30v1.8M315.96 280.30v1.8M317.10 280.30v2.8M324.60 280.30v1.8M328.98 280.30v1.8M332.09 280.30v1.8M334.50 280.30v1.8M336.48 280.30v1.8M338.14 280.30v1.8M339.59 280.30v1.8M340.86 280.30v1.8M342.00 280.30v2.8M349.50 280.30v1.8M353.88 280.30v1.8M356.99 280.30v1.8M359.40 280.30v1.8M361.38 280.30v1.8M363.04 280.30v1.8M364.49 280.30v1.8M365.76 280.30v1.8M366.90 280.30v2.8M374.40 280.30v1.8M378.78 280.30v1.8M381.89 280.30v1.8M384.30 280.30v1.8M386.28 280.30v1.8M387.94 280.30v1.8M389.39 280.30v1.8M390.66 280.30v1.8M391.80 280.30v2.8" stroke="#000" stroke-width="0.9" fill="none"/>
<rect x="292.20" y="206.10" width="99.60" height="73.80" fill="none" stroke="#000" stroke-width="1.3"/>
<text transform="translate(288.00 284.60) scale(0.88 1)" font-size="8.5" text-anchor="end" font-weight="normal" fill="#222">0</text>
<text transform="translate(288.00 266.56) scale(0.88 1)" font-size="8.5" text-anchor="end" font-weight="normal" fill="#222">10</text>
<text transform="translate(288.00 248.51) scale(0.88 1)" font-size="8.5" text-anchor="end" font-weight="normal" fill="#222">20</text>
<text transform="translate(288.00 230.47) scale(0.88 1)" font-size="8.5" text-anchor="end" font-weight="normal" fill="#222">30</text>
<text transform="translate(288.00 212.42) scale(0.88 1)" font-size="8.5" text-anchor="end" font-weight="normal" fill="#222">40</text>
<text x="350.1" y="202.5" font-size="10.6" text-anchor="middle" font-weight="normal" fill="#111">CD56<tspan font-size="6.2" dy="-2.9">+</tspan><tspan dy="2.9">CD3</tspan><tspan font-size="6.5" dy="-3.2">-</tspan></text>
<text x="276.0" y="236.5" font-size="10" text-anchor="middle" font-weight="normal" fill="#111" transform="rotate(-90 276 236.5)">Donor 3</text>
<clipPath id="c416_205"><rect x="416.6" y="205.5" width="98.79999999999995" height="74.39999999999998"/></clipPath>
<g clip-path="url(#c416_205)">
<path d="M416.60 279.90V258.86H417.40V255.62H418.20V252.60H419.00V252.06H419.80V250.44H420.60V247.51H421.40V241.07H422.20V240.81H423.00V232.87H423.80V239.42H424.60V236.58H425.40V231.13H426.20V232.63H427.00V230.03H427.80V231.78H428.60V239.26H429.40V238.30H430.20V245.58H431.00V241.54H431.80V249.36H432.60V252.36H433.40V258.23H434.20V259.45H435.00V263.12H435.80V268.23H436.60V271.21H437.40V270.82H438.20V271.39H439.00V275.65H439.80V274.22H440.60V275.99H441.40V277.01H442.20V275.67H443.00V276.78H443.80V276.20H444.60V274.93H445.40V275.83H446.20V274.69H447.00V274.43H447.80V273.81H448.60V273.96H449.40V271.13H450.20V269.69H451.00V268.18H451.80V267.34H452.60V262.90H453.40V258.90H454.20V258.39H455.00V260.01H455.80V257.54H456.60V250.76H457.40V252.49H458.20V245.67H459.00V248.70H459.80V243.82H460.60V248.47H461.40V248.30H462.20V252.86H463.00V252.44H463.80V255.78H464.60V259.70H465.40V260.76H466.20V259.79H467.00V262.74H467.80V262.00H468.60V264.91H469.40V267.88H470.20V264.79H471.00V268.89H471.80V270.76H472.60V271.69H473.40V272.23H474.20V271.65H475.00V272.69H475.80V272.22H476.60V273.78H477.40V275.35H478.20V276.12H479.00V276.86H479.80V276.78H480.60V275.89H481.40V278.33H482.20V278.13H483.00V278.09H483.80V278.74H484.60V278.73H485.40V278.88H486.20V278.92H487.00V278.90H487.80V279.90H488.60V279.90H489.40V279.58H490.20V279.75H491.00V279.05H491.80V279.90H492.60V279.36H493.40V279.58H494.20V279.67H495.00V279.90H495.80V279.90H496.60V279.78H497.40V279.63H498.20V279.90H499.00V279.74H499.80V279.90H500.60V279.69H501.40V279.90H502.20V279.68H503.00V279.90H503.80V279.75H504.60V279.90H505.40V279.90H506.20V279.68H507.00V279.90H507.80V279.90H508.60V279.90H509.40V279.84H510.20V279.80H511.00V279.79H511.80V279.89H512.60V279.82H513.40V279.80H514.20V279.90H515.00V279.78H515.80V279.90Z" fill="#d2d2d2" stroke="#555" stroke-width="0.8" stroke-linejoin="miter"/>
<path d="M416.60 279.90V257.75H417.20V250.57H417.80V258.82H418.40V254.03H419.00V254.94H419.60V245.98H420.20V249.35H420.80V241.25H421.40V250.01H422.00V240.27H422.60V242.05H423.20V227.48H423.80V224.37H424.40V226.90H425.00V234.60H425.60V232.09H426.20V227.40H426.80V234.72H427.40V228.72H428.00V234.76H428.60V236.74H429.20V235.55H429.80V244.17H430.40V231.26H431.00V241.44H431.60V247.52H432.20V242.11H432.80V255.05H433.40V254.08H434.00V262.94H434.60V261.93H435.20V265.39H435.80V264.83H436.40V268.20H437.00V270.85H437.60V271.77H438.20V271.86H438.80V273.84H439.40V273.80H440.00V274.87H440.60V275.29H441.20V276.34H441.80V275.92H442.40V276.34H443.00V275.35H443.60V276.36H444.20V276.45H444.80V275.56H445.40V274.81H446.00V274.93H446.60V273.97H447.20V273.34H447.80V272.88H448.40V272.62H449.00V272.25H449.60V270.73H450.20V268.85H450.80V268.65H451.40V266.99H452.00V265.53H452.60V262.77H453.20V262.65H453.80V261.26H454.40V258.65H455.00V256.79H455.60V256.99H456.20V255.98H456.80V253.21H457.40V253.90H458.00V249.29H458.60V250.52H459.20V253.28H459.80V248.62H460.40V247.71H461.00V251.47H461.60V250.87H462.20V243.77H462.80V249.33H463.40V252.61H464.00V247.31H464.60V254.14H465.20V254.98H465.80V255.89H466.40V257.53H467.00V260.14H467.60V259.95H468.20V261.98H468.80V262.61H469.40V266.42H470.00V265.21H470.60V269.53H471.20V267.35H471.80V270.10H472.40V269.53H473.00V270.74H473.60V271.29H474.20V270.53H474.80V271.50H475.40V273.60H476.00V274.70H476.60V274.31H477.20V274.06H477.80V274.48H478.40V276.17H479.00V276.21H479.60V277.35H480.20V276.89H480.80V277.28H481.40V277.61H482.00V278.18H482.60V277.85H483.20V279.06H483.80V278.51H484.40V278.59H485.00V279.49H485.60V278.37H486.20V278.65H486.80V279.90H487.40V279.54H488.00V279.30H488.60V279.78H489.20V278.55H489.80V279.90H490.40V279.32H491.00V279.90H491.60V279.13H492.20V279.41H492.80V279.90H493.40V279.80H494.00V279.84H494.60V279.90H495.20V279.53H495.80V279.90H496.40V279.90H497.00V279.88H497.60V279.90H498.20V279.86H498.80V279.90H499.40V279.90H500.00V279.64H500.60V279.72H501.20V279.50H501.80V279.75H502.40V279.83H503.00V279.90H503.60V279.90H504.20V279.76H504.80V279.90H505.40V279.85H506.00V279.43H506.60V279.90H507.20V279.90H507.80V279.90H508.40V279.90H509.00V279.90H509.60V279.90H510.20V279.80H510.80V279.90H511.40V279.90H512.00V279.90H512.60V279.70H513.20V279.65H513.80V279.90H514.40V279.84H515.00V279.75H515.60V279.90" fill="none" stroke="#666" stroke-width="0.9"/>
<path d="M416.60 279.90V258.81H417.20V258.28H417.80V260.17H418.40V253.96H419.00V253.63H419.60V250.82H420.20V252.74H420.80V246.33H421.40V242.42H422.00V245.50H422.60V235.49H423.20V243.47H423.80V235.08H424.40V232.87H425.00V238.18H425.60V234.79H426.20V236.98H426.80V234.49H427.40V230.49H428.00V236.08H428.60V230.50H429.20V238.09H429.80V240.60H430.40V239.84H431.00V243.59H431.60V249.52H432.20V246.15H432.80V255.45H433.40V258.96H434.00V262.30H434.60V261.48H435.20V264.10H435.80V266.94H436.40V271.22H437.00V270.80H437.60V272.49H438.20V273.26H438.80V274.94H439.40V274.32H440.00V274.38H440.60V276.13H441.20V276.02H441.80V277.05H442.40V275.99H443.00V277.66H443.60V276.56H444.20V276.74H444.80V276.72H445.40V275.57H446.00V274.48H446.60V275.05H447.20V274.17H447.80V273.65H448.40V273.01H449.00V273.57H449.60V272.34H450.20V268.78H450.80V267.94H451.40V267.54H452.00V265.49H452.60V262.66H453.20V261.33H453.80V264.79H454.40V261.92H455.00V258.20H455.60V255.62H456.20V257.77H456.80V254.71H457.40V253.09H458.00V253.82H458.60V254.86H459.20V248.63H459.80V251.77H460.40V249.23H461.00V252.57H461.60V255.58H462.20V255.78H462.80V254.10H463.40V259.16H464.00V256.39H464.60V260.35H465.20V259.40H465.80V258.35H466.40V259.48H467.00V260.58H467.60V262.50H468.20V263.84H468.80V264.20H469.40V266.36H470.00V269.75H470.60V268.53H471.20V269.70H471.80V270.42H472.40V271.11H473.00V272.53H473.60V272.17H474.20V272.68H474.80V273.62H475.40V272.74H476.00V274.92H476.60V273.87H477.20V275.23H477.80V276.34H478.40V276.53H479.00V276.00H479.60V278.20H480.20V277.64H480.80V277.00H481.40V277.77H482.00V278.20H482.60V278.20H483.20V278.75H483.80V278.57H484.40V279.11H485.00V279.59H485.60V279.15H486.20V279.31H486.80V279.25H487.40V279.16H488.00V279.90H488.60V278.48H489.20V279.90H489.80V279.59H490.40V279.35H491.00V279.81H491.60V279.90H492.20V279.68H492.80V279.90H493.40V279.56H494.00V279.85H494.60V279.88H495.20V279.90H495.80V279.78H496.40V279.88H497.00V279.82H497.60V279.87H498.20V279.90H498.80V279.67H499.40V279.87H500.00V279.90H500.60V279.90H501.20V279.90H501.80V279.90H502.40V279.90H503.00V279.84H503.60V279.74H504.20V279.90H504.80V279.90H505.40V279.80H506.00V279.85H506.60V279.85H507.20V279.90H507.80V279.90H508.40V279.90H509.00V279.90H509.60V279.90H510.20V279.76H510.80V279.90H511.40V279.90H512.00V279.90H512.60V279.90H513.20V279.69H513.80V279.90H514.40V279.73H515.00V279.90H515.60V279.90" fill="none" stroke="#000" stroke-width="1.5"/>
</g>
<path d="M416.20 279.90h-2.4M416.20 278.07h-1.4M416.20 276.24h-1.4M416.20 274.42h-1.4M416.20 272.59h-1.4M416.20 270.76h-2.4M416.20 268.93h-1.4M416.20 267.10h-1.4M416.20 265.28h-1.4M416.20 263.45h-1.4M416.20 261.62h-2.4M416.20 259.79h-1.4M416.20 257.96h-1.4M416.20 256.14h-1.4M416.20 254.31h-1.4M416.20 252.48h-2.4M416.20 250.65h-1.4M416.20 248.82h-1.4M416.20 247.00h-1.4M416.20 245.17h-1.4M416.20 243.34h-2.4M416.20 241.51h-1.4M416.20 239.68h-1.4M416.20 237.86h-1.4M416.20 236.03h-1.4M416.20 234.20h-2.4M416.20 232.37h-1.4M416.20 230.54h-1.4M416.20 228.72h-1.4M416.20 226.89h-1.4M416.20 225.06h-2.4M416.20 223.23h-1.4M416.20 221.40h-1.4M416.20 219.58h-1.4M416.20 217.75h-1.4M416.20 215.92h-2.4M416.20 214.09h-1.4M416.20 212.26h-1.4M416.20 210.44h-1.4M416.20 208.61h-1.4M416.20 206.78h-2.4" stroke="#000" stroke-width="0.9" fill="none"/>
<path d="M416.60 280.30v2.8M424.04 280.30v1.8M428.38 280.30v1.8M431.47 280.30v1.8M433.86 280.30v1.8M435.82 280.30v1.8M437.47 280.30v1.8M438.91 280.30v1.8M440.17 280.30v1.8M441.30 280.30v2.8M448.74 280.30v1.8M453.08 280.30v1.8M456.17 280.30v1.8M458.56 280.30v1.8M460.52 280.30v1.8M462.17 280.30v1.8M463.61 280.30v1.8M464.87 280.30v1.8M466.00 280.30v2.8M473.44 280.30v1.8M477.78 280.30v1.8M480.87 280.30v1.8M483.26 280.30v1.8M485.22 280.30v1.8M486.87 280.30v1.8M488.31 280.30v1.8M489.57 280.30v1.8M490.70 280.30v2.8M498.14 280.30v1.8M502.48 280.30v1.8M505.57 280.30v1.8M507.96 280.30v1.8M509.92 280.30v1.8M511.57 280.30v1.8M513.01 280.30v1.8M514.27 280.30v1.8M515.40 280.30v2.8" stroke="#000" stroke-width="0.9" fill="none"/>
<rect x="416.60" y="205.50" width="98.80" height="74.40" fill="none" stroke="#000" stroke-width="1.3"/>
<text transform="translate(412.40 284.60) scale(0.88 1)" font-size="8.5" text-anchor="end" font-weight="normal" fill="#222">0</text>
<text transform="translate(412.40 275.46) scale(0.88 1)" font-size="8.5" text-anchor="end" font-weight="normal" fill="#222">10</text>
<text transform="translate(412.40 266.32) scale(0.88 1)" font-size="8.5" text-anchor="end" font-weight="normal" fill="#222">20</text>
<text transform="translate(412.40 257.18) scale(0.88 1)" font-size="8.5" text-anchor="end" font-weight="normal" fill="#222">30</text>
<text transform="translate(412.40 248.04) scale(0.88 1)" font-size="8.5" text-anchor="end" font-weight="normal" fill="#222">40</text>
<text transform="translate(412.40 238.90) scale(0.88 1)" font-size="8.5" text-anchor="end" font-weight="normal" fill="#222">50</text>
<text transform="translate(412.40 229.76) scale(0.88 1)" font-size="8.5" text-anchor="end" font-weight="normal" fill="#222">60</text>
<text transform="translate(412.40 220.62) scale(0.88 1)" font-size="8.5" text-anchor="end" font-weight="normal" fill="#222">70</text>
<text transform="translate(412.40 211.48) scale(0.88 1)" font-size="8.5" text-anchor="end" font-weight="normal" fill="#222">80</text>
<text x="466.5" y="202.4" font-size="10.6" text-anchor="middle" font-weight="normal" fill="#111">CD3<tspan font-size="6.2" dy="-3.4">+</tspan></text>
<line x1="441.80" y1="222.30" x2="499.90" y2="222.30" stroke="#000" stroke-width="1.3"/>
<line x1="441.80" y1="219.00" x2="441.80" y2="225.60" stroke="#000" stroke-width="1.3"/>
<line x1="499.90" y1="219.00" x2="499.90" y2="225.60" stroke="#000" stroke-width="1.3"/>
<text x="471.0" y="231.3" font-size="8.6" text-anchor="start" font-weight="normal" fill="#222">M1</text>
<clipPath id="c292_288"><rect x="292.6" y="288.7" width="99.19999999999999" height="72.30000000000001"/></clipPath>
<g clip-path="url(#c292_288)">
<path d="M292.60 361.00V360.82H293.40V360.85H294.20V360.92H295.00V361.00H295.80V360.84H296.60V361.00H297.40V361.00H298.20V361.00H299.00V360.72H299.80V360.89H300.60V360.90H301.40V360.98H302.20V360.59H303.00V360.84H303.80V361.00H304.60V360.95H305.40V360.79H306.20V360.80H307.00V360.78H307.80V360.70H308.60V360.55H309.40V360.60H310.20V360.80H311.00V360.60H311.80V360.80H312.60V360.75H313.40V361.00H314.20V360.56H315.00V359.74H315.80V360.22H316.60V360.26H317.40V359.75H318.20V360.43H319.00V360.79H319.80V359.60H320.60V359.31H321.40V359.68H322.20V358.89H323.00V357.25H323.80V357.60H324.60V356.72H325.40V357.86H326.20V356.27H327.00V356.44H327.80V353.16H328.60V353.13H329.40V349.95H330.20V348.20H331.00V346.54H331.80V344.25H332.60V341.31H333.40V334.07H334.20V338.25H335.00V329.23H335.80V322.06H336.60V320.70H337.40V309.89H338.20V306.81H339.00V300.37H339.80V304.48H340.60V290.17H341.40V287.42H342.20V289.09H343.00V290.41H343.80V307.05H344.60V300.90H345.40V296.99H346.20V311.34H347.00V314.62H347.80V319.97H348.60V325.86H349.40V327.67H350.20V331.13H351.00V335.96H351.80V339.99H352.60V347.20H353.40V349.47H354.20V353.58H355.00V356.28H355.80V358.09H356.60V357.52H357.40V361.00H358.20V360.04H359.00V360.48H359.80V359.48H360.60V360.01H361.40V360.89H362.20V361.00H363.00V361.00H363.80V361.00H364.60V361.00H365.40V360.72H366.20V361.00H367.00V361.00H367.80V361.00H368.60V361.00H369.40V360.99H370.20V361.00H371.00V361.00H371.80V361.00H372.60V361.00H373.40V361.00H374.20V361.00H375.00V361.00H375.80V361.00H376.60V361.00H377.40V360.94H378.20V360.88H379.00V361.00H379.80V361.00H380.60V361.00H381.40V361.00H382.20V361.00H383.00V361.00H383.80V361.00H384.60V360.96H385.40V360.90H386.20V360.90H387.00V360.97H387.80V360.75H388.60V360.98H389.40V361.00H390.20V361.00H391.00V361.00H391.80V361.00Z" fill="#d2d2d2" stroke="#555" stroke-width="0.8" stroke-linejoin="miter"/>
<path d="M292.60 361.00V359.01H293.20V358.63H293.80V358.63H294.40V358.51H295.00V356.10H295.60V356.93H296.20V356.88H296.80V357.54H297.40V356.15H298.00V356.54H298.60V354.97H299.20V355.82H299.80V351.41H300.40V350.14H301.00V351.54H301.60V348.23H302.20V345.14H302.80V343.35H303.40V343.65H304.00V340.88H304.60V339.06H305.20V336.60H305.80V336.59H306.40V328.98H307.00V327.05H307.60V326.80H308.20V320.51H308.80V322.48H309.40V317.23H310.00V318.19H310.60V321.61H311.20V310.96H311.80V313.02H312.40V312.09H313.00V301.00H313.60V308.22H314.20V306.76H314.80V303.42H315.40V304.13H316.00V302.05H316.60V302.20H317.20V305.85H317.80V310.30H318.40V315.31H319.00V310.17H319.60V309.26H320.20V321.92H320.80V311.69H321.40V328.32H322.00V328.96H322.60V324.04H323.20V330.25H323.80V333.43H324.40V337.97H325.00V344.23H325.60V338.29H326.20V345.26H326.80V351.09H327.40V349.63H328.00V352.48H328.60V354.51H329.20V353.12H329.80V355.76H330.40V354.67H331.00V357.63H331.60V358.67H332.20V358.58H332.80V358.81H333.40V359.46H334.00V359.88H334.60V358.75H335.20V359.29H335.80V360.19H336.40V359.29H337.00V360.79H337.60V361.00H338.20V358.88H338.80V360.25H339.40V360.91H340.00V360.23H340.60V359.98H341.20V360.13H341.80V361.00H342.40V360.29H343.00V360.58H343.60V359.76H344.20V360.51H344.80V360.86H345.40V360.41H346.00V360.98H346.60V360.95H347.20V361.00H347.80V360.64H348.40V360.79H349.00V361.00H349.60V360.87H350.20V360.79H350.80V360.59H351.40V361.00H352.00V361.00H352.60V359.99H353.20V360.87H353.80V360.55H354.40V360.70H355.00V361.00H355.60V361.00H356.20V360.47H356.80V361.00H357.40V360.83H358.00V361.00H358.60V360.14H359.20V360.49H359.80V360.87H360.40V360.82H361.00V360.90H361.60V361.00H362.20V360.92H362.80V360.76H363.40V360.72H364.00V360.83H364.60V360.67H365.20V360.88H365.80V360.56H366.40V360.99H367.00V360.62H367.60V360.68H368.20V361.00H368.80V360.87H369.40V361.00H370.00V360.96H370.60V361.00H371.20V360.83H371.80V360.69H372.40V360.80H373.00V360.51H373.60V361.00H374.20V361.00H374.80V360.75H375.40V360.69H376.00V360.99H376.60V360.82H377.20V360.99H377.80V361.00H378.40V361.00H379.00V361.00H379.60V360.95H380.20V360.80H380.80V360.91H381.40V361.00H382.00V361.00H382.60V360.76H383.20V361.00H383.80V360.88H384.40V360.89H385.00V360.91H385.60V360.82H386.20V361.00H386.80V360.89H387.40V361.00H388.00V360.83H388.60V361.00H389.20V361.00H389.80V360.91H390.40V360.79H391.00V361.00H391.60V361.00H392.20V361.00" fill="none" stroke="#707070" stroke-width="0.9"/>
<path d="M292.60 361.00V360.25H293.20V360.18H293.80V358.65H294.40V358.06H295.00V359.06H295.60V357.03H296.20V357.57H296.80V356.92H297.40V356.48H298.00V355.16H298.60V355.53H299.20V355.46H299.80V354.69H300.40V353.44H301.00V352.47H301.60V350.83H302.20V350.77H302.80V350.99H303.40V351.56H304.00V347.22H304.60V348.70H305.20V347.44H305.80V345.75H306.40V343.41H307.00V345.24H307.60V343.58H308.20V342.23H308.80V345.16H309.40V343.45H310.00V342.45H310.60V338.76H311.20V342.42H311.80V334.94H312.40V336.06H313.00V338.03H313.60V338.23H314.20V338.15H314.80V337.18H315.40V338.94H316.00V334.26H316.60V330.58H317.20V334.59H317.80V335.75H318.40V337.55H319.00V330.26H319.60V336.05H320.20V335.36H320.80V336.43H321.40V336.89H322.00V334.00H322.60V340.18H323.20V333.90H323.80V336.46H324.40V329.48H325.00V334.02H325.60V332.91H326.20V332.92H326.80V335.02H327.40V327.39H328.00V333.65H328.60V331.41H329.20V331.15H329.80V328.87H330.40V326.64H331.00V333.15H331.60V333.09H332.20V334.20H332.80V332.37H333.40V337.10H334.00V336.65H334.60V334.33H335.20V332.83H335.80V339.08H336.40V339.49H337.00V342.80H337.60V335.55H338.20V337.87H338.80V342.40H339.40V344.34H340.00V340.05H340.60V340.17H341.20V345.63H341.80V342.76H342.40V345.35H343.00V346.75H343.60V350.37H344.20V349.94H344.80V352.29H345.40V352.56H346.00V351.26H346.60V354.64H347.20V354.79H347.80V355.03H348.40V355.61H349.00V356.81H349.60V358.33H350.20V358.56H350.80V358.19H351.40V358.08H352.00V359.60H352.60V359.45H353.20V359.94H353.80V360.50H354.40V360.48H355.00V360.89H355.60V360.19H356.20V360.62H356.80V360.50H357.40V360.89H358.00V360.98H358.60V361.00H359.20V361.00H359.80V360.88H360.40V360.89H361.00V360.94H361.60V361.00H362.20V361.00H362.80V360.99H363.40V360.83H364.00V361.00H364.60V361.00H365.20V361.00H365.80V361.00H366.40V360.76H367.00V360.83H367.60V361.00H368.20V361.00H368.80V361.00H369.40V360.76H370.00V360.72H370.60V360.90H371.20V361.00H371.80V360.65H372.40V360.89H373.00V360.78H373.60V360.94H374.20V361.00H374.80V361.00H375.40V360.81H376.00V361.00H376.60V361.00H377.20V361.00H377.80V360.71H378.40V360.90H379.00V361.00H379.60V360.88H380.20V360.67H380.80V361.00H381.40V361.00H382.00V361.00H382.60V361.00H383.20V360.89H383.80V360.91H384.40V360.97H385.00V361.00H385.60V360.86H386.20V361.00H386.80V361.00H387.40V361.00H388.00V360.94H388.60V361.00H389.20V361.00H389.80V360.88H390.40V360.99H391.00V361.00H391.60V360.88H392.20V361.00" fill="none" stroke="#000" stroke-width="1.4"/>
</g>
<path d="M292.20 361.00h-2.4M292.20 358.15h-1.4M292.20 355.31h-1.4M292.20 352.46h-1.4M292.20 349.61h-1.4M292.20 346.77h-2.4M292.20 343.92h-1.4M292.20 341.07h-1.4M292.20 338.23h-1.4M292.20 335.38h-1.4M292.20 332.54h-2.4M292.20 329.69h-1.4M292.20 326.84h-1.4M292.20 324.00h-1.4M292.20 321.15h-1.4M292.20 318.30h-2.4M292.20 315.46h-1.4M292.20 312.61h-1.4M292.20 309.76h-1.4M292.20 306.92h-1.4M292.20 304.07h-2.4M292.20 301.22h-1.4M292.20 298.38h-1.4M292.20 295.53h-1.4M292.20 292.69h-1.4M292.20 289.84h-2.4" stroke="#000" stroke-width="0.9" fill="none"/>
<path d="M292.60 361.40v2.8M300.07 361.40v1.8M304.43 361.40v1.8M307.53 361.40v1.8M309.93 361.40v1.8M311.90 361.40v1.8M313.56 361.40v1.8M315.00 361.40v1.8M316.27 361.40v1.8M317.40 361.40v2.8M324.87 361.40v1.8M329.23 361.40v1.8M332.33 361.40v1.8M334.73 361.40v1.8M336.70 361.40v1.8M338.36 361.40v1.8M339.80 361.40v1.8M341.07 361.40v1.8M342.20 361.40v2.8M349.67 361.40v1.8M354.03 361.40v1.8M357.13 361.40v1.8M359.53 361.40v1.8M361.50 361.40v1.8M363.16 361.40v1.8M364.60 361.40v1.8M365.87 361.40v1.8M367.00 361.40v2.8M374.47 361.40v1.8M378.83 361.40v1.8M381.93 361.40v1.8M384.33 361.40v1.8M386.30 361.40v1.8M387.96 361.40v1.8M389.40 361.40v1.8M390.67 361.40v1.8M391.80 361.40v2.8" stroke="#000" stroke-width="0.9" fill="none"/>
<rect x="292.60" y="288.70" width="99.20" height="72.30" fill="none" stroke="#000" stroke-width="1.3"/>
<text transform="translate(288.40 365.70) scale(0.88 1)" font-size="8.5" text-anchor="end" font-weight="normal" fill="#222">0</text>
<text transform="translate(288.40 351.47) scale(0.88 1)" font-size="8.5" text-anchor="end" font-weight="normal" fill="#222">10</text>
<text transform="translate(288.40 337.24) scale(0.88 1)" font-size="8.5" text-anchor="end" font-weight="normal" fill="#222">20</text>
<text transform="translate(288.40 323.00) scale(0.88 1)" font-size="8.5" text-anchor="end" font-weight="normal" fill="#222">30</text>
<text transform="translate(288.40 308.77) scale(0.88 1)" font-size="8.5" text-anchor="end" font-weight="normal" fill="#222">40</text>
<text transform="translate(288.40 294.54) scale(0.88 1)" font-size="8.5" text-anchor="end" font-weight="normal" fill="#222">50</text>
<text x="276.0" y="323.2" font-size="10" text-anchor="middle" font-weight="normal" fill="#111" transform="rotate(-90 276 323.2)">Donor 4</text>
<clipPath id="c417_288"><rect x="417.2" y="288.4" width="98.40000000000003" height="72.80000000000001"/></clipPath>
<g clip-path="url(#c417_288)">
<path d="M417.20 361.20V338.02H418.00V329.15H418.80V320.65H419.60V318.46H420.40V300.88H421.20V288.48H422.00V286.40H422.80V286.40H423.60V286.40H424.40V286.40H425.20V286.40H426.00V286.40H426.80V286.40H427.60V286.40H428.40V286.40H429.20V286.40H430.00V286.40H430.80V286.40H431.60V286.40H432.40V286.40H433.20V286.40H434.00V286.40H434.80V286.40H435.60V286.40H436.40V286.40H437.20V296.20H438.00V329.45H438.80V336.08H439.60V345.92H440.40V348.75H441.20V350.49H442.00V351.49H442.80V351.96H443.60V353.63H444.40V352.74H445.20V351.69H446.00V350.83H446.80V349.46H447.60V348.26H448.40V347.86H449.20V344.52H450.00V343.41H450.80V341.64H451.60V340.16H452.40V335.98H453.20V333.52H454.00V330.39H454.80V332.04H455.60V326.50H456.40V325.49H457.20V324.87H458.00V322.56H458.80V324.12H459.60V325.74H460.40V328.52H461.20V328.94H462.00V333.23H462.80V330.77H463.60V333.12H464.40V335.59H465.20V338.92H466.00V340.76H466.80V344.89H467.60V345.26H468.40V346.26H469.20V349.30H470.00V350.17H470.80V350.24H471.60V351.79H472.40V352.98H473.20V353.48H474.00V354.94H474.80V354.38H475.60V354.56H476.40V355.19H477.20V354.52H478.00V355.11H478.80V354.93H479.60V356.51H480.40V356.61H481.20V356.68H482.00V356.91H482.80V357.67H483.60V358.43H484.40V357.70H485.20V358.61H486.00V359.34H486.80V358.83H487.60V360.30H488.40V359.04H489.20V359.36H490.00V359.51H490.80V359.09H491.60V359.60H492.40V360.40H493.20V360.43H494.00V360.13H494.80V361.16H495.60V360.22H496.40V360.76H497.20V361.20H498.00V360.41H498.80V361.20H499.60V360.86H500.40V361.14H501.20V360.83H502.00V360.98H502.80V361.20H503.60V361.13H504.40V361.11H505.20V361.19H506.00V361.20H506.80V361.20H507.60V361.04H508.40V361.20H509.20V360.93H510.00V361.13H510.80V360.95H511.60V361.10H512.40V361.20H513.20V361.20H514.00V360.90H514.80V361.07H515.60V361.17H516.40V361.20Z" fill="#d2d2d2" stroke="#555" stroke-width="0.8" stroke-linejoin="miter"/>
<path d="M417.20 361.20V336.03H417.80V330.59H418.40V328.26H419.00V321.73H419.60V312.96H420.20V313.48H420.80V297.98H421.40V298.06H422.00V286.40H422.60V286.40H423.20V286.40H423.80V286.40H424.40V286.40H425.00V286.40H425.60V286.40H426.20V286.40H426.80V286.40H427.40V286.40H428.00V286.40H428.60V286.40H429.20V286.40H429.80V286.40H430.40V286.40H431.00V286.40H431.60V286.40H432.20V286.40H432.80V286.40H433.40V286.40H434.00V286.40H434.60V286.40H435.20V286.40H435.80V286.40H436.40V286.55H437.00V286.40H437.60V308.91H438.20V328.94H438.80V338.12H439.40V343.97H440.00V347.59H440.60V349.00H441.20V351.54H441.80V351.37H442.40V351.59H443.00V353.67H443.60V353.30H444.20V352.48H444.80V352.45H445.40V352.64H446.00V351.13H446.60V348.77H447.20V349.91H447.80V350.01H448.40V348.13H449.00V345.69H449.60V344.39H450.20V342.07H450.80V344.27H451.40V340.91H452.00V337.14H452.60V336.18H453.20V334.11H453.80V334.95H454.40V332.18H455.00V330.94H455.60V329.47H456.20V326.04H456.80V329.06H457.40V327.87H458.00V325.61H458.60V322.72H459.20V323.89H459.80V323.17H460.40V325.47H461.00V328.50H461.60V328.63H462.20V327.20H462.80V330.31H463.40V332.75H464.00V334.58H464.60V336.61H465.20V336.69H465.80V339.67H466.40V341.78H467.00V341.93H467.60V344.03H468.20V346.47H468.80V346.10H469.40V347.40H470.00V347.58H470.60V350.57H471.20V351.02H471.80V350.63H472.40V349.83H473.00V351.83H473.60V351.49H474.20V351.94H474.80V353.58H475.40V352.39H476.00V352.42H476.60V351.92H477.20V353.04H477.80V353.07H478.40V351.63H479.00V353.71H479.60V354.01H480.20V354.48H480.80V354.98H481.40V354.56H482.00V355.47H482.60V356.41H483.20V357.82H483.80V356.33H484.40V357.78H485.00V358.37H485.60V358.46H486.20V358.24H486.80V358.17H487.40V359.23H488.00V358.85H488.60V359.00H489.20V359.46H489.80V359.71H490.40V359.61H491.00V360.23H491.60V359.23H492.20V360.26H492.80V360.90H493.40V359.74H494.00V361.20H494.60V360.90H495.20V360.40H495.80V360.81H496.40V360.22H497.00V361.14H497.60V361.20H498.20V361.20H498.80V360.78H499.40V361.13H500.00V361.20H500.60V361.04H501.20V361.07H501.80V361.20H502.40V361.20H503.00V361.11H503.60V361.20H504.20V361.00H504.80V361.09H505.40V360.91H506.00V361.18H506.60V361.20H507.20V361.20H507.80V360.74H508.40V361.15H509.00V361.20H509.60V361.20H510.20V361.20H510.80V360.97H511.40V361.13H512.00V361.08H512.60V361.20H513.20V361.20H513.80V361.20H514.40V361.17H515.00V360.90H515.60V361.20H516.20V361.20" fill="none" stroke="#666" stroke-width="0.9"/>
<path d="M417.20 361.20V339.38H417.80V332.42H418.40V329.71H419.00V322.92H419.60V313.40H420.20V312.09H420.80V300.62H421.40V287.64H422.00V286.40H422.60V286.40H423.20V286.40H423.80V286.40H424.40V286.40H425.00V286.40H425.60V286.40H426.20V286.40H426.80V286.40H427.40V286.40H428.00V286.40H428.60V286.40H429.20V286.40H429.80V286.40H430.40V286.40H431.00V286.40H431.60V286.40H432.20V286.40H432.80V286.40H433.40V286.40H434.00V286.40H434.60V286.40H435.20V286.40H435.80V286.40H436.40V286.40H437.00V297.23H437.60V309.04H438.20V331.36H438.80V339.06H439.40V341.16H440.00V346.61H440.60V350.40H441.20V351.59H441.80V351.61H442.40V352.19H443.00V354.16H443.60V352.20H444.20V352.99H444.80V351.14H445.40V351.04H446.00V351.15H446.60V350.45H447.20V351.14H447.80V349.34H448.40V347.30H449.00V344.65H449.60V344.76H450.20V344.82H450.80V341.28H451.40V340.38H452.00V340.06H452.60V339.31H453.20V336.80H453.80V334.91H454.40V330.03H455.00V331.23H455.60V329.99H456.20V327.39H456.80V326.92H457.40V325.38H458.00V327.97H458.60V325.56H459.20V325.48H459.80V326.27H460.40V326.95H461.00V330.59H461.60V332.32H462.20V329.60H462.80V329.91H463.40V333.86H464.00V336.68H464.60V341.02H465.20V339.53H465.80V342.64H466.40V343.08H467.00V345.70H467.60V346.64H468.20V346.17H468.80V347.79H469.40V349.05H470.00V350.43H470.60V352.54H471.20V352.34H471.80V352.94H472.40V353.87H473.00V355.40H473.60V355.57H474.20V355.65H474.80V355.91H475.40V356.09H476.00V357.33H476.60V356.73H477.20V357.62H477.80V357.27H478.40V357.03H479.00V358.13H479.60V358.12H480.20V357.59H480.80V358.36H481.40V358.29H482.00V358.88H482.60V359.02H483.20V359.59H483.80V359.50H484.40V360.51H485.00V359.88H485.60V360.64H486.20V359.86H486.80V359.86H487.40V361.20H488.00V360.33H488.60V360.25H489.20V360.44H489.80V360.36H490.40V360.93H491.00V360.49H491.60V360.64H492.20V360.27H492.80V360.53H493.40V360.58H494.00V360.84H494.60V361.20H495.20V361.07H495.80V360.63H496.40V360.52H497.00V360.25H497.60V360.99H498.20V361.20H498.80V361.20H499.40V361.20H500.00V361.14H500.60V361.11H501.20V361.08H501.80V361.20H502.40V361.04H503.00V361.15H503.60V361.15H504.20V361.10H504.80V361.16H505.40V361.20H506.00V361.20H506.60V361.20H507.20V361.20H507.80V361.20H508.40V361.20H509.00V361.19H509.60V360.87H510.20V361.07H510.80V361.20H511.40V361.05H512.00V361.20H512.60V361.20H513.20V361.10H513.80V361.05H514.40V361.20H515.00V361.20H515.60V361.09H516.20V361.20" fill="none" stroke="#000" stroke-width="1.5"/>
</g>
<path d="M416.80 361.20h-2.4M416.80 358.20h-1.4M416.80 355.20h-1.4M416.80 352.20h-1.4M416.80 349.20h-2.4M416.80 346.20h-1.4M416.80 343.20h-1.4M416.80 340.19h-1.4M416.80 337.19h-2.4M416.80 334.19h-1.4M416.80 331.19h-1.4M416.80 328.19h-1.4M416.80 325.19h-2.4M416.80 322.19h-1.4M416.80 319.19h-1.4M416.80 316.19h-1.4M416.80 313.19h-2.4M416.80 310.19h-1.4M416.80 307.19h-1.4M416.80 304.18h-1.4M416.80 301.18h-2.4M416.80 298.18h-1.4M416.80 295.18h-1.4M416.80 292.18h-1.4M416.80 289.18h-2.4" stroke="#000" stroke-width="0.9" fill="none"/>
<path d="M417.20 361.60v2.8M424.61 361.60v1.8M428.94 361.60v1.8M432.01 361.60v1.8M434.39 361.60v1.8M436.34 361.60v1.8M437.99 361.60v1.8M439.42 361.60v1.8M440.67 361.60v1.8M441.80 361.60v2.8M449.21 361.60v1.8M453.54 361.60v1.8M456.61 361.60v1.8M458.99 361.60v1.8M460.94 361.60v1.8M462.59 361.60v1.8M464.02 361.60v1.8M465.27 361.60v1.8M466.40 361.60v2.8M473.81 361.60v1.8M478.14 361.60v1.8M481.21 361.60v1.8M483.59 361.60v1.8M485.54 361.60v1.8M487.19 361.60v1.8M488.62 361.60v1.8M489.87 361.60v1.8M491.00 361.60v2.8M498.41 361.60v1.8M502.74 361.60v1.8M505.81 361.60v1.8M508.19 361.60v1.8M510.14 361.60v1.8M511.79 361.60v1.8M513.22 361.60v1.8M514.47 361.60v1.8M515.60 361.60v2.8" stroke="#000" stroke-width="0.9" fill="none"/>
<rect x="417.20" y="288.40" width="98.40" height="72.80" fill="none" stroke="#000" stroke-width="1.3"/>
<text transform="translate(413.00 365.90) scale(0.88 1)" font-size="8.5" text-anchor="end" font-weight="normal" fill="#222">0</text>
<text transform="translate(413.00 353.90) scale(0.88 1)" font-size="8.5" text-anchor="end" font-weight="normal" fill="#222">20</text>
<text transform="translate(413.00 341.89) scale(0.88 1)" font-size="8.5" text-anchor="end" font-weight="normal" fill="#222">40</text>
<text transform="translate(413.00 329.89) scale(0.88 1)" font-size="8.5" text-anchor="end" font-weight="normal" fill="#222">60</text>
<text transform="translate(413.00 317.89) scale(0.88 1)" font-size="8.5" text-anchor="end" font-weight="normal" fill="#222">80</text>
<text transform="translate(413.00 305.88) scale(0.88 1)" font-size="8.5" text-anchor="end" font-weight="normal" fill="#222">100</text>
<text transform="translate(413.00 293.88) scale(0.88 1)" font-size="8.5" text-anchor="end" font-weight="normal" fill="#222">120</text>
<line x1="443.80" y1="311.40" x2="497.80" y2="311.40" stroke="#000" stroke-width="1.3"/>
<line x1="443.80" y1="308.00" x2="443.80" y2="314.80" stroke="#000" stroke-width="1.3"/>
<line x1="497.80" y1="308.00" x2="497.80" y2="314.80" stroke="#000" stroke-width="1.3"/>
<text x="471.3" y="321.0" font-size="8.6" text-anchor="start" font-weight="normal" fill="#222">M1</text>
<text transform="translate(297.00 375.10) scale(0.9 1)" font-size="8.2" text-anchor="middle" font-weight="normal" fill="#222">10<tspan font-size="5.00" dx="0.3" dy="-2.39">0</tspan></text>
<text transform="translate(320.40 375.10) scale(0.9 1)" font-size="8.2" text-anchor="middle" font-weight="normal" fill="#222">10<tspan font-size="5.00" dx="0.3" dy="-2.39">1</tspan></text>
<text transform="translate(343.80 375.10) scale(0.9 1)" font-size="8.2" text-anchor="middle" font-weight="normal" fill="#222">10<tspan font-size="5.00" dx="0.3" dy="-2.39">2</tspan></text>
<text transform="translate(367.20 375.10) scale(0.9 1)" font-size="8.2" text-anchor="middle" font-weight="normal" fill="#222">10<tspan font-size="5.00" dx="0.3" dy="-2.39">3</tspan></text>
<text transform="translate(390.60 375.10) scale(0.9 1)" font-size="8.2" text-anchor="middle" font-weight="normal" fill="#222">10<tspan font-size="5.00" dx="0.3" dy="-2.39">4</tspan></text>
<text transform="translate(417.30 375.10) scale(0.9 1)" font-size="8.2" text-anchor="middle" font-weight="normal" fill="#222">10<tspan font-size="5.00" dx="0.3" dy="-2.39">0</tspan></text>
<text transform="translate(441.00 375.10) scale(0.9 1)" font-size="8.2" text-anchor="middle" font-weight="normal" fill="#222">10<tspan font-size="5.00" dx="0.3" dy="-2.39">1</tspan></text>
<text transform="translate(464.70 375.10) scale(0.9 1)" font-size="8.2" text-anchor="middle" font-weight="normal" fill="#222">10<tspan font-size="5.00" dx="0.3" dy="-2.39">2</tspan></text>
<text transform="translate(488.40 375.10) scale(0.9 1)" font-size="8.2" text-anchor="middle" font-weight="normal" fill="#222">10<tspan font-size="5.00" dx="0.3" dy="-2.39">3</tspan></text>
<text transform="translate(512.10 375.10) scale(0.9 1)" font-size="8.2" text-anchor="middle" font-weight="normal" fill="#222">10<tspan font-size="5.00" dx="0.3" dy="-2.39">4</tspan></text>
<line x1="287.00" y1="381.90" x2="512.00" y2="381.90" stroke="#000" stroke-width="1"/>
<path d="M516 381.9 L511 380.1 L511 383.7 Z" fill="#000"/>
<text x="397.8" y="394.4" font-size="10.3" text-anchor="middle" font-weight="normal" fill="#111">NKG2D</text>
<text x="1.8" y="414.2" font-size="18.5" text-anchor="start" font-weight="bold" fill="#000">C</text>
<clipPath id="c51_419"><rect x="51.6" y="419.5" width="116.80000000000001" height="77.89999999999998"/></clipPath>
<g clip-path="url(#c51_419)">
<path d="M51.60 497.40V497.31H52.40V497.32H53.20V496.90H54.00V497.22H54.80V497.30H55.60V497.37H56.40V497.23H57.20V497.32H58.00V497.40H58.80V497.28H59.60V497.11H60.40V497.30H61.20V497.18H62.00V497.07H62.80V497.40H63.60V497.18H64.40V497.23H65.20V497.13H66.00V497.08H66.80V497.31H67.60V496.94H68.40V496.83H69.20V496.97H70.00V497.24H70.80V496.72H71.60V497.15H72.40V496.91H73.20V497.26H74.00V496.75H74.80V497.10H75.60V497.28H76.40V497.22H77.20V497.07H78.00V497.24H78.80V497.03H79.60V496.93H80.40V497.04H81.20V496.95H82.00V496.63H82.80V497.08H83.60V496.93H84.40V496.73H85.20V497.09H86.00V496.40H86.80V496.99H87.60V496.99H88.40V497.28H89.20V496.83H90.00V496.28H90.80V496.27H91.60V495.33H92.40V495.03H93.20V495.68H94.00V494.35H94.80V492.75H95.60V494.50H96.40V492.40H97.20V493.21H98.00V490.48H98.80V490.83H99.60V488.61H100.40V489.57H101.20V490.33H102.00V483.41H102.80V485.57H103.60V483.16H104.40V482.21H105.20V481.00H106.00V476.43H106.80V470.88H107.60V473.70H108.40V466.91H109.20V461.76H110.00V462.24H110.80V452.69H111.60V458.54H112.40V453.79H113.20V452.23H114.00V459.86H114.80V454.24H115.60V460.63H116.40V449.69H117.20V463.05H118.00V461.29H118.80V466.72H119.60V464.51H120.40V466.31H121.20V472.47H122.00V471.76H122.80V478.40H123.60V480.19H124.40V481.11H125.20V482.78H126.00V486.05H126.80V489.76H127.60V489.44H128.40V490.63H129.20V491.13H130.00V492.66H130.80V494.12H131.60V495.66H132.40V496.45H133.20V496.74H134.00V496.35H134.80V496.77H135.60V497.30H136.40V497.17H137.20V496.95H138.00V497.38H138.80V497.40H139.60V497.21H140.40V497.20H141.20V497.40H142.00V497.40H142.80V497.40H143.60V497.32H144.40V497.16H145.20V497.40H146.00V497.24H146.80V497.40H147.60V497.39H148.40V497.40H149.20V497.28H150.00V497.16H150.80V497.40H151.60V497.40H152.40V497.38H153.20V497.23H154.00V497.40H154.80V497.04H155.60V497.21H156.40V497.40H157.20V497.40H158.00V497.40H158.80V497.23H159.60V497.39H160.40V497.40H161.20V497.27H162.00V497.40H162.80V497.20H163.60V497.40H164.40V497.36H165.20V497.40H166.00V497.40H166.80V497.40H167.60V497.14H168.40V497.40Z" fill="#d2d2d2" stroke="#555" stroke-width="0.8" stroke-linejoin="miter"/>
<path d="M51.60 497.40V472.07H52.20V472.14H52.80V475.09H53.40V474.00H54.00V470.48H54.60V471.70H55.20V463.09H55.80V467.75H56.40V469.51H57.00V454.58H57.60V458.10H58.20V458.51H58.80V459.23H59.40V453.54H60.00V457.64H60.60V457.92H61.20V456.73H61.80V452.56H62.40V461.28H63.00V450.20H63.60V457.48H64.20V462.71H64.80V463.30H65.40V460.99H66.00V454.72H66.60V454.97H67.20V456.09H67.80V468.52H68.40V452.45H69.00V460.45H69.60V457.67H70.20V453.06H70.80V448.28H71.40V454.41H72.00V452.97H72.60V458.12H73.20V458.05H73.80V465.02H74.40V465.65H75.00V471.63H75.60V472.31H76.20V477.35H76.80V481.30H77.40V481.90H78.00V486.01H78.60V490.53H79.20V488.63H79.80V490.83H80.40V491.87H81.00V491.77H81.60V492.45H82.20V493.62H82.80V494.30H83.40V494.39H84.00V494.94H84.60V495.10H85.20V495.67H85.80V495.38H86.40V495.46H87.00V495.48H87.60V495.01H88.20V495.79H88.80V496.00H89.40V496.62H90.00V495.36H90.60V495.17H91.20V494.85H91.80V494.24H92.40V493.24H93.00V493.33H93.60V492.68H94.20V493.45H94.80V492.00H95.40V490.26H96.00V492.22H96.60V490.54H97.20V488.85H97.80V488.61H98.40V485.14H99.00V482.11H99.60V486.49H100.20V480.88H100.80V480.59H101.40V479.99H102.00V475.52H102.60V480.65H103.20V477.30H103.80V473.26H104.40V474.64H105.00V468.94H105.60V472.78H106.20V463.92H106.80V469.26H107.40V470.72H108.00V467.51H108.60V466.40H109.20V465.70H109.80V457.46H110.40V460.07H111.00V457.92H111.60V452.43H112.20V457.46H112.80V451.95H113.40V457.29H114.00V453.32H114.60V454.42H115.20V455.54H115.80V452.01H116.40V453.54H117.00V451.80H117.60V457.53H118.20V458.22H118.80V459.86H119.40V465.34H120.00V464.47H120.60V458.07H121.20V461.91H121.80V461.57H122.40V466.28H123.00V462.31H123.60V466.23H124.20V474.22H124.80V472.44H125.40V477.60H126.00V475.91H126.60V476.32H127.20V483.01H127.80V488.20H128.40V489.86H129.00V486.21H129.60V489.28H130.20V489.22H130.80V489.74H131.40V491.57H132.00V492.67H132.60V492.52H133.20V495.36H133.80V494.60H134.40V495.12H135.00V494.57H135.60V495.56H136.20V495.16H136.80V496.10H137.40V496.79H138.00V496.42H138.60V497.00H139.20V497.40H139.80V497.26H140.40V497.40H141.00V497.40H141.60V497.40H142.20V497.40H142.80V497.35H143.40V497.40H144.00V497.40H144.60V497.40H145.20V497.40H145.80V497.40H146.40V497.40H147.00V497.39H147.60V497.40H148.20V497.40H148.80V497.40H149.40V497.40H150.00V497.40H150.60V497.40H151.20V497.40H151.80V497.20H152.40V497.33H153.00V497.40H153.60V497.40H154.20V497.40H154.80V497.40H155.40V497.40H156.00V497.40H156.60V497.27H157.20V497.36H157.80V497.40H158.40V497.40H159.00V497.40H159.60V497.30H160.20V497.40H160.80V497.40H161.40V497.40H162.00V497.22H162.60V497.40H163.20V497.20H163.80V497.40H164.40V497.37H165.00V497.38H165.60V497.21H166.20V497.40H166.80V497.40H167.40V497.05H168.00V497.25H168.60V497.40" fill="none" stroke="#707070" stroke-width="0.9"/>
<path d="M51.60 497.40V478.43H52.20V477.07H52.80V475.51H53.40V474.46H54.00V475.98H54.60V471.98H55.20V470.58H55.80V479.87H56.40V472.66H57.00V476.29H57.60V470.94H58.20V453.53H58.80V469.69H59.40V461.85H60.00V453.09H60.60V452.67H61.20V456.84H61.80V462.57H62.40V453.30H63.00V472.00H63.60V458.92H64.20V450.39H64.80V457.95H65.40V455.64H66.00V467.95H66.60V452.86H67.20V472.73H67.80V460.75H68.40V467.67H69.00V458.84H69.60V453.25H70.20V465.25H70.80V450.97H71.40V464.16H72.00V460.70H72.60V454.78H73.20V463.65H73.80V474.70H74.40V464.61H75.00V480.02H75.60V475.53H76.20V481.70H76.80V485.91H77.40V484.42H78.00V487.84H78.60V490.50H79.20V490.71H79.80V494.88H80.40V494.31H81.00V494.58H81.60V495.25H82.20V495.60H82.80V496.99H83.40V497.04H84.00V496.09H84.60V496.68H85.20V497.12H85.80V497.19H86.40V496.77H87.00V497.25H87.60V496.93H88.20V497.04H88.80V496.87H89.40V496.90H90.00V497.40H90.60V497.28H91.20V497.26H91.80V497.36H92.40V497.40H93.00V497.35H93.60V497.35H94.20V497.40H94.80V497.21H95.40V497.40H96.00V497.40H96.60V497.40H97.20V497.27H97.80V497.25H98.40V497.40H99.00V497.30H99.60V497.40H100.20V497.40H100.80V497.40H101.40V497.35H102.00V497.40H102.60V497.40H103.20V497.26H103.80V497.25H104.40V497.38H105.00V497.40H105.60V497.31H106.20V497.40H106.80V497.22H107.40V497.40H108.00V497.17H108.60V497.23H109.20V497.40H109.80V497.40H110.40V497.30H111.00V497.40H111.60V497.40H112.20V497.40H112.80V497.40H113.40V497.20H114.00V497.12H114.60V497.40H115.20V497.40H115.80V497.14H116.40V497.26H117.00V497.40H117.60V497.40H118.20V497.35H118.80V497.40H119.40V497.31H120.00V497.40H120.60V497.33H121.20V497.40H121.80V497.21H122.40V497.37H123.00V497.36H123.60V497.40H124.20V497.40H124.80V497.40H125.40V497.32H126.00V497.36H126.60V497.40H127.20V497.40H127.80V497.27H128.40V497.40H129.00V497.40H129.60V497.38H130.20V497.29H130.80V497.40H131.40V497.36H132.00V497.02H132.60V497.40H133.20V497.40H133.80V497.40H134.40V497.40H135.00V497.28H135.60V497.11H136.20V497.28H136.80V497.28H137.40V497.25H138.00V497.08H138.60V497.40H139.20V497.40H139.80V497.40H140.40V497.40H141.00V497.40H141.60V497.39H142.20V497.12H142.80V497.26H143.40V497.22H144.00V497.40H144.60V497.40H145.20V497.40H145.80V497.17H146.40V497.10H147.00V497.26H147.60V497.40H148.20V497.40H148.80V497.19H149.40V497.40H150.00V497.40H150.60V497.39H151.20V497.28H151.80V497.40H152.40V497.38H153.00V497.40H153.60V497.40H154.20V497.40H154.80V497.39H155.40V497.40H156.00V497.40H156.60V497.24H157.20V497.40H157.80V497.40H158.40V497.40H159.00V497.19H159.60V497.40H160.20V497.40H160.80V497.40H161.40V497.40H162.00V497.01H162.60V497.40H163.20V497.37H163.80V497.40H164.40V497.40H165.00V497.40H165.60V497.38H166.20V497.40H166.80V497.32H167.40V497.39H168.00V497.40H168.60V497.40" fill="none" stroke="#111" stroke-width="1.0" stroke-dasharray="1.6 1.4"/>
<path d="M51.60 497.40V496.15H52.20V496.37H52.80V495.49H53.40V495.78H54.00V496.03H54.60V496.09H55.20V496.46H55.80V494.99H56.40V495.65H57.00V496.24H57.60V495.64H58.20V494.72H58.80V495.57H59.40V495.87H60.00V495.36H60.60V496.08H61.20V495.79H61.80V496.45H62.40V494.50H63.00V495.86H63.60V496.16H64.20V495.73H64.80V495.01H65.40V494.75H66.00V494.75H66.60V495.29H67.20V496.14H67.80V495.14H68.40V494.91H69.00V496.84H69.60V495.11H70.20V495.99H70.80V493.66H71.40V496.13H72.00V495.10H72.60V495.13H73.20V494.77H73.80V494.29H74.40V495.50H75.00V495.67H75.60V494.79H76.20V494.93H76.80V494.34H77.40V492.49H78.00V492.80H78.60V493.20H79.20V490.31H79.80V491.38H80.40V489.63H81.00V488.88H81.60V488.42H82.20V488.97H82.80V487.11H83.40V488.10H84.00V489.69H84.60V487.48H85.20V484.50H85.80V485.14H86.40V485.52H87.00V478.48H87.60V480.70H88.20V478.69H88.80V484.08H89.40V478.91H90.00V484.86H90.60V478.61H91.20V483.83H91.80V475.68H92.40V471.04H93.00V477.79H93.60V467.90H94.20V469.66H94.80V466.10H95.40V470.10H96.00V467.23H96.60V453.30H97.20V464.90H97.80V463.37H98.40V458.75H99.00V460.58H99.60V466.56H100.20V462.35H100.80V463.02H101.40V467.53H102.00V462.36H102.60V464.82H103.20V467.55H103.80V468.08H104.40V471.27H105.00V470.12H105.60V471.19H106.20V467.98H106.80V476.92H107.40V476.99H108.00V481.92H108.60V480.67H109.20V481.61H109.80V481.57H110.40V485.44H111.00V484.92H111.60V476.01H112.20V480.75H112.80V483.86H113.40V484.01H114.00V482.71H114.60V481.24H115.20V482.15H115.80V483.43H116.40V482.99H117.00V485.55H117.60V484.52H118.20V488.55H118.80V488.87H119.40V489.07H120.00V491.17H120.60V493.38H121.20V490.82H121.80V492.13H122.40V493.12H123.00V493.83H123.60V494.96H124.20V496.30H124.80V496.47H125.40V496.34H126.00V496.21H126.60V496.93H127.20V497.07H127.80V497.02H128.40V497.10H129.00V497.24H129.60V497.40H130.20V497.27H130.80V497.37H131.40V497.40H132.00V497.40H132.60V497.14H133.20V497.40H133.80V497.40H134.40V497.37H135.00V497.40H135.60V497.24H136.20V497.40H136.80V497.40H137.40V497.40H138.00V497.40H138.60V497.02H139.20V497.31H139.80V497.40H140.40V497.40H141.00V497.40H141.60V497.40H142.20V497.40H142.80V497.16H143.40V497.15H144.00V497.15H144.60V497.37H145.20V497.18H145.80V497.40H146.40V497.40H147.00V497.40H147.60V497.22H148.20V497.11H148.80V497.40H149.40V497.40H150.00V497.28H150.60V497.20H151.20V497.00H151.80V497.40H152.40V497.40H153.00V497.40H153.60V497.20H154.20V497.40H154.80V497.40H155.40V496.89H156.00V497.40H156.60V497.30H157.20V497.24H157.80V497.40H158.40V497.40H159.00V497.40H159.60V497.40H160.20V497.40H160.80V497.15H161.40V497.40H162.00V497.25H162.60V497.37H163.20V497.40H163.80V497.37H164.40V497.40H165.00V497.19H165.60V497.40H166.20V497.40H166.80V497.22H167.40V497.40H168.00V497.40H168.60V497.40" fill="none" stroke="#000" stroke-width="1.4"/>
</g>
<path d="M51.20 497.40h-2.4M51.20 494.28h-1.4M51.20 491.17h-1.4M51.20 488.05h-1.4M51.20 484.94h-1.4M51.20 481.82h-1.4M51.20 478.70h-1.4M51.20 475.59h-1.4M51.20 472.47h-1.4M51.20 469.36h-1.4M51.20 466.24h-2.4M51.20 463.12h-1.4M51.20 460.01h-1.4M51.20 456.89h-1.4M51.20 453.78h-1.4M51.20 450.66h-1.4M51.20 447.54h-1.4M51.20 444.43h-1.4M51.20 441.31h-1.4M51.20 438.20h-1.4M51.20 435.08h-2.4M51.20 431.96h-1.4M51.20 428.85h-1.4M51.20 425.73h-1.4M51.20 422.62h-1.4M51.20 419.50h-1.4" stroke="#000" stroke-width="0.9" fill="none"/>
<path d="M51.60 497.80v2.8M60.39 497.80v1.8M65.53 497.80v1.8M69.18 497.80v1.8M72.01 497.80v1.8M74.32 497.80v1.8M76.28 497.80v1.8M77.97 497.80v1.8M79.46 497.80v1.8M80.80 497.80v2.8M89.59 497.80v1.8M94.73 497.80v1.8M98.38 497.80v1.8M101.21 497.80v1.8M103.52 497.80v1.8M105.48 497.80v1.8M107.17 497.80v1.8M108.66 497.80v1.8M110.00 497.80v2.8M118.79 497.80v1.8M123.93 497.80v1.8M127.58 497.80v1.8M130.41 497.80v1.8M132.72 497.80v1.8M134.68 497.80v1.8M136.37 497.80v1.8M137.86 497.80v1.8M139.20 497.80v2.8M147.99 497.80v1.8M153.13 497.80v1.8M156.78 497.80v1.8M159.61 497.80v1.8M161.92 497.80v1.8M163.88 497.80v1.8M165.57 497.80v1.8M167.06 497.80v1.8M168.40 497.80v2.8" stroke="#000" stroke-width="0.9" fill="none"/>
<rect x="51.60" y="419.50" width="116.80" height="77.90" fill="none" stroke="#000" stroke-width="1.3"/>
<text x="47.8" y="499.9" font-size="9.5" text-anchor="end" font-weight="normal" fill="#222">0</text>
<text x="47.8" y="468.7" font-size="9.5" text-anchor="end" font-weight="normal" fill="#222">10</text>
<text x="47.8" y="437.6" font-size="9.5" text-anchor="end" font-weight="normal" fill="#222">20</text>
<text x="112.2" y="413.9" font-size="10.1" text-anchor="middle" font-weight="normal" fill="#111">DAY 1</text>
<clipPath id="c186_419"><rect x="186.6" y="419.5" width="117.4" height="77.89999999999998"/></clipPath>
<g clip-path="url(#c186_419)">
<path d="M186.60 497.40V497.40H187.40V497.28H188.20V497.40H189.00V497.40H189.80V496.98H190.60V497.40H191.40V497.35H192.20V497.40H193.00V497.25H193.80V497.23H194.60V497.40H195.40V497.38H196.20V497.27H197.00V497.29H197.80V497.40H198.60V497.40H199.40V497.39H200.20V497.32H201.00V497.26H201.80V497.31H202.60V497.18H203.40V496.94H204.20V497.24H205.00V497.25H205.80V497.17H206.60V497.07H207.40V497.07H208.20V497.14H209.00V497.07H209.80V497.20H210.60V497.15H211.40V497.09H212.20V497.05H213.00V497.16H213.80V497.02H214.60V497.13H215.40V497.03H216.20V497.04H217.00V497.13H217.80V497.23H218.60V496.80H219.40V497.38H220.20V497.11H221.00V497.10H221.80V497.05H222.60V497.06H223.40V496.97H224.20V496.80H225.00V497.40H225.80V496.91H226.60V496.08H227.40V495.91H228.20V496.23H229.00V495.91H229.80V494.63H230.60V494.28H231.40V492.73H232.20V492.44H233.00V490.54H233.80V490.16H234.60V485.37H235.40V482.35H236.20V483.52H237.00V482.55H237.80V477.00H238.60V473.96H239.40V473.06H240.20V463.31H241.00V458.02H241.80V451.11H242.60V444.37H243.40V443.80H244.20V435.95H245.00V424.59H245.80V427.61H246.60V428.50H247.40V427.78H248.20V427.83H249.00V423.31H249.80V417.50H250.60V417.50H251.40V418.92H252.20V422.83H253.00V426.69H253.80V424.15H254.60V420.61H255.40V436.85H256.20V440.26H257.00V453.57H257.80V449.98H258.60V457.00H259.40V464.11H260.20V469.22H261.00V476.64H261.80V480.31H262.60V483.79H263.40V483.82H264.20V489.21H265.00V492.11H265.80V493.50H266.60V494.22H267.40V495.73H268.20V497.10H269.00V497.40H269.80V497.27H270.60V497.23H271.40V497.25H272.20V497.40H273.00V497.40H273.80V497.39H274.60V497.40H275.40V497.40H276.20V497.40H277.00V497.40H277.80V497.40H278.60V497.40H279.40V497.40H280.20V497.16H281.00V497.27H281.80V497.15H282.60V497.32H283.40V497.40H284.20V497.40H285.00V497.40H285.80V497.35H286.60V497.36H287.40V497.39H288.20V497.40H289.00V497.40H289.80V497.20H290.60V497.27H291.40V497.26H292.20V497.39H293.00V497.19H293.80V497.35H294.60V497.38H295.40V497.40H296.20V497.32H297.00V497.27H297.80V497.40H298.60V497.40H299.40V497.40H300.20V497.40H301.00V497.40H301.80V497.40H302.60V497.40H303.40V497.40H304.20V497.40Z" fill="#d2d2d2" stroke="#555" stroke-width="0.8" stroke-linejoin="miter"/>
<path d="M186.60 497.40V497.40H187.20V497.36H187.80V497.40H188.40V497.40H189.00V497.40H189.60V497.40H190.20V497.10H190.80V497.40H191.40V493.09H192.00V486.29H192.60V481.77H193.20V477.61H193.80V482.48H194.40V477.24H195.00V472.29H195.60V479.07H196.20V483.81H196.80V487.10H197.40V480.76H198.00V481.25H198.60V478.00H199.20V465.73H199.80V470.08H200.40V454.90H201.00V467.98H201.60V458.51H202.20V449.68H202.80V454.85H203.40V440.54H204.00V441.29H204.60V437.97H205.20V445.51H205.80V458.11H206.40V436.46H207.00V434.67H207.60V428.94H208.20V431.70H208.80V427.91H209.40V431.36H210.00V434.19H210.60V444.32H211.20V458.03H211.80V446.47H212.40V445.71H213.00V467.51H213.60V458.78H214.20V468.27H214.80V467.26H215.40V472.00H216.00V475.28H216.60V482.28H217.20V484.68H217.80V486.17H218.40V486.13H219.00V485.50H219.60V490.34H220.20V491.74H220.80V492.44H221.40V491.47H222.00V492.10H222.60V494.16H223.20V493.35H223.80V492.61H224.40V488.56H225.00V491.21H225.60V487.32H226.20V488.50H226.80V489.25H227.40V485.68H228.00V487.73H228.60V488.84H229.20V489.53H229.80V487.35H230.40V489.21H231.00V491.53H231.60V493.59H232.20V493.61H232.80V493.33H233.40V493.78H234.00V494.52H234.60V494.89H235.20V496.34H235.80V494.95H236.40V496.08H237.00V496.75H237.60V496.49H238.20V496.79H238.80V496.93H239.40V496.74H240.00V496.54H240.60V497.40H241.20V496.01H241.80V495.63H242.40V496.11H243.00V496.89H243.60V496.53H244.20V495.68H244.80V497.02H245.40V496.04H246.00V496.13H246.60V495.81H247.20V496.07H247.80V496.87H248.40V496.67H249.00V497.19H249.60V496.65H250.20V497.05H250.80V496.81H251.40V495.22H252.00V496.80H252.60V494.71H253.20V496.77H253.80V496.57H254.40V496.49H255.00V495.96H255.60V496.02H256.20V496.85H256.80V496.86H257.40V497.07H258.00V496.95H258.60V496.20H259.20V495.68H259.80V496.31H260.40V497.40H261.00V497.40H261.60V497.22H262.20V497.40H262.80V496.55H263.40V497.40H264.00V496.79H264.60V497.40H265.20V496.98H265.80V496.79H266.40V497.40H267.00V496.95H267.60V497.18H268.20V496.98H268.80V497.03H269.40V497.10H270.00V497.15H270.60V497.19H271.20V497.05H271.80V497.09H272.40V497.35H273.00V497.07H273.60V496.99H274.20V496.88H274.80V497.32H275.40V497.28H276.00V497.03H276.60V497.05H277.20V497.10H277.80V497.34H278.40V497.27H279.00V497.40H279.60V497.40H280.20V497.12H280.80V497.16H281.40V497.40H282.00V497.40H282.60V497.40H283.20V497.40H283.80V497.40H284.40V497.31H285.00V497.33H285.60V497.40H286.20V497.40H286.80V497.40H287.40V497.32H288.00V497.38H288.60V497.40H289.20V497.40H289.80V497.31H290.40V497.40H291.00V497.29H291.60V497.25H292.20V497.22H292.80V497.40H293.40V497.40H294.00V497.38H294.60V497.40H295.20V497.40H295.80V497.07H296.40V497.30H297.00V497.40H297.60V497.40H298.20V497.40H298.80V497.03H299.40V497.40H300.00V497.40H300.60V497.06H301.20V497.34H301.80V497.40H302.40V497.28H303.00V497.40H303.60V497.40H304.20V497.40" fill="none" stroke="#707070" stroke-width="0.9"/>
<path d="M186.60 497.40V497.40H187.20V497.40H187.80V496.98H188.40V497.32H189.00V497.30H189.60V497.40H190.20V497.40H190.80V497.36H191.40V495.85H192.00V491.95H192.60V485.92H193.20V487.92H193.80V481.06H194.40V488.16H195.00V479.61H195.60V482.74H196.20V481.10H196.80V486.13H197.40V480.38H198.00V480.13H198.60V482.71H199.20V472.29H199.80V474.54H200.40V460.78H201.00V455.99H201.60V465.05H202.20V469.76H202.80V472.67H203.40V438.72H204.00V448.02H204.60V442.34H205.20V462.77H205.80V447.40H206.40V439.92H207.00V429.71H207.60V445.88H208.20V427.66H208.80V456.80H209.40V448.23H210.00V454.99H210.60V450.99H211.20V456.48H211.80V464.78H212.40V462.69H213.00V464.97H213.60V476.07H214.20V477.12H214.80V484.83H215.40V479.57H216.00V484.53H216.60V486.46H217.20V485.89H217.80V487.36H218.40V487.20H219.00V489.39H219.60V490.79H220.20V491.28H220.80V492.26H221.40V494.56H222.00V495.08H222.60V494.78H223.20V495.81H223.80V494.63H224.40V495.29H225.00V496.77H225.60V496.79H226.20V497.26H226.80V497.40H227.40V497.40H228.00V497.40H228.60V497.14H229.20V497.40H229.80V497.40H230.40V497.40H231.00V497.33H231.60V497.40H232.20V497.38H232.80V497.40H233.40V497.32H234.00V497.28H234.60V497.23H235.20V497.29H235.80V497.28H236.40V497.40H237.00V497.27H237.60V497.40H238.20V497.40H238.80V497.40H239.40V497.23H240.00V497.29H240.60V497.39H241.20V497.21H241.80V497.40H242.40V497.22H243.00V497.40H243.60V497.40H244.20V497.40H244.80V497.36H245.40V497.40H246.00V497.40H246.60V497.40H247.20V497.39H247.80V497.40H248.40V497.13H249.00V497.40H249.60V497.40H250.20V497.40H250.80V497.40H251.40V497.40H252.00V497.40H252.60V497.40H253.20V497.40H253.80V497.40H254.40V497.40H255.00V497.39H255.60V497.40H256.20V497.40H256.80V497.23H257.40V497.40H258.00V497.40H258.60V497.40H259.20V497.40H259.80V497.40H260.40V497.09H261.00V497.40H261.60V497.27H262.20V497.06H262.80V497.25H263.40V497.40H264.00V497.40H264.60V497.18H265.20V497.36H265.80V497.31H266.40V497.40H267.00V497.40H267.60V497.16H268.20V497.39H268.80V497.40H269.40V497.05H270.00V497.40H270.60V497.40H271.20V497.20H271.80V497.00H272.40V497.40H273.00V497.40H273.60V497.40H274.20V497.14H274.80V497.37H275.40V497.40H276.00V497.40H276.60V497.20H277.20V497.20H277.80V497.40H278.40V497.40H279.00V497.40H279.60V497.32H280.20V496.89H280.80V497.22H281.40V497.40H282.00V497.04H282.60V497.30H283.20V497.31H283.80V497.40H284.40V497.40H285.00V497.31H285.60V497.40H286.20V497.40H286.80V497.38H287.40V497.40H288.00V497.11H288.60V497.37H289.20V497.14H289.80V497.26H290.40V497.27H291.00V497.40H291.60V496.97H292.20V497.24H292.80V497.40H293.40V497.40H294.00V497.33H294.60V497.36H295.20V497.40H295.80V497.40H296.40V497.29H297.00V497.40H297.60V497.40H298.20V497.40H298.80V497.40H299.40V497.21H300.00V497.39H300.60V497.40H301.20V497.39H301.80V497.34H302.40V497.32H303.00V497.40H303.60V497.36H304.20V497.40" fill="none" stroke="#111" stroke-width="1.0" stroke-dasharray="1.6 1.4"/>
<path d="M186.60 497.40V497.26H187.60V497.40H188.60V497.38H189.60V497.40H190.60V497.27H191.60V497.40H192.60V497.40H193.60V497.38H194.60V496.29H195.60V493.18H196.60V491.87H197.60V490.88H198.60V490.97H199.60V489.73H200.60V491.98H201.60V487.19H202.60V485.29H203.60V483.70H204.60V481.19H205.60V475.20H206.60V478.20H207.60V469.60H208.60V469.53H209.60V476.12H210.60V470.15H211.60V456.26H212.60V462.31H213.60V448.37H214.60V470.63H215.60V472.79H216.60V464.09H217.60V470.64H218.60V476.53H219.60V481.97H220.60V480.96H221.60V479.46H222.60V477.09H223.60V484.73H224.60V483.15H225.60V483.51H226.60V477.91H227.60V484.40H228.60V487.07H229.60V482.92H230.60V482.89H231.60V482.59H232.60V486.17H233.60V483.91H234.60V480.26H235.60V485.88H236.60V490.73H237.60V487.49H238.60V488.68H239.60V487.26H240.60V492.14H241.60V489.42H242.60V491.49H243.60V492.07H244.60V494.10H245.60V491.77H246.60V495.10H247.60V493.32H248.60V493.11H249.60V493.01H250.60V492.44H251.60V494.30H252.60V494.09H253.60V493.82H254.60V495.42H255.60V495.79H256.60V495.77H257.60V495.15H258.60V497.40H259.60V497.40H260.60V497.40H261.60V497.24H262.60V497.40H263.60V497.40H264.60V497.40H265.60V497.40H266.60V497.33H267.60V497.28H268.60V497.40H269.60V497.40H270.60V497.40H271.60V497.39H272.60V497.36H273.60V497.35H274.60V497.40H275.60V497.29H276.60V497.40H277.60V497.27H278.60V497.36H279.60V497.40H280.60V497.40H281.60V497.40H282.60V497.36H283.60V497.34H284.60V497.00H285.60V497.39H286.60V497.40H287.60V497.30H288.60V497.23H289.60V497.39H290.60V497.18H291.60V497.40H292.60V497.40H293.60V497.40H294.60V497.40H295.60V497.28H296.60V497.13H297.60V497.40H298.60V497.40H299.60V497.40H300.60V497.40H301.60V497.10H302.60V497.40H303.60V497.40H304.60V497.40" fill="none" stroke="#000" stroke-width="1.4"/>
</g>
<path d="M186.20 497.40h-2.4M186.20 494.89h-1.4M186.20 492.37h-1.4M186.20 489.86h-1.4M186.20 487.35h-1.4M186.20 484.84h-1.4M186.20 482.32h-1.4M186.20 479.81h-1.4M186.20 477.30h-1.4M186.20 474.78h-1.4M186.20 472.27h-2.4M186.20 469.76h-1.4M186.20 467.25h-1.4M186.20 464.73h-1.4M186.20 462.22h-1.4M186.20 459.71h-1.4M186.20 457.19h-1.4M186.20 454.68h-1.4M186.20 452.17h-1.4M186.20 449.65h-1.4M186.20 447.14h-2.4M186.20 444.63h-1.4M186.20 442.12h-1.4M186.20 439.60h-1.4M186.20 437.09h-1.4M186.20 434.58h-1.4M186.20 432.06h-1.4M186.20 429.55h-1.4M186.20 427.04h-1.4M186.20 424.53h-1.4M186.20 422.01h-2.4M186.20 419.50h-1.4" stroke="#000" stroke-width="0.9" fill="none"/>
<path d="M186.60 497.80v2.8M195.44 497.80v1.8M200.60 497.80v1.8M204.27 497.80v1.8M207.11 497.80v1.8M209.44 497.80v1.8M211.40 497.80v1.8M213.11 497.80v1.8M214.61 497.80v1.8M215.95 497.80v2.8M224.79 497.80v1.8M229.95 497.80v1.8M233.62 497.80v1.8M236.46 497.80v1.8M238.79 497.80v1.8M240.75 497.80v1.8M242.46 497.80v1.8M243.96 497.80v1.8M245.30 497.80v2.8M254.14 497.80v1.8M259.30 497.80v1.8M262.97 497.80v1.8M265.81 497.80v1.8M268.14 497.80v1.8M270.10 497.80v1.8M271.81 497.80v1.8M273.31 497.80v1.8M274.65 497.80v2.8M283.49 497.80v1.8M288.65 497.80v1.8M292.32 497.80v1.8M295.16 497.80v1.8M297.49 497.80v1.8M299.45 497.80v1.8M301.16 497.80v1.8M302.66 497.80v1.8M304.00 497.80v2.8" stroke="#000" stroke-width="0.9" fill="none"/>
<rect x="186.60" y="419.50" width="117.40" height="77.90" fill="none" stroke="#000" stroke-width="1.3"/>
<text x="182.8" y="499.9" font-size="9.5" text-anchor="end" font-weight="normal" fill="#222">0</text>
<text x="182.8" y="474.8" font-size="9.5" text-anchor="end" font-weight="normal" fill="#222">10</text>
<text x="182.8" y="449.6" font-size="9.5" text-anchor="end" font-weight="normal" fill="#222">20</text>
<text x="182.8" y="424.5" font-size="9.5" text-anchor="end" font-weight="normal" fill="#222">30</text>
<text x="243.8" y="413.5" font-size="10.1" text-anchor="middle" font-weight="normal" fill="#111">DAY 3</text>
<clipPath id="c323_419"><rect x="323.3" y="419.4" width="118.09999999999997" height="77.80000000000001"/></clipPath>
<g clip-path="url(#c323_419)">
<path d="M323.30 497.20V496.94H324.10V497.20H324.90V497.20H325.70V497.04H326.50V497.20H327.30V497.13H328.10V497.10H328.90V497.07H329.70V497.09H330.50V497.05H331.30V496.88H332.10V497.10H332.90V497.14H333.70V497.14H334.50V497.03H335.30V496.99H336.10V496.87H336.90V496.87H337.70V497.06H338.50V497.16H339.30V496.91H340.10V496.69H340.90V497.16H341.70V496.70H342.50V497.01H343.30V496.89H344.10V496.96H344.90V496.79H345.70V496.71H346.50V496.54H347.30V497.20H348.10V496.93H348.90V496.17H349.70V496.61H350.50V496.81H351.30V497.20H352.10V496.91H352.90V496.34H353.70V496.15H354.50V496.29H355.30V497.20H356.10V497.06H356.90V496.41H357.70V496.30H358.50V497.20H359.30V495.62H360.10V496.33H360.90V496.91H361.70V496.30H362.50V494.50H363.30V495.75H364.10V494.04H364.90V493.75H365.70V494.28H366.50V492.77H367.30V493.59H368.10V491.63H368.90V491.56H369.70V491.28H370.50V491.72H371.30V491.52H372.10V487.52H372.90V488.71H373.70V487.20H374.50V486.40H375.30V488.00H376.10V484.75H376.90V484.50H377.70V485.52H378.50V484.59H379.30V483.45H380.10V479.06H380.90V476.57H381.70V476.18H382.50V481.83H383.30V481.23H384.10V473.27H384.90V474.63H385.70V473.56H386.50V475.51H387.30V470.72H388.10V473.92H388.90V467.95H389.70V461.53H390.50V465.00H391.30V462.10H392.10V457.25H392.90V455.58H393.70V465.04H394.50V460.88H395.30V460.32H396.10V461.80H396.90V462.81H397.70V472.55H398.50V469.47H399.30V476.17H400.10V478.36H400.90V479.86H401.70V482.98H402.50V489.82H403.30V491.76H404.10V492.36H404.90V492.07H405.70V493.58H406.50V494.57H407.30V494.69H408.10V496.79H408.90V495.94H409.70V496.91H410.50V496.60H411.30V496.87H412.10V496.96H412.90V497.20H413.70V497.14H414.50V497.11H415.30V496.60H416.10V497.20H416.90V497.20H417.70V497.20H418.50V497.10H419.30V497.20H420.10V497.20H420.90V496.87H421.70V497.20H422.50V497.20H423.30V497.20H424.10V497.15H424.90V497.20H425.70V497.20H426.50V497.20H427.30V497.20H428.10V497.20H428.90V497.20H429.70V497.20H430.50V497.20H431.30V497.07H432.10V497.20H432.90V497.04H433.70V497.20H434.50V497.05H435.30V497.20H436.10V497.07H436.90V497.15H437.70V497.20H438.50V497.20H439.30V496.98H440.10V497.19H440.90V496.96H441.70V497.20Z" fill="#d2d2d2" stroke="#555" stroke-width="0.8" stroke-linejoin="miter"/>
<path d="M323.30 497.20V489.03H323.90V487.87H324.50V482.75H325.10V482.27H325.70V478.80H326.30V478.73H326.90V480.39H327.50V481.19H328.10V479.77H328.70V486.74H329.30V486.41H329.90V485.19H330.50V479.33H331.10V482.86H331.70V479.72H332.30V482.89H332.90V479.24H333.50V476.73H334.10V477.29H334.70V475.98H335.30V473.42H335.90V475.09H336.50V469.29H337.10V472.23H337.70V467.19H338.30V463.64H338.90V465.47H339.50V468.54H340.10V463.46H340.70V467.48H341.30V469.20H341.90V468.67H342.50V458.27H343.10V458.25H343.70V471.14H344.30V460.92H344.90V465.67H345.50V464.49H346.10V474.39H346.70V464.96H347.30V468.34H347.90V465.36H348.50V469.02H349.10V479.42H349.70V472.10H350.30V466.90H350.90V474.86H351.50V484.88H352.10V484.20H352.70V478.27H353.30V483.57H353.90V488.54H354.50V486.03H355.10V490.45H355.70V489.06H356.30V489.19H356.90V490.86H357.50V490.20H358.10V493.30H358.70V492.63H359.30V495.15H359.90V494.23H360.50V494.91H361.10V492.45H361.70V494.83H362.30V494.81H362.90V493.19H363.50V493.29H364.10V495.30H364.70V492.01H365.30V493.43H365.90V493.08H366.50V490.90H367.10V492.73H367.70V490.19H368.30V489.79H368.90V489.99H369.50V489.47H370.10V489.85H370.70V488.58H371.30V490.07H371.90V487.90H372.50V491.13H373.10V485.65H373.70V482.97H374.30V485.20H374.90V486.25H375.50V488.23H376.10V483.32H376.70V482.27H377.30V482.61H377.90V474.76H378.50V483.91H379.10V481.41H379.70V478.26H380.30V485.74H380.90V474.87H381.50V476.69H382.10V475.54H382.70V479.83H383.30V477.80H383.90V471.47H384.50V473.91H385.10V474.64H385.70V472.59H386.30V461.78H386.90V471.68H387.50V464.42H388.10V456.08H388.70V456.58H389.30V471.84H389.90V458.86H390.50V461.55H391.10V446.71H391.70V457.36H392.30V448.04H392.90V454.99H393.50V457.06H394.10V443.66H394.70V449.43H395.30V467.55H395.90V458.86H396.50V468.79H397.10V456.21H397.70V459.96H398.30V467.93H398.90V474.00H399.50V470.75H400.10V474.96H400.70V479.95H401.30V483.20H401.90V486.52H402.50V484.38H403.10V487.59H403.70V487.02H404.30V490.27H404.90V491.47H405.50V492.12H406.10V494.85H406.70V492.67H407.30V492.71H407.90V495.09H408.50V494.68H409.10V495.50H409.70V495.16H410.30V494.91H410.90V495.01H411.50V495.78H412.10V497.12H412.70V497.13H413.30V496.84H413.90V497.20H414.50V497.20H415.10V497.12H415.70V497.20H416.30V497.20H416.90V497.09H417.50V496.93H418.10V497.01H418.70V497.20H419.30V497.13H419.90V497.15H420.50V497.19H421.10V497.10H421.70V497.20H422.30V497.20H422.90V497.01H423.50V497.00H424.10V496.99H424.70V497.20H425.30V497.20H425.90V497.20H426.50V497.02H427.10V497.20H427.70V497.15H428.30V497.08H428.90V497.20H429.50V497.20H430.10V497.20H430.70V497.00H431.30V497.20H431.90V497.06H432.50V497.20H433.10V497.09H433.70V497.20H434.30V497.20H434.90V497.10H435.50V497.20H436.10V497.07H436.70V497.20H437.30V497.20H437.90V497.20H438.50V497.20H439.10V497.20H439.70V497.20H440.30V497.20H440.90V497.09H441.50V497.20" fill="none" stroke="#707070" stroke-width="0.9"/>
<path d="M323.30 497.20V488.25H323.90V490.04H324.50V482.24H325.10V483.66H325.70V479.86H326.30V480.80H326.90V488.19H327.50V487.35H328.10V485.62H328.70V484.96H329.30V487.77H329.90V490.07H330.50V490.00H331.10V481.59H331.70V483.62H332.30V478.92H332.90V477.44H333.50V486.43H334.10V473.11H334.70V479.95H335.30V472.00H335.90V475.73H336.50V485.03H337.10V473.48H337.70V476.15H338.30V469.81H338.90V474.88H339.50V471.59H340.10V473.07H340.70V468.93H341.30V472.44H341.90V473.51H342.50V472.82H343.10V477.88H343.70V470.05H344.30V478.23H344.90V476.60H345.50V473.83H346.10V471.59H346.70V472.29H347.30V474.64H347.90V464.68H348.50V474.11H349.10V480.88H349.70V479.15H350.30V478.38H350.90V481.00H351.50V484.17H352.10V482.09H352.70V482.77H353.30V485.50H353.90V487.21H354.50V487.13H355.10V489.54H355.70V491.37H356.30V491.42H356.90V492.22H357.50V493.05H358.10V493.23H358.70V495.26H359.30V495.58H359.90V495.56H360.50V496.36H361.10V496.28H361.70V496.39H362.30V496.69H362.90V497.14H363.50V497.20H364.10V497.10H364.70V497.20H365.30V497.20H365.90V497.20H366.50V496.89H367.10V497.20H367.70V497.18H368.30V496.87H368.90V497.20H369.50V497.20H370.10V497.20H370.70V497.18H371.30V497.07H371.90V497.20H372.50V497.20H373.10V497.19H373.70V497.20H374.30V497.13H374.90V497.20H375.50V497.20H376.10V497.20H376.70V497.20H377.30V497.13H377.90V497.13H378.50V497.13H379.10V497.16H379.70V496.99H380.30V497.11H380.90V496.87H381.50V497.17H382.10V497.20H382.70V497.04H383.30V497.20H383.90V497.09H384.50V496.83H385.10V497.08H385.70V497.16H386.30V497.20H386.90V497.20H387.50V497.13H388.10V497.10H388.70V497.01H389.30V497.20H389.90V497.20H390.50V497.11H391.10V497.20H391.70V497.20H392.30V497.20H392.90V496.97H393.50V497.14H394.10V496.90H394.70V496.92H395.30V496.97H395.90V497.10H396.50V497.13H397.10V497.19H397.70V497.20H398.30V497.20H398.90V497.20H399.50V496.91H400.10V497.10H400.70V497.20H401.30V497.20H401.90V497.15H402.50V496.97H403.10V497.20H403.70V497.20H404.30V496.90H404.90V497.00H405.50V497.16H406.10V497.13H406.70V497.18H407.30V497.16H407.90V497.06H408.50V497.20H409.10V497.13H409.70V497.13H410.30V496.92H410.90V497.20H411.50V497.20H412.10V497.13H412.70V496.98H413.30V497.03H413.90V497.04H414.50V497.00H415.10V497.13H415.70V496.98H416.30V497.20H416.90V497.20H417.50V497.11H418.10V497.03H418.70V497.16H419.30V497.20H419.90V497.13H420.50V496.91H421.10V497.20H421.70V497.20H422.30V497.01H422.90V497.05H423.50V497.06H424.10V497.14H424.70V497.08H425.30V496.88H425.90V496.93H426.50V496.80H427.10V497.20H427.70V497.03H428.30V497.18H428.90V497.20H429.50V497.06H430.10V497.09H430.70V497.20H431.30V497.20H431.90V497.19H432.50V497.20H433.10V497.20H433.70V497.20H434.30V497.09H434.90V496.92H435.50V497.20H436.10V496.94H436.70V497.20H437.30V497.06H437.90V497.20H438.50V497.20H439.10V497.20H439.70V497.20H440.30V497.20H440.90V497.20H441.50V497.20" fill="none" stroke="#111" stroke-width="1.0" stroke-dasharray="1.6 1.4"/>
<path d="M323.30 497.20V496.74H324.50V496.59H325.70V497.20H326.90V496.68H328.10V496.55H329.30V496.46H330.50V496.11H331.70V495.25H332.90V496.61H334.10V496.23H335.30V495.30H336.50V495.97H337.70V495.72H338.90V496.45H340.10V496.41H341.30V495.57H342.50V495.42H343.70V495.90H344.90V494.84H346.10V494.73H347.30V491.89H348.50V491.19H349.70V492.19H350.90V492.46H352.10V490.77H353.30V491.77H354.50V490.21H355.70V490.26H356.90V490.62H358.10V492.72H359.30V492.53H360.50V488.43H361.70V484.59H362.90V482.55H364.10V472.88H365.30V474.30H366.50V479.52H367.70V471.23H368.90V468.46H370.10V472.23H371.30V471.32H372.50V471.01H373.70V468.12H374.90V458.06H376.10V467.48H377.30V465.96H378.50V469.57H379.70V469.35H380.90V472.84H382.10V467.27H383.30V466.54H384.50V455.84H385.70V468.63H386.90V474.09H388.10V476.10H389.30V472.57H390.50V480.42H391.70V486.16H392.90V484.10H394.10V486.28H395.30V490.13H396.50V490.67H397.70V491.06H398.90V491.92H400.10V491.49H401.30V494.82H402.50V494.93H403.70V495.21H404.90V496.33H406.10V497.20H407.30V497.04H408.50V497.20H409.70V497.20H410.90V497.20H412.10V497.20H413.30V497.20H414.50V497.20H415.70V496.95H416.90V497.20H418.10V496.84H419.30V497.20H420.50V497.20H421.70V497.10H422.90V497.20H424.10V497.20H425.30V497.20H426.50V497.07H427.70V497.16H428.90V496.86H430.10V497.20H431.30V497.20H432.50V497.20H433.70V497.20H434.90V497.09H436.10V497.20H437.30V497.07H438.50V497.13H439.70V497.20H440.90V497.17H442.10V497.20" fill="none" stroke="#000" stroke-width="1.4"/>
</g>
<path d="M322.90 497.20h-2.4M322.90 494.69h-1.4M322.90 492.18h-1.4M322.90 489.67h-1.4M322.90 487.16h-1.4M322.90 484.65h-1.4M322.90 482.14h-1.4M322.90 479.63h-1.4M322.90 477.12h-1.4M322.90 474.61h-1.4M322.90 472.10h-2.4M322.90 469.59h-1.4M322.90 467.08h-1.4M322.90 464.57h-1.4M322.90 462.06h-1.4M322.90 459.55h-1.4M322.90 457.05h-1.4M322.90 454.54h-1.4M322.90 452.03h-1.4M322.90 449.52h-1.4M322.90 447.01h-2.4M322.90 444.50h-1.4M322.90 441.99h-1.4M322.90 439.48h-1.4M322.90 436.97h-1.4M322.90 434.46h-1.4M322.90 431.95h-1.4M322.90 429.44h-1.4M322.90 426.93h-1.4M322.90 424.42h-1.4M322.90 421.91h-2.4M322.90 419.40h-1.4" stroke="#000" stroke-width="0.9" fill="none"/>
<path d="M323.30 497.60v2.8M332.19 497.60v1.8M337.39 497.60v1.8M341.08 497.60v1.8M343.94 497.60v1.8M346.27 497.60v1.8M348.25 497.60v1.8M349.96 497.60v1.8M351.47 497.60v1.8M352.82 497.60v2.8M361.71 497.60v1.8M366.91 497.60v1.8M370.60 497.60v1.8M373.46 497.60v1.8M375.80 497.60v1.8M377.78 497.60v1.8M379.49 497.60v1.8M381.00 497.60v1.8M382.35 497.60v2.8M391.24 497.60v1.8M396.44 497.60v1.8M400.13 497.60v1.8M402.99 497.60v1.8M405.32 497.60v1.8M407.30 497.60v1.8M409.01 497.60v1.8M410.52 497.60v1.8M411.88 497.60v2.8M420.76 497.60v1.8M425.96 497.60v1.8M429.65 497.60v1.8M432.51 497.60v1.8M434.85 497.60v1.8M436.83 497.60v1.8M438.54 497.60v1.8M440.05 497.60v1.8M441.40 497.60v2.8" stroke="#000" stroke-width="0.9" fill="none"/>
<rect x="323.30" y="419.40" width="118.10" height="77.80" fill="none" stroke="#000" stroke-width="1.3"/>
<text x="319.5" y="499.7" font-size="9.5" text-anchor="end" font-weight="normal" fill="#222">0</text>
<text x="319.5" y="474.6" font-size="9.5" text-anchor="end" font-weight="normal" fill="#222">10</text>
<text x="319.5" y="449.5" font-size="9.5" text-anchor="end" font-weight="normal" fill="#222">20</text>
<text x="319.5" y="424.4" font-size="9.5" text-anchor="end" font-weight="normal" fill="#222">30</text>
<text x="378.4" y="414.4" font-size="10.1" text-anchor="middle" font-weight="normal" fill="#111">DAY 7</text>
<text x="52.8" y="508.6" font-size="7.6" text-anchor="middle" font-weight="normal" fill="#222">10<tspan font-size="5.00" dx="0.3" dy="-1.96">0</tspan></text>
<text x="80.8" y="508.6" font-size="7.6" text-anchor="middle" font-weight="normal" fill="#222">10<tspan font-size="5.00" dx="0.3" dy="-1.96">1</tspan></text>
<text x="108.7" y="508.6" font-size="7.6" text-anchor="middle" font-weight="normal" fill="#222">10<tspan font-size="5.00" dx="0.3" dy="-1.96">2</tspan></text>
<text x="136.6" y="508.6" font-size="7.6" text-anchor="middle" font-weight="normal" fill="#222">10<tspan font-size="5.00" dx="0.3" dy="-1.96">3</tspan></text>
<text x="164.6" y="508.6" font-size="7.6" text-anchor="middle" font-weight="normal" fill="#222">10<tspan font-size="5.00" dx="0.3" dy="-1.96">4</tspan></text>
<text x="189.2" y="508.6" font-size="7.6" text-anchor="middle" font-weight="normal" fill="#222">10<tspan font-size="5.00" dx="0.3" dy="-1.96">0</tspan></text>
<text x="217.1" y="508.6" font-size="7.6" text-anchor="middle" font-weight="normal" fill="#222">10<tspan font-size="5.00" dx="0.3" dy="-1.96">1</tspan></text>
<text x="245.0" y="508.6" font-size="7.6" text-anchor="middle" font-weight="normal" fill="#222">10<tspan font-size="5.00" dx="0.3" dy="-1.96">2</tspan></text>
<text x="272.9" y="508.6" font-size="7.6" text-anchor="middle" font-weight="normal" fill="#222">10<tspan font-size="5.00" dx="0.3" dy="-1.96">3</tspan></text>
<text x="300.8" y="508.6" font-size="7.6" text-anchor="middle" font-weight="normal" fill="#222">10<tspan font-size="5.00" dx="0.3" dy="-1.96">4</tspan></text>
<text x="326.2" y="508.6" font-size="7.6" text-anchor="middle" font-weight="normal" fill="#222">10<tspan font-size="5.00" dx="0.3" dy="-1.96">0</tspan></text>
<text x="353.8" y="508.6" font-size="7.6" text-anchor="middle" font-weight="normal" fill="#222">10<tspan font-size="5.00" dx="0.3" dy="-1.96">1</tspan></text>
<text x="381.4" y="508.6" font-size="7.6" text-anchor="middle" font-weight="normal" fill="#222">10<tspan font-size="5.00" dx="0.3" dy="-1.96">2</tspan></text>
<text x="409.0" y="508.6" font-size="7.6" text-anchor="middle" font-weight="normal" fill="#222">10<tspan font-size="5.00" dx="0.3" dy="-1.96">3</tspan></text>
<text x="436.6" y="508.6" font-size="7.6" text-anchor="middle" font-weight="normal" fill="#222">10<tspan font-size="5.00" dx="0.3" dy="-1.96">4</tspan></text>
<line x1="54.50" y1="511.80" x2="436.00" y2="511.80" stroke="#000" stroke-width="1"/>
<path d="M440 511.8 L435 510 L435 513.6 Z" fill="#000"/>
<text x="259.4" y="527.7" font-size="10.8" text-anchor="middle" font-weight="normal" fill="#111">NKG2D</text>
</svg></body></html>
